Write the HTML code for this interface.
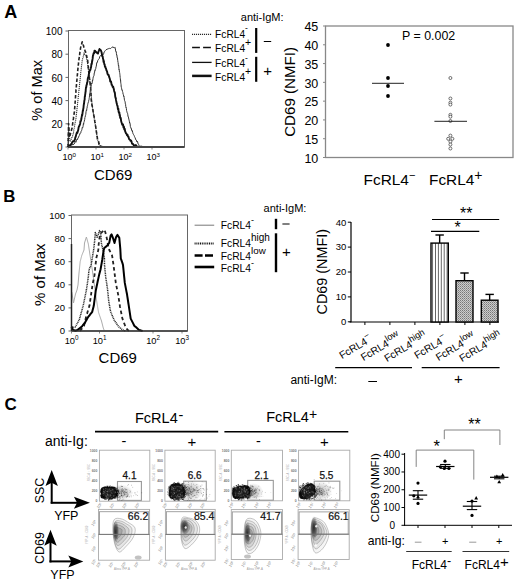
<!DOCTYPE html>
<html><head><meta charset="utf-8"><style>
html,body{margin:0;padding:0;background:#fff;}
body{width:520px;height:588px;overflow:hidden;}
svg{display:block;font-family:"Liberation Sans", sans-serif;}
</style></head><body>
<svg width="520" height="588" viewBox="0 0 520 588">
<rect width="520" height="588" fill="#fff"/>
<defs><filter id="bl" x="-20%" y="-20%" width="140%" height="140%"><feGaussianBlur stdDeviation="0.6"/></filter></defs><text x="4.3" y="18" font-size="18" text-anchor="start" font-weight="bold" fill="#000">A</text><rect x="68.5" y="30.5" width="116.0" height="116.5" fill="none" stroke="#666" stroke-width="1"/><line x1="65.5" y1="31.0" x2="68.5" y2="31.0" stroke="#666" stroke-width="1"/><text x="62.5" y="35.2" font-size="10" text-anchor="end" font-weight="normal" fill="#000">100</text><line x1="65.5" y1="54.2" x2="68.5" y2="54.2" stroke="#666" stroke-width="1"/><text x="62.5" y="58.400000000000006" font-size="10" text-anchor="end" font-weight="normal" fill="#000">80</text><line x1="65.5" y1="77.4" x2="68.5" y2="77.4" stroke="#666" stroke-width="1"/><text x="62.5" y="81.60000000000001" font-size="10" text-anchor="end" font-weight="normal" fill="#000">60</text><line x1="65.5" y1="100.6" x2="68.5" y2="100.6" stroke="#666" stroke-width="1"/><text x="62.5" y="104.8" font-size="10" text-anchor="end" font-weight="normal" fill="#000">40</text><line x1="65.5" y1="123.8" x2="68.5" y2="123.8" stroke="#666" stroke-width="1"/><text x="62.5" y="128.0" font-size="10" text-anchor="end" font-weight="normal" fill="#000">20</text><line x1="65.5" y1="147.0" x2="68.5" y2="147.0" stroke="#666" stroke-width="1"/><text x="62.5" y="151.2" font-size="10" text-anchor="end" font-weight="normal" fill="#000">0</text><text x="41.9" y="90.3" font-size="14.6" text-anchor="middle" font-weight="normal" fill="#000" transform="rotate(-90 41.9 90.3)">% of Max</text><line x1="68" y1="147" x2="68" y2="149.5" stroke="#888" stroke-width="1"/><text x="62.6" y="160" font-size="9" text-anchor="start" fill="#000">10<tspan dy="-3.4" font-size="6.2">0</tspan></text><line x1="96" y1="147" x2="96" y2="149.5" stroke="#888" stroke-width="1"/><text x="90.6" y="160" font-size="9" text-anchor="start" fill="#000">10<tspan dy="-3.4" font-size="6.2">1</tspan></text><line x1="124" y1="147" x2="124" y2="149.5" stroke="#888" stroke-width="1"/><text x="118.6" y="160" font-size="9" text-anchor="start" fill="#000">10<tspan dy="-3.4" font-size="6.2">2</tspan></text><line x1="152" y1="147" x2="152" y2="149.5" stroke="#888" stroke-width="1"/><text x="146.6" y="160" font-size="9" text-anchor="start" fill="#000">10<tspan dy="-3.4" font-size="6.2">3</tspan></text><text x="113.2" y="180" font-size="15" text-anchor="middle" font-weight="normal" fill="#000">CD69</text><polyline points="68.00,147.00 68.03,146.00 68.05,144.56 68.08,144.42 68.11,143.32 68.13,141.71 68.16,140.99 68.18,139.94 68.21,139.18 68.24,138.35 68.26,136.51 68.29,135.43 68.32,135.40 68.34,133.92 68.37,133.31 68.39,131.40 68.42,130.93 68.45,130.27 68.47,128.67 68.50,128.53 68.61,129.48 68.71,129.44 68.82,130.43 68.93,132.05 69.04,133.53 69.14,133.86 69.25,134.66 69.36,135.91 69.46,136.43 69.57,137.67 69.68,138.93 69.79,139.99 69.89,140.68 70.00,141.68 70.43,140.66 70.86,139.95 71.29,138.75 71.71,137.43 72.14,137.41 72.57,136.07 73.00,135.17 73.18,133.62 73.35,133.59 73.53,132.43 73.71,130.55 73.88,129.80 74.06,129.27 74.24,128.25 74.41,127.52 74.59,125.91 74.76,125.40 74.94,124.20 75.12,122.76 75.29,122.11 75.47,121.46 75.65,120.42 75.82,119.01 76.00,118.11 76.11,116.44 76.22,115.69 76.33,115.36 76.44,113.90 76.56,112.61 76.67,112.06 76.78,111.24 76.89,110.21 77.00,108.85 77.11,107.93 77.22,107.01 77.33,106.33 77.44,105.03 77.56,103.87 77.67,102.99 77.78,101.44 77.89,100.45 78.00,100.24 78.10,99.58 78.20,98.11 78.30,96.87 78.40,95.60 78.50,95.00 78.60,94.58 78.70,93.32 78.80,92.05 78.90,91.43 79.00,89.68 79.10,89.02 79.20,88.54 79.30,87.09 79.40,85.95 79.50,84.72 79.60,84.06 79.70,83.55 79.80,81.41 79.90,81.34 80.00,80.38 80.11,79.46 80.22,78.29 80.33,77.37 80.44,76.02 80.56,75.07 80.67,73.91 80.78,72.47 80.89,72.44 81.00,71.08 81.11,69.64 81.22,69.01 81.33,67.98 81.44,66.83 81.56,65.82 81.67,65.05 81.78,64.15 81.89,63.13 82.00,61.95 82.22,60.43 82.44,59.68 82.67,58.61 82.89,58.10 83.11,57.43 83.33,56.36 83.56,55.36 83.78,54.38 84.00,52.71 84.75,54.41 85.50,55.21 85.80,55.50 86.10,56.42 86.40,57.42 86.70,59.31 87.00,59.70 87.14,60.53 87.29,62.15 87.43,62.81 87.57,63.48 87.71,64.59 87.86,66.03 88.00,66.60 88.14,67.73 88.29,69.25 88.43,69.95 88.57,70.79 88.71,71.97 88.86,72.43 89.00,73.86 89.11,74.91 89.23,75.63 89.34,76.53 89.46,78.48 89.57,79.01 89.69,79.65 89.80,81.13 89.91,82.38 90.03,82.42 90.14,83.42 90.26,84.58 90.37,86.26 90.49,86.59 90.60,88.25 90.69,89.21 90.77,90.05 90.86,90.66 90.95,92.57 91.04,93.36 91.12,94.02 91.21,94.67 91.30,96.18 91.39,96.87 91.47,98.09 91.56,98.79 91.65,100.16 91.74,100.47 91.83,101.76 91.91,103.56 92.00,104.45 92.16,104.77 92.31,106.43 92.47,106.77 92.62,108.53 92.78,109.29 92.94,109.90 93.09,110.70 93.25,111.41 93.41,113.45 93.56,113.45 93.72,115.38 93.88,116.55 94.03,117.08 94.19,117.61 94.34,119.44 94.50,120.57 94.66,121.24 94.82,122.01 94.97,122.85 95.13,123.82 95.29,124.65 95.45,126.21 95.61,126.92 95.76,127.63 95.92,128.53 96.08,130.20 96.24,130.76 96.39,132.00 96.55,132.79 96.71,134.45 96.87,135.48 97.03,135.42 97.18,136.64 97.34,137.79 97.50,139.58 97.92,140.34 98.33,140.81 98.75,141.66 99.17,143.21 99.58,144.41 100.00,145.52 101.00,145.48 102.00,146.33 103.00,147.00" fill="none" stroke="#333" stroke-width="1.1" stroke-linejoin="round" stroke-dasharray="1.2,0.8"/><polyline points="68.00,147.00 68.03,146.00 68.05,145.55 68.08,144.54 68.10,142.47 68.13,141.50 68.16,141.40 68.18,140.28 68.21,139.20 68.23,137.77 68.26,137.13 68.29,136.13 68.31,135.10 68.34,133.59 68.37,132.92 68.39,131.87 68.42,131.27 68.44,130.59 68.47,129.54 68.50,128.05 68.52,126.93 68.55,125.72 68.57,124.44 68.60,123.43 68.67,124.96 68.74,125.78 68.81,126.86 68.88,128.47 68.95,129.03 69.02,130.07 69.08,130.68 69.15,131.43 69.22,132.79 69.29,133.56 69.36,135.01 69.43,136.60 69.50,137.21 69.78,135.62 70.06,135.47 70.33,134.36 70.61,133.28 70.89,132.49 71.17,131.32 71.44,130.35 71.72,128.82 72.00,128.58 72.15,127.55 72.29,125.59 72.44,125.30 72.59,124.26 72.74,122.95 72.88,122.04 73.03,120.99 73.18,120.51 73.32,119.00 73.47,118.40 73.62,116.82 73.76,116.46 73.91,115.48 74.06,113.95 74.21,113.08 74.35,112.50 74.50,111.27 74.57,109.98 74.64,108.67 74.71,107.79 74.79,107.24 74.86,105.60 74.93,105.49 75.00,103.72 75.07,103.49 75.14,101.77 75.21,101.55 75.29,100.25 75.36,99.01 75.43,98.02 75.50,97.18 75.57,96.11 75.64,94.77 75.71,93.65 75.79,93.01 75.86,92.52 75.93,91.15 76.00,89.49 76.09,89.38 76.18,88.27 76.27,87.49 76.36,85.63 76.45,85.29 76.55,83.47 76.64,83.18 76.73,81.73 76.82,80.67 76.91,80.45 77.00,78.53 77.09,78.03 77.18,77.42 77.27,75.69 77.36,74.65 77.45,74.46 77.55,72.91 77.64,72.26 77.73,70.44 77.82,69.83 77.91,68.61 78.00,68.21 78.11,66.50 78.22,66.55 78.33,64.43 78.44,64.28 78.56,62.43 78.67,61.71 78.78,61.38 78.89,59.59 79.00,58.62 79.15,58.23 79.29,56.86 79.44,55.45 79.58,55.59 79.73,53.58 79.87,52.44 80.02,51.81 80.16,51.14 80.31,50.29 80.45,48.54 80.60,47.80 80.87,46.35 81.13,45.77 81.40,45.07 81.67,43.95 81.93,43.07 82.20,41.81 82.53,43.06 82.85,44.00 83.17,44.84 83.50,45.67 83.84,47.19 84.18,47.78 84.52,48.52 84.86,49.94 85.20,51.45 85.49,51.55 85.78,53.10 86.06,53.87 86.35,55.02 86.64,55.57 86.92,57.55 87.21,57.71 87.50,59.13 87.60,59.90 87.70,60.42 87.80,62.07 87.90,62.57 88.00,63.47 88.10,64.44 88.20,65.59 88.30,66.52 88.40,68.16 88.50,69.01 88.60,70.58 88.70,71.52 88.80,72.59 88.90,72.68 89.00,73.93 89.11,74.70 89.23,76.11 89.34,77.15 89.46,78.36 89.57,79.25 89.69,79.71 89.80,80.91 89.91,82.03 90.03,82.41 90.14,83.44 90.26,84.89 90.37,85.53 90.49,87.27 90.60,87.69 90.66,88.52 90.71,89.62 90.77,90.68 90.83,91.66 90.89,93.02 90.94,93.96 91.00,94.77 91.06,96.17 91.11,96.65 91.17,98.49 91.23,99.56 91.29,100.27 91.34,100.92 91.40,102.01 91.58,103.10 91.76,103.46 91.95,104.90 92.13,106.03 92.31,106.62 92.49,107.51 92.68,109.36 92.86,109.84 93.04,111.02 93.22,112.51 93.41,113.13 93.59,113.75 93.77,115.58 93.95,115.85 94.14,116.42 94.32,118.22 94.50,118.52 94.65,119.77 94.80,121.41 94.95,122.21 95.10,122.42 95.25,123.94 95.40,124.89 95.55,125.98 95.70,126.65 95.85,128.11 96.00,128.49 96.15,129.74 96.30,130.85 96.45,132.52 96.60,132.49 96.75,134.31 96.90,134.63 97.05,136.09 97.20,136.87 97.35,137.96 97.50,139.30 97.80,139.87 98.10,140.55 98.40,141.55 98.70,142.50 99.00,144.42 99.80,145.00 100.60,146.22 101.40,146.50 102.70,146.75 104.00,147.00" fill="none" stroke="#222" stroke-width="1.6" stroke-linejoin="round" stroke-dasharray="3.5,2"/><polyline points="68.00,147.00 69.00,146.49 70.00,145.45 71.00,145.55 72.00,144.68 73.00,144.64 74.00,144.17 75.00,142.53 75.50,141.49 76.00,142.19 76.50,140.10 77.00,139.11 77.50,139.69 78.00,137.70 78.50,137.49 79.00,135.83 79.50,135.22 80.00,133.30 80.38,133.33 80.75,132.86 81.12,131.23 81.50,130.73 81.88,129.66 82.25,127.50 82.62,127.95 83.00,126.68 83.21,125.11 83.43,123.58 83.64,124.25 83.86,122.47 84.07,121.97 84.29,121.30 84.50,119.98 84.71,119.40 84.93,117.35 85.14,117.17 85.36,115.47 85.57,115.46 85.79,114.35 86.00,111.79 86.21,110.89 86.43,110.06 86.64,110.57 86.86,108.53 87.07,107.92 87.29,106.29 87.50,105.71 87.71,104.49 87.93,103.43 88.14,102.91 88.36,101.93 88.57,101.58 88.79,100.15 89.00,99.66 89.16,98.43 89.32,97.62 89.48,95.90 89.64,93.81 89.80,94.12 89.96,93.25 90.12,92.05 90.28,90.30 90.44,89.51 90.60,87.42 90.87,87.64 91.13,86.10 91.40,84.50 91.67,83.04 91.93,83.60 92.20,82.85 92.47,80.02 92.73,80.42 93.00,78.62 93.25,77.07 93.51,76.33 93.76,76.26 94.01,75.44 94.27,72.76 94.52,72.87 94.77,70.70 95.03,71.02 95.28,69.22 95.53,69.30 95.79,68.47 96.04,66.49 96.29,66.45 96.55,64.05 96.80,62.55 97.30,62.57 97.80,60.40 98.30,59.69 98.80,59.08 99.30,58.45 99.80,56.51 100.60,55.48 101.40,56.34 102.20,54.43 103.00,54.92 103.60,53.89 104.20,51.96 104.80,51.22 105.40,50.44 106.00,49.79 107.15,49.24 108.30,48.72 109.45,48.39 110.60,48.58 111.80,47.36 113.00,46.86 114.10,47.94 115.20,47.48 115.41,48.58 115.62,50.92 115.83,50.99 116.04,52.02 116.25,51.93 116.45,53.72 116.66,55.03 116.87,54.89 117.08,57.07 117.29,58.08 117.50,57.92 117.65,60.07 117.81,60.76 117.96,62.20 118.11,62.56 118.27,64.28 118.42,65.36 118.57,64.94 118.73,66.03 118.88,68.27 119.03,69.86 119.19,69.45 119.34,70.87 119.49,72.16 119.65,72.63 119.80,73.73 119.91,74.63 120.03,75.74 120.14,77.19 120.26,77.60 120.37,78.75 120.49,80.54 120.60,80.05 120.71,82.14 120.83,83.47 120.94,83.62 121.06,84.45 121.17,86.61 121.29,86.48 121.40,87.37 121.69,88.83 121.98,90.32 122.26,90.09 122.55,91.49 122.84,92.48 123.12,94.44 123.41,94.61 123.70,96.41 123.91,96.06 124.11,97.41 124.32,99.06 124.53,100.55 124.73,100.70 124.94,101.27 125.15,102.08 125.35,103.92 125.56,104.26 125.77,106.51 125.97,107.60 126.18,107.31 126.39,108.52 126.59,110.59 126.80,111.28 127.05,112.65 127.31,112.76 127.56,113.36 127.81,114.72 128.07,116.75 128.32,116.74 128.57,117.93 128.83,119.10 129.08,120.14 129.33,121.15 129.59,123.21 129.84,122.71 130.09,123.44 130.35,126.35 130.60,127.26 130.95,128.42 131.31,128.26 131.66,130.24 132.02,131.14 132.37,130.67 132.72,132.67 133.08,133.80 133.43,134.40 133.78,135.05 134.14,135.54 134.49,136.59 134.85,137.31 135.20,137.94 135.77,139.84 136.35,140.10 136.93,142.01 137.50,141.34 138.07,143.92 138.65,144.36 139.23,145.69 139.80,146.49 140.98,146.02 142.15,146.35 143.32,146.68 144.50,147.00" fill="none" stroke="#333" stroke-width="1" stroke-linejoin="round"/><polyline points="68.00,147.00 69.00,146.33 70.00,145.09 71.00,144.13 71.57,143.89 72.14,142.47 72.71,141.39 73.29,141.24 73.86,141.49 74.43,140.35 75.00,139.38 75.33,137.21 75.67,136.93 76.00,135.38 76.33,134.17 76.67,133.04 77.00,132.31 77.33,132.90 77.67,131.70 78.00,130.67 78.31,129.64 78.62,127.29 78.93,126.53 79.24,126.21 79.55,125.42 79.85,124.67 80.16,123.71 80.47,120.95 80.78,121.07 81.09,120.20 81.40,118.81 81.60,116.99 81.80,116.54 82.00,114.60 82.20,115.36 82.40,114.10 82.60,112.30 82.80,110.66 83.00,110.90 83.17,109.08 83.33,108.69 83.50,107.53 83.67,105.71 83.83,104.42 84.00,103.75 84.17,102.30 84.33,100.63 84.50,99.87 84.62,99.96 84.75,97.25 84.88,96.23 85.00,96.48 85.12,94.69 85.25,94.23 85.38,93.06 85.50,91.75 85.62,92.17 85.75,89.38 85.88,88.83 86.00,87.35 86.21,87.29 86.43,85.51 86.64,84.68 86.86,84.54 87.07,82.61 87.29,82.13 87.50,81.89 87.71,79.12 87.93,78.04 88.14,77.40 88.36,77.58 88.57,76.25 88.79,74.42 89.00,73.63 89.27,72.29 89.53,71.91 89.80,69.99 90.07,70.43 90.33,69.87 90.60,69.00 90.87,67.52 91.13,67.01 91.40,63.94 91.58,63.54 91.76,64.03 91.93,62.61 92.11,60.80 92.29,60.98 92.47,59.27 92.64,58.70 92.82,56.55 93.00,55.32 93.30,54.88 93.60,53.20 93.90,52.74 94.20,53.02 94.50,50.63 95.25,50.92 96.00,52.00 97.50,53.27 98.00,53.58 98.50,51.62 99.00,50.42 99.50,48.95 100.00,49.86 100.38,49.68 100.75,50.26 101.12,50.98 101.50,52.02 101.80,53.43 102.10,55.71 102.40,55.71 102.70,56.63 103.00,58.78 103.27,59.22 103.55,61.84 103.82,60.89 104.09,62.76 104.36,64.27 104.64,64.44 104.91,66.68 105.18,66.53 105.45,66.99 105.73,68.33 106.00,68.48 106.50,70.45 107.00,71.20 107.50,73.73 108.00,74.73 108.33,74.97 108.65,74.92 108.97,76.38 109.30,77.33 109.62,78.23 109.95,79.26 110.27,81.64 110.60,81.01 111.12,81.85 111.63,84.81 112.15,85.04 112.67,87.01 113.18,86.75 113.70,88.88 113.91,89.37 114.11,90.69 114.32,91.62 114.53,92.09 114.73,92.24 114.94,93.52 115.15,96.01 115.35,97.09 115.56,98.17 115.77,97.91 115.97,99.64 116.18,100.98 116.39,101.66 116.59,103.07 116.80,103.46 117.06,104.76 117.31,105.85 117.57,105.96 117.82,108.42 118.08,109.51 118.33,108.60 118.59,111.59 118.84,112.59 119.10,112.97 119.36,112.62 119.61,115.52 119.87,114.85 120.12,117.72 120.38,118.08 120.63,117.77 120.89,119.02 121.14,121.08 121.40,121.95 121.82,123.32 122.24,124.70 122.65,124.13 123.07,124.63 123.49,127.64 123.91,126.62 124.33,129.50 124.75,128.81 125.16,131.32 125.58,132.24 126.00,133.43 126.50,133.61 127.00,135.23 127.50,134.64 128.00,136.58 128.50,136.73 129.00,138.86 129.50,139.50 130.00,139.74 130.50,140.76 131.00,140.56 131.50,141.48 132.00,143.61 132.96,144.00 133.92,145.44 134.88,145.50 135.84,145.09 136.80,146.50 137.87,146.67 138.93,146.83 140.00,147.00" fill="none" stroke="#111" stroke-width="1.9" stroke-linejoin="round"/><line x1="68.5" y1="147" x2="184.5" y2="147" stroke="#444" stroke-width="1.8"/><text x="240.8" y="21" font-size="11" text-anchor="start" font-weight="normal" fill="#000">anti-IgM:</text><line x1="192.1" y1="34.4" x2="211.6" y2="34.4" stroke="#111" stroke-width="1.2" stroke-dasharray="1,1"/><text x="215.1" y="38" font-size="10.2" text-anchor="start" fill="#000">FcRL4<tspan dy="-6.8" font-size="8.5">-</tspan></text><line x1="192.1" y1="47.5" x2="211.6" y2="47.5" stroke="#111" stroke-width="1.7" stroke-dasharray="7.8,3.2"/><text x="215.1" y="51.9" font-size="10.2" text-anchor="start" fill="#000">FcRL4<tspan dy="-6" font-size="10.5">+</tspan></text><line x1="192.1" y1="62.4" x2="211.6" y2="62.4" stroke="#111" stroke-width="1.3"/><text x="215.1" y="67.3" font-size="10.2" text-anchor="start" fill="#000">FcRL4<tspan dy="-6.8" font-size="8.5">-</tspan></text><line x1="192.1" y1="75.9" x2="211.6" y2="75.9" stroke="#111" stroke-width="2.5"/><text x="215.1" y="80.8" font-size="10.2" text-anchor="start" fill="#000">FcRL4<tspan dy="-6" font-size="10.5">+</tspan></text><line x1="256.2" y1="28" x2="256.2" y2="52.9" stroke="#000" stroke-width="2.2"/><line x1="256.2" y1="56.8" x2="256.2" y2="81.8" stroke="#000" stroke-width="2.2"/><line x1="263.8" y1="41.5" x2="271.2" y2="41.5" stroke="#000" stroke-width="1"/><text x="267.7" y="75.8" font-size="15" text-anchor="middle" font-weight="normal" fill="#000">+</text><rect x="325.5" y="26" width="187.5" height="131.5" fill="none" stroke="#888" stroke-width="1.3"/><line x1="323" y1="26.0" x2="325.5" y2="26.0" stroke="#888" stroke-width="1"/><text x="318.3" y="31.2" font-size="12.5" text-anchor="end" font-weight="normal" fill="#000">45</text><line x1="323" y1="44.78571428571429" x2="325.5" y2="44.78571428571429" stroke="#888" stroke-width="1"/><text x="318.3" y="49.985714285714295" font-size="12.5" text-anchor="end" font-weight="normal" fill="#000">40</text><line x1="323" y1="63.57142857142857" x2="325.5" y2="63.57142857142857" stroke="#888" stroke-width="1"/><text x="318.3" y="68.77142857142857" font-size="12.5" text-anchor="end" font-weight="normal" fill="#000">35</text><line x1="323" y1="82.35714285714286" x2="325.5" y2="82.35714285714286" stroke="#888" stroke-width="1"/><text x="318.3" y="87.55714285714286" font-size="12.5" text-anchor="end" font-weight="normal" fill="#000">30</text><line x1="323" y1="101.14285714285714" x2="325.5" y2="101.14285714285714" stroke="#888" stroke-width="1"/><text x="318.3" y="106.34285714285714" font-size="12.5" text-anchor="end" font-weight="normal" fill="#000">25</text><line x1="323" y1="119.92857142857143" x2="325.5" y2="119.92857142857143" stroke="#888" stroke-width="1"/><text x="318.3" y="125.12857142857143" font-size="12.5" text-anchor="end" font-weight="normal" fill="#000">20</text><line x1="323" y1="138.71428571428572" x2="325.5" y2="138.71428571428572" stroke="#888" stroke-width="1"/><text x="318.3" y="143.9142857142857" font-size="12.5" text-anchor="end" font-weight="normal" fill="#000">15</text><line x1="323" y1="157.5" x2="325.5" y2="157.5" stroke="#888" stroke-width="1"/><text x="318.3" y="162.7" font-size="12.5" text-anchor="end" font-weight="normal" fill="#000">10</text><text x="295.3" y="91.9" font-size="15.1" text-anchor="middle" font-weight="normal" fill="#000" transform="rotate(-90 295.3 91.9)">CD69 (NMFI)</text><text x="402" y="40.1" font-size="12.4" text-anchor="start" font-weight="normal" fill="#000">P = 0.002</text><circle cx="388" cy="45" r="1.9" fill="#000"/><circle cx="388" cy="78" r="1.9" fill="#000"/><circle cx="388" cy="86" r="1.9" fill="#000"/><circle cx="388" cy="96" r="1.9" fill="#000"/><line x1="372" y1="83.3" x2="404" y2="83.3" stroke="#222" stroke-width="1"/><circle cx="450.4" cy="78" r="1.5" fill="#fff" stroke="#333" stroke-width="0.7"/><circle cx="450.4" cy="98.5" r="1.5" fill="#fff" stroke="#333" stroke-width="0.7"/><circle cx="450.4" cy="102.7" r="1.5" fill="#fff" stroke="#333" stroke-width="0.7"/><circle cx="450.4" cy="104.6" r="1.5" fill="#fff" stroke="#333" stroke-width="0.7"/><circle cx="450.4" cy="114.8" r="1.5" fill="#fff" stroke="#333" stroke-width="0.7"/><circle cx="450.4" cy="116.7" r="1.5" fill="#fff" stroke="#333" stroke-width="0.7"/><circle cx="450.4" cy="121" r="1.5" fill="#fff" stroke="#333" stroke-width="0.7"/><circle cx="450.4" cy="135.6" r="1.5" fill="#fff" stroke="#333" stroke-width="0.7"/><circle cx="448.2" cy="138.8" r="1.5" fill="#fff" stroke="#333" stroke-width="0.7"/><circle cx="452.4" cy="138.8" r="1.5" fill="#fff" stroke="#333" stroke-width="0.7"/><circle cx="450.4" cy="141.7" r="1.5" fill="#fff" stroke="#333" stroke-width="0.7"/><circle cx="450.4" cy="144.6" r="1.5" fill="#fff" stroke="#333" stroke-width="0.7"/><circle cx="450.4" cy="148.5" r="1.5" fill="#fff" stroke="#333" stroke-width="0.7"/><line x1="434.4" y1="121.3" x2="467" y2="121.3" stroke="#222" stroke-width="1"/><text x="363.6" y="184.5" font-size="15.4" text-anchor="start" fill="#000">FcRL4<tspan dy="-5.2" font-size="11">−</tspan></text><text x="429" y="184.5" font-size="15.4" text-anchor="start" fill="#000">FcRL4<tspan dy="-4.1" font-size="14">+</tspan></text><text x="3.3" y="202" font-size="16.8" text-anchor="start" font-weight="bold" fill="#000">B</text><rect x="71.5" y="215" width="116.0" height="116" fill="none" stroke="#666" stroke-width="1"/><line x1="68.5" y1="215.5" x2="71.5" y2="215.5" stroke="#666" stroke-width="1"/><text x="65" y="218.9" font-size="9.5" text-anchor="end" font-weight="normal" fill="#000">100</text><line x1="68.5" y1="238.6" x2="71.5" y2="238.6" stroke="#666" stroke-width="1"/><text x="65" y="242.0" font-size="9.5" text-anchor="end" font-weight="normal" fill="#000">80</text><line x1="68.5" y1="261.7" x2="71.5" y2="261.7" stroke="#666" stroke-width="1"/><text x="65" y="265.09999999999997" font-size="9.5" text-anchor="end" font-weight="normal" fill="#000">60</text><line x1="68.5" y1="284.8" x2="71.5" y2="284.8" stroke="#666" stroke-width="1"/><text x="65" y="288.2" font-size="9.5" text-anchor="end" font-weight="normal" fill="#000">40</text><line x1="68.5" y1="307.9" x2="71.5" y2="307.9" stroke="#666" stroke-width="1"/><text x="65" y="311.29999999999995" font-size="9.5" text-anchor="end" font-weight="normal" fill="#000">20</text><line x1="68.5" y1="331.0" x2="71.5" y2="331.0" stroke="#666" stroke-width="1"/><text x="65" y="334.4" font-size="9.5" text-anchor="end" font-weight="normal" fill="#000">0</text><text x="44.6" y="274.7" font-size="15" text-anchor="middle" font-weight="normal" fill="#000" transform="rotate(-90 44.6 274.7)">% of Max</text><line x1="71.5" y1="331" x2="71.5" y2="333.5" stroke="#888" stroke-width="1"/><text x="64.7" y="343.5" font-size="9.3" text-anchor="start" fill="#000">10<tspan dy="-3.4" font-size="6.3">0</tspan></text><line x1="99.5" y1="331" x2="99.5" y2="333.5" stroke="#888" stroke-width="1"/><text x="92.7" y="343.5" font-size="9.3" text-anchor="start" fill="#000">10<tspan dy="-3.4" font-size="6.3">1</tspan></text><line x1="153" y1="331" x2="153" y2="333.5" stroke="#888" stroke-width="1"/><text x="146.2" y="343.5" font-size="9.3" text-anchor="start" fill="#000">10<tspan dy="-3.4" font-size="6.3">2</tspan></text><line x1="182" y1="331" x2="182" y2="333.5" stroke="#888" stroke-width="1"/><text x="175.2" y="343.5" font-size="9.3" text-anchor="start" fill="#000">10<tspan dy="-3.4" font-size="6.3">3</tspan></text><text x="117.8" y="363" font-size="15" text-anchor="middle" font-weight="normal" fill="#000">CD69</text><polyline points="71.80,292.00 71.95,293.00 72.11,294.00 72.26,295.00 72.42,296.00 72.57,297.00 72.73,298.00 72.88,299.00 73.04,300.00 73.19,301.00 73.35,302.00 73.50,303.00 73.72,302.00 73.94,301.00 74.17,300.00 74.39,299.00 74.61,298.00 74.83,297.00 75.06,296.00 75.28,295.00 75.50,294.00 75.88,293.00 76.25,292.00 76.62,291.00 77.00,290.00 77.20,289.00 77.40,288.00 77.60,287.00 77.80,286.00 78.00,285.00 78.08,284.00 78.17,283.00 78.25,282.00 78.33,281.00 78.42,280.00 78.50,279.00 78.58,278.00 78.67,277.00 78.75,276.00 78.83,275.00 78.92,274.00 79.00,273.00 79.11,271.95 79.22,270.91 79.33,269.86 79.44,268.82 79.55,267.77 79.65,266.73 79.76,265.68 79.87,264.64 79.98,263.59 80.09,262.55 80.20,261.50 80.47,260.48 80.73,259.47 81.00,258.45 81.27,257.43 81.53,256.42 81.80,255.40 82.24,254.32 82.68,253.24 83.12,252.16 83.56,251.08 84.00,250.00 84.07,249.00 84.14,248.00 84.21,247.00 84.29,246.00 84.36,245.00 84.43,244.00 84.50,243.00 84.82,242.00 85.13,241.00 85.45,240.00 85.77,239.00 86.08,238.00 86.40,237.00 86.67,237.97 86.94,238.94 87.21,239.91 87.49,240.89 87.76,241.86 88.03,242.83 88.30,243.80 88.45,244.82 88.61,245.84 88.76,246.85 88.92,247.87 89.07,248.89 89.23,249.91 89.38,250.93 89.54,251.95 89.69,252.96 89.85,253.98 90.00,255.00 90.15,256.00 90.31,257.00 90.46,258.00 90.62,259.00 90.77,260.00 90.92,261.00 91.08,262.00 91.23,263.00 91.38,264.00 91.54,265.00 91.69,266.00 91.85,267.00 92.00,268.00 92.14,269.00 92.29,270.00 92.43,271.00 92.57,272.00 92.71,273.00 92.86,274.00 93.00,275.00 93.14,276.00 93.29,277.00 93.43,278.00 93.57,279.00 93.71,280.00 93.86,281.00 94.00,282.00 94.14,283.00 94.28,284.00 94.42,285.00 94.57,286.00 94.71,287.00 94.85,288.00 94.99,289.00 95.13,290.00 95.28,291.00 95.42,292.00 95.56,293.00 95.70,294.00 95.83,295.07 95.95,296.15 96.08,297.23 96.20,298.30 96.37,299.32 96.54,300.34 96.71,301.36 96.89,302.39 97.06,303.41 97.23,304.43 97.40,305.45 97.57,306.47 97.74,307.49 97.91,308.51 98.09,309.54 98.26,310.56 98.43,311.58 98.60,312.60 98.96,313.65 99.32,314.70 99.69,315.75 100.05,316.80 100.41,317.85 100.78,318.90 101.14,319.95 101.50,321.00 101.76,322.01 102.01,323.03 102.27,324.04 102.53,325.06 102.79,326.07 103.04,327.09 103.30,328.10 103.70,329.07 104.10,330.03 104.50,331.00" fill="none" stroke="#aaa" stroke-width="1" stroke-linejoin="round"/><polyline points="71.80,327.00 73.00,327.60 74.20,327.20 75.40,326.80 75.89,325.91 76.38,325.02 76.86,324.14 77.35,323.25 77.84,322.36 78.33,321.48 78.81,320.59 79.30,319.70 79.58,318.69 79.86,317.69 80.14,316.68 80.41,315.67 80.69,314.66 80.97,313.66 81.25,312.65 81.53,311.64 81.81,310.64 82.09,309.63 82.36,308.62 82.64,307.61 82.92,306.61 83.20,305.60 83.41,304.56 83.63,303.52 83.84,302.48 84.05,301.44 84.27,300.40 84.48,299.36 84.69,298.32 84.91,297.28 85.12,296.24 85.33,295.20 85.55,294.16 85.76,293.12 85.97,292.08 86.19,291.04 86.40,290.00 86.56,288.92 86.72,287.84 86.88,286.76 87.04,285.68 87.20,284.60 87.36,283.51 87.51,282.43 87.67,281.34 87.83,280.26 87.99,279.17 88.14,278.09 88.30,277.00 88.40,276.00 88.50,275.00 88.60,274.00 88.70,273.00 88.80,272.00 88.90,271.00 89.00,270.00 89.44,268.90 89.88,267.80 90.32,266.70 90.76,265.60 91.20,264.50 91.37,263.45 91.55,262.41 91.72,261.36 91.89,260.31 92.07,259.27 92.24,258.22 92.41,257.17 92.59,256.13 92.76,255.08 92.93,254.03 93.11,252.99 93.28,251.94 93.45,250.89 93.63,249.85 93.80,248.80 93.91,247.73 94.02,246.67 94.13,245.60 94.24,244.53 94.36,243.47 94.47,242.40 94.58,241.33 94.69,240.27 94.80,239.20 94.88,238.08 94.97,236.97 95.05,235.85 95.13,234.73 95.22,233.62 95.30,232.50 95.68,233.46 96.06,234.42 96.44,235.38 96.82,236.34 97.20,237.30 97.54,236.34 97.89,235.39 98.23,234.43 98.57,233.47 98.91,232.51 99.26,231.56 99.60,230.60 100.10,231.55 100.60,232.50 100.68,233.55 100.76,234.59 100.85,235.64 100.93,236.68 101.01,237.73 101.09,238.77 101.17,239.82 101.25,240.86 101.34,241.91 101.42,242.95 101.50,244.00 101.79,245.10 102.07,246.20 102.36,247.30 102.64,248.40 102.93,249.50 103.21,250.60 103.50,251.70 103.65,252.83 103.80,253.97 103.95,255.10 104.10,256.23 104.25,257.37 104.40,258.50 104.42,259.58 104.43,260.67 104.45,261.75 104.47,262.83 104.48,263.92 104.50,265.00 104.61,266.08 104.72,267.16 104.83,268.25 104.94,269.33 105.05,270.41 105.15,271.49 105.26,272.57 105.37,273.65 105.48,274.74 105.59,275.82 105.70,276.90 105.85,277.89 106.00,278.88 106.15,279.88 106.30,280.87 106.45,281.86 106.60,282.85 106.75,283.84 106.90,284.83 107.05,285.82 107.20,286.82 107.35,287.81 107.50,288.80 107.61,289.88 107.72,290.96 107.83,292.05 107.94,293.13 108.05,294.21 108.15,295.29 108.26,296.37 108.37,297.45 108.48,298.54 108.59,299.62 108.70,300.70 108.88,301.77 109.06,302.84 109.24,303.91 109.42,304.98 109.60,306.05 109.78,307.12 109.96,308.19 110.14,309.26 110.32,310.33 110.50,311.40 110.89,312.33 111.28,313.27 111.67,314.20 112.06,315.13 112.44,316.07 112.83,317.00 113.22,317.93 113.61,318.87 114.00,319.80 114.60,320.69 115.20,321.57 115.80,322.46 116.40,323.35 117.00,324.24 117.60,325.12 118.20,326.01 118.80,326.90 119.60,327.50 120.40,328.10 121.20,328.70 122.00,329.30 122.80,329.90 123.60,330.50 124.80,330.75 126.00,331.00" fill="none" stroke="#222" stroke-width="1.5" stroke-linejoin="round" stroke-dasharray="1,0.7"/><polyline points="80.00,331.00 80.67,330.17 81.33,329.33 82.00,328.50 82.67,327.67 83.33,326.83 84.00,326.00 84.23,325.00 84.45,324.00 84.68,323.00 84.91,322.00 85.14,321.00 85.36,320.00 85.59,319.00 85.82,318.00 86.05,317.00 86.27,316.00 86.50,315.00 87.10,313.50 87.40,312.51 87.70,311.52 88.00,310.54 88.30,309.55 88.60,308.56 88.90,307.58 89.20,306.59 89.50,305.60 89.65,304.58 89.79,303.55 89.94,302.53 90.08,301.51 90.23,300.48 90.38,299.46 90.52,298.44 90.67,297.42 90.82,296.39 90.96,295.37 91.11,294.35 91.25,293.32 91.40,292.30 91.60,291.15 91.80,290.00 91.94,288.92 92.08,287.84 92.22,286.76 92.36,285.68 92.50,284.60 92.72,283.58 92.94,282.56 93.17,281.53 93.39,280.51 93.61,279.49 93.83,278.47 94.06,277.44 94.28,276.42 94.50,275.40 94.60,274.30 94.70,273.20 94.80,272.10 94.90,271.00 95.00,269.90 95.10,268.80 95.20,267.70 95.32,266.70 95.44,265.70 95.56,264.70 95.68,263.70 95.80,262.70 95.92,261.70 96.04,260.70 96.16,259.70 96.28,258.70 96.40,257.70 96.67,256.60 96.94,255.50 97.21,254.40 97.49,253.30 97.76,252.20 98.03,251.10 98.30,250.00 98.37,249.00 98.43,248.00 98.50,247.00 98.57,246.00 98.63,245.00 98.70,244.00 98.85,242.88 99.00,241.77 99.15,240.65 99.30,239.53 99.45,238.42 99.60,237.30 99.98,236.34 100.36,235.38 100.74,234.42 101.12,233.46 101.50,232.50 102.22,231.78 102.95,231.05 103.68,230.32 104.40,229.60 104.73,230.57 105.07,231.53 105.40,232.50 105.68,233.66 105.96,234.82 106.24,235.98 106.52,237.14 106.80,238.30 107.00,239.35 107.19,240.40 107.38,241.45 107.58,242.50 107.78,243.55 107.97,244.60 108.16,245.65 108.36,246.70 108.56,247.75 108.75,248.80 109.23,249.77 109.71,250.74 110.19,251.71 110.66,252.69 111.14,253.66 111.62,254.63 112.10,255.60 112.26,256.64 112.41,257.69 112.57,258.73 112.72,259.78 112.88,260.82 113.03,261.87 113.19,262.91 113.34,263.96 113.50,265.00 113.63,265.99 113.76,266.99 113.88,267.98 114.01,268.98 114.14,269.97 114.27,270.97 114.39,271.96 114.52,272.96 114.65,273.95 114.78,274.94 114.91,275.94 115.03,276.93 115.16,277.93 115.29,278.92 115.42,279.92 115.54,280.91 115.67,281.91 115.80,282.90 116.00,283.89 116.20,284.88 116.40,285.88 116.60,286.87 116.80,287.86 117.00,288.85 117.20,289.84 117.40,290.83 117.60,291.82 117.80,292.82 118.00,293.81 118.20,294.80 118.35,295.79 118.50,296.78 118.65,297.77 118.80,298.77 118.95,299.76 119.10,300.75 119.25,301.74 119.40,302.73 119.55,303.73 119.70,304.72 119.85,305.71 120.00,306.70 120.20,307.69 120.40,308.68 120.60,309.68 120.80,310.67 121.00,311.66 121.20,312.65 121.40,313.64 121.60,314.63 121.80,315.62 122.00,316.62 122.20,317.61 122.40,318.60 122.76,319.55 123.12,320.50 123.48,321.45 123.84,322.40 124.20,323.35 124.56,324.30 124.92,325.25 125.28,326.20 125.64,327.15 126.00,328.10 126.77,328.90 127.53,329.70 128.30,330.50 130.00,331.00" fill="none" stroke="#222" stroke-width="1.8" stroke-linejoin="round" stroke-dasharray="3.5,2.8"/><polyline points="71.50,326.80 72.00,327.83 72.50,328.87 73.00,329.90 74.20,330.30 75.40,330.70 76.55,330.30 77.70,329.90 78.67,329.12 79.65,328.35 80.62,327.57 81.60,326.80 82.24,326.02 82.88,325.24 83.52,324.46 84.16,323.68 84.80,322.90 85.32,321.98 85.83,321.07 86.35,320.15 86.87,319.23 87.38,318.32 87.90,317.40 88.62,316.48 89.33,315.57 90.05,314.65 90.77,313.73 91.48,312.82 92.20,311.90 92.47,310.85 92.73,309.80 93.00,308.75 93.27,307.70 93.53,306.65 93.80,305.60 93.94,304.56 94.07,303.51 94.21,302.47 94.34,301.43 94.48,300.39 94.61,299.34 94.75,298.30 94.89,297.26 95.02,296.21 95.16,295.17 95.29,294.13 95.43,293.09 95.56,292.04 95.70,291.00 95.92,289.91 96.15,288.82 96.38,287.74 96.60,286.65 96.83,285.56 97.05,284.48 97.28,283.39 97.50,282.30 97.71,281.31 97.93,280.33 98.14,279.34 98.36,278.36 98.57,277.37 98.79,276.39 99.00,275.40 99.27,274.37 99.53,273.33 99.80,272.30 100.07,271.27 100.33,270.23 100.60,269.20 100.78,268.18 100.96,267.16 101.13,266.13 101.31,265.11 101.49,264.09 101.67,263.07 101.84,262.04 102.02,261.02 102.20,260.00 102.35,259.00 102.50,258.00 102.65,257.00 102.80,256.00 102.95,255.00 103.10,254.00 103.25,253.00 103.40,252.00 103.55,251.00 103.70,250.00 104.05,248.95 104.40,247.90 105.20,247.27 106.00,246.63 106.80,246.00 107.60,245.00 108.40,244.00 109.20,243.00 109.41,241.91 109.63,240.83 109.84,239.74 110.06,238.66 110.27,237.57 110.49,236.49 110.70,235.40 111.60,234.40 111.97,235.38 112.35,236.35 112.72,237.33 113.10,238.30 113.45,239.48 113.80,240.65 114.15,241.82 114.50,243.00 114.80,241.86 115.10,240.72 115.40,239.58 115.70,238.44 116.00,237.30 116.70,236.10 117.40,234.90 118.03,235.87 118.67,236.83 119.30,237.80 119.39,238.80 119.48,239.80 119.57,240.80 119.66,241.80 119.75,242.80 119.85,243.80 119.94,244.80 120.03,245.80 120.12,246.80 120.21,247.80 120.30,248.80 120.36,249.88 120.41,250.96 120.47,252.03 120.52,253.11 120.58,254.19 120.63,255.27 120.69,256.34 120.74,257.42 120.80,258.50 121.15,259.45 121.50,260.40 121.85,261.35 122.20,262.30 122.60,263.65 123.00,265.00 123.11,266.05 123.21,267.11 123.32,268.16 123.42,269.21 123.53,270.26 123.64,271.32 123.74,272.37 123.85,273.42 123.95,274.48 124.06,275.53 124.16,276.58 124.27,277.64 124.38,278.69 124.48,279.74 124.59,280.79 124.69,281.85 124.80,282.90 124.99,283.89 125.18,284.88 125.38,285.88 125.57,286.87 125.76,287.86 125.95,288.85 126.14,289.84 126.33,290.83 126.52,291.82 126.72,292.82 126.91,293.81 127.10,294.80 127.25,295.79 127.40,296.78 127.55,297.77 127.70,298.77 127.85,299.76 128.00,300.75 128.15,301.74 128.30,302.73 128.45,303.73 128.60,304.72 128.75,305.71 128.90,306.70 129.05,307.69 129.20,308.68 129.35,309.68 129.50,310.67 129.65,311.66 129.80,312.65 129.95,313.64 130.10,314.63 130.25,315.62 130.40,316.62 130.55,317.61 130.70,318.60 131.21,319.61 131.73,320.63 132.24,321.64 132.76,322.66 133.27,323.67 133.79,324.69 134.30,325.70 135.08,326.40 135.87,327.10 136.65,327.80 137.43,328.50 138.22,329.20 139.00,329.90 140.20,330.27 141.40,330.63 142.60,331.00" fill="none" stroke="#000" stroke-width="2" stroke-linejoin="round"/><line x1="71.5" y1="244" x2="71.5" y2="331" stroke="#222" stroke-width="1.5"/><line x1="71.5" y1="331" x2="187.5" y2="331" stroke="#333" stroke-width="1.5"/><text x="263.6" y="212.3" font-size="11" text-anchor="start" font-weight="normal" fill="#000">anti-IgM:</text><line x1="194.6" y1="225.2" x2="214.2" y2="225.2" stroke="#777" stroke-width="1"/><text x="220.7" y="229.2" font-size="10.3" text-anchor="start" fill="#000">FcRL4<tspan dy="-6" font-size="9">-</tspan></text><line x1="194.6" y1="243.5" x2="214.2" y2="243.5" stroke="#111" stroke-width="2" stroke-dasharray="1,0.8"/><text x="220.7" y="246.5" font-size="10.3" text-anchor="start" fill="#000">FcRL4<tspan dy="-5.8" font-size="10">high</tspan></text><line x1="194.6" y1="255.5" x2="214.2" y2="255.5" stroke="#000" stroke-width="2.4" stroke-dasharray="8,2.4"/><text x="220.7" y="259.7" font-size="10.3" text-anchor="start" fill="#000">FcRL4<tspan dy="-5.7" font-size="9.8">low</tspan></text><line x1="194.6" y1="267" x2="214.2" y2="267" stroke="#000" stroke-width="2.6"/><text x="220.7" y="271.8" font-size="10.3" text-anchor="start" fill="#000">FcRL4<tspan dy="-6" font-size="9">-</tspan></text><line x1="276" y1="218.8" x2="276" y2="229.2" stroke="#000" stroke-width="2.4"/><line x1="276" y1="233.3" x2="276" y2="272.2" stroke="#000" stroke-width="2.4"/><line x1="282.4" y1="224" x2="289.6" y2="224" stroke="#000" stroke-width="1"/><text x="286.5" y="257.1" font-size="15" text-anchor="middle" font-weight="normal" fill="#000">+</text><line x1="351" y1="222" x2="351" y2="322.2" stroke="#000" stroke-width="1.2"/><line x1="349.5" y1="322" x2="499" y2="322" stroke="#000" stroke-width="1.2"/><line x1="347.8" y1="222.20000000000002" x2="351" y2="222.20000000000002" stroke="#000" stroke-width="1"/><text x="346.3" y="225.50000000000003" font-size="9.5" text-anchor="end" font-weight="normal" fill="#000">40</text><line x1="347.8" y1="247.10000000000002" x2="351" y2="247.10000000000002" stroke="#000" stroke-width="1"/><text x="346.3" y="250.40000000000003" font-size="9.5" text-anchor="end" font-weight="normal" fill="#000">30</text><line x1="347.8" y1="272.0" x2="351" y2="272.0" stroke="#000" stroke-width="1"/><text x="346.3" y="275.3" font-size="9.5" text-anchor="end" font-weight="normal" fill="#000">20</text><line x1="347.8" y1="296.90000000000003" x2="351" y2="296.90000000000003" stroke="#000" stroke-width="1"/><text x="346.3" y="300.20000000000005" font-size="9.5" text-anchor="end" font-weight="normal" fill="#000">10</text><line x1="347.8" y1="321.8" x2="351" y2="321.8" stroke="#000" stroke-width="1"/><text x="346.3" y="325.1" font-size="9.5" text-anchor="end" font-weight="normal" fill="#000">0</text><text x="326.6" y="271.7" font-size="14.4" text-anchor="middle" font-weight="normal" fill="#000" transform="rotate(-90 326.6 271.7)">CD69 (NMFI)</text><line x1="364.9" y1="322" x2="364.9" y2="325" stroke="#000" stroke-width="1"/><line x1="389.9" y1="322" x2="389.9" y2="325" stroke="#000" stroke-width="1"/><line x1="414.9" y1="322" x2="414.9" y2="325" stroke="#000" stroke-width="1"/><line x1="439.9" y1="322" x2="439.9" y2="325" stroke="#000" stroke-width="1"/><line x1="464.9" y1="322" x2="464.9" y2="325" stroke="#000" stroke-width="1"/><line x1="489.9" y1="322" x2="489.9" y2="325" stroke="#000" stroke-width="1"/><defs><pattern id="vs" width="2.9" height="4" patternUnits="userSpaceOnUse"><rect width="2.9" height="4" fill="#fff"/><rect x="0" width="0.9" height="4" fill="#555"/></pattern><pattern id="xh" width="2" height="2" patternUnits="userSpaceOnUse"><rect width="2" height="2" fill="#ccc"/><rect width="1" height="1" fill="#777"/><rect x="1" y="1" width="1" height="1" fill="#999"/></pattern></defs><line x1="439.65" y1="243.1" x2="439.65" y2="235" stroke="#000" stroke-width="1.4"/><line x1="435.45" y1="235" x2="443.84999999999997" y2="235" stroke="#000" stroke-width="1.4"/><rect x="431" y="243.1" width="17.30000000000001" height="78.9" fill="url(#vs)" stroke="#000" stroke-width="1.4"/><line x1="464.5" y1="280.7" x2="464.5" y2="273" stroke="#000" stroke-width="1.4"/><line x1="460.3" y1="273" x2="468.7" y2="273" stroke="#000" stroke-width="1.4"/><rect x="456" y="280.7" width="17" height="41.30000000000001" fill="url(#xh)" stroke="#000" stroke-width="1.4"/><line x1="489.65" y1="300.2" x2="489.65" y2="294.4" stroke="#000" stroke-width="1.4"/><line x1="485.45" y1="294.4" x2="493.84999999999997" y2="294.4" stroke="#000" stroke-width="1.4"/><rect x="481.3" y="300.2" width="16.69999999999999" height="21.80000000000001" fill="url(#xh)" stroke="#000" stroke-width="1.4"/><line x1="431" y1="231.4" x2="479.3" y2="231.4" stroke="#000" stroke-width="1.1"/><line x1="432" y1="219.5" x2="499.2" y2="219.5" stroke="#000" stroke-width="1.1"/><text x="457.7" y="232.5" font-size="16" text-anchor="middle" font-weight="normal" fill="#000">*</text><text x="466.2" y="219.4" font-size="16" text-anchor="middle" font-weight="normal" fill="#000">**</text><text x="357.29999999999995" y="350" font-size="10.4" text-anchor="middle" fill="#000" transform="rotate(-31 357.29999999999995 350)">FcRL4<tspan dy="-4.5" font-size="9">−</tspan></text><text x="382.29999999999995" y="350" font-size="10.4" text-anchor="middle" fill="#000" transform="rotate(-31 382.29999999999995 350)">FcRL4<tspan dy="-4.5" font-size="9">low</tspan></text><text x="407.29999999999995" y="350" font-size="10.4" text-anchor="middle" fill="#000" transform="rotate(-31 407.29999999999995 350)">FcRL4<tspan dy="-4.5" font-size="9">high</tspan></text><text x="432.29999999999995" y="350" font-size="10.4" text-anchor="middle" fill="#000" transform="rotate(-31 432.29999999999995 350)">FcRL4<tspan dy="-4.5" font-size="9">−</tspan></text><text x="457.29999999999995" y="350" font-size="10.4" text-anchor="middle" fill="#000" transform="rotate(-31 457.29999999999995 350)">FcRL4<tspan dy="-4.5" font-size="9">low</tspan></text><text x="482.29999999999995" y="350" font-size="10.4" text-anchor="middle" fill="#000" transform="rotate(-31 482.29999999999995 350)">FcRL4<tspan dy="-4.5" font-size="9">high</tspan></text><line x1="335.2" y1="367.6" x2="412" y2="367.6" stroke="#000" stroke-width="1.2"/><line x1="421.7" y1="367.6" x2="499.6" y2="367.6" stroke="#000" stroke-width="1.2"/><text x="290.4" y="383.8" font-size="12" text-anchor="start" font-weight="normal" fill="#000">anti-IgM:</text><line x1="368.3" y1="381.5" x2="377" y2="381.5" stroke="#000" stroke-width="1"/><text x="458.5" y="384.1" font-size="15" text-anchor="middle" font-weight="normal" fill="#000">+</text><text x="4.6" y="409.5" font-size="17" text-anchor="start" font-weight="bold" fill="#000">C</text><text x="45" y="446.3" font-size="14" text-anchor="start" font-weight="normal" fill="#000">anti-Ig:</text><text x="135" y="422.8" font-size="14.5" text-anchor="start" fill="#000">FcRL4<tspan dy="-2.5" dx="0.8" font-size="14.5">-</tspan></text><text x="266.2" y="422" font-size="14.5" text-anchor="start" fill="#000">FcRL4<tspan dy="-3.2" font-size="14">+</tspan></text><line x1="95" y1="431.6" x2="218.2" y2="431.6" stroke="#000" stroke-width="1.6"/><line x1="224.4" y1="431.8" x2="348.3" y2="431.8" stroke="#000" stroke-width="1.6"/><text x="124" y="446" font-size="14.5" text-anchor="middle" font-weight="normal" fill="#000">-</text><text x="258.4" y="446" font-size="14.5" text-anchor="middle" font-weight="normal" fill="#000">-</text><text x="191.8" y="446.6" font-size="15" text-anchor="middle" font-weight="normal" fill="#000">+</text><text x="324.4" y="446.6" font-size="15" text-anchor="middle" font-weight="normal" fill="#000">+</text><text x="97.4" y="452.2" font-size="3.4" text-anchor="end" fill="#777" font-weight="bold">1000</text><text x="97.4" y="462.2" font-size="3.4" text-anchor="end" fill="#777" font-weight="bold">800</text><text x="97.4" y="472.2" font-size="3.4" text-anchor="end" fill="#777" font-weight="bold">600</text><text x="97.4" y="482.2" font-size="3.4" text-anchor="end" fill="#777" font-weight="bold">400</text><text x="97.4" y="492.2" font-size="3.4" text-anchor="end" fill="#777" font-weight="bold">200</text><text x="97.4" y="502.2" font-size="3.4" text-anchor="end" fill="#777" font-weight="bold">0</text><text x="89.9" y="472.7" font-size="2.8" text-anchor="middle" fill="#aaa" transform="rotate(-90 89.9 472.7)">SSC-A :: SSC</text><text x="101.4" y="505.7" font-size="4" text-anchor="end" fill="#777" transform="rotate(-55 100.4 504.2)">10<tspan font-size="2.6" dy="-1.2">0</tspan></text><text x="114.0" y="505.7" font-size="4" text-anchor="end" fill="#777" transform="rotate(-55 113.0 504.2)">10<tspan font-size="2.6" dy="-1.2">1</tspan></text><text x="126.60000000000001" y="505.7" font-size="4" text-anchor="end" fill="#777" transform="rotate(-55 125.60000000000001 504.2)">10<tspan font-size="2.6" dy="-1.2">2</tspan></text><text x="139.2" y="505.7" font-size="4" text-anchor="end" fill="#777" transform="rotate(-55 138.2 504.2)">10<tspan font-size="2.6" dy="-1.2">3</tspan></text><rect x="99.4" y="450.2" width="50.400000000000006" height="51.0" fill="none" stroke="#aaa" stroke-width="0.9"/><rect x="117.5" y="481.5" width="23.900000000000006" height="18.899999999999977" fill="none" stroke="#999" stroke-width="1.1"/><defs><radialGradient id="dg11"><stop offset="0" stop-color="#000" stop-opacity="0.3"/><stop offset="1" stop-color="#000" stop-opacity="0"/></radialGradient></defs><ellipse cx="121.0" cy="492.65" rx="12.0" ry="8.189999999999992" fill="url(#dg11)"/><g><rect x="124.8" y="493.9" width="0.7" height="0.7" fill="#000" opacity="0.47"/><rect x="124.3" y="493.5" width="0.7" height="0.7" fill="#000" opacity="0.36"/><rect x="118.8" y="496.2" width="0.7" height="0.7" fill="#000" opacity="0.37"/><rect x="115.9" y="491.3" width="0.7" height="0.7" fill="#000" opacity="0.26"/><rect x="127.3" y="495.8" width="0.7" height="0.7" fill="#000" opacity="0.39"/><rect x="136.9" y="495.0" width="0.7" height="0.7" fill="#000" opacity="0.49"/><rect x="121.3" y="489.0" width="0.7" height="0.7" fill="#000" opacity="0.21"/><rect x="124.8" y="493.0" width="0.7" height="0.7" fill="#000" opacity="0.17"/><rect x="117.2" y="494.9" width="0.7" height="0.7" fill="#000" opacity="0.16"/><rect x="123.4" y="493.4" width="0.7" height="0.7" fill="#000" opacity="0.44"/><rect x="126.4" y="492.1" width="0.7" height="0.7" fill="#000" opacity="0.32"/><rect x="119.6" y="489.6" width="0.7" height="0.7" fill="#000" opacity="0.25"/><rect x="141.4" y="492.5" width="0.7" height="0.7" fill="#000" opacity="0.44"/><rect x="116.8" y="489.9" width="0.7" height="0.7" fill="#000" opacity="0.23"/><rect x="115.7" y="493.8" width="0.7" height="0.7" fill="#000" opacity="0.42"/><rect x="127.6" y="496.3" width="0.7" height="0.7" fill="#000" opacity="0.29"/><rect x="130.0" y="491.0" width="0.7" height="0.7" fill="#000" opacity="0.15"/><rect x="119.4" y="499.5" width="0.7" height="0.7" fill="#000" opacity="0.31"/><rect x="123.0" y="492.3" width="0.7" height="0.7" fill="#000" opacity="0.18"/><rect x="124.5" y="488.6" width="0.7" height="0.7" fill="#000" opacity="0.24"/><rect x="121.1" y="494.2" width="0.7" height="0.7" fill="#000" opacity="0.49"/><rect x="115.2" y="491.0" width="0.7" height="0.7" fill="#000" opacity="0.24"/><rect x="117.3" y="493.3" width="0.7" height="0.7" fill="#000" opacity="0.43"/><rect x="119.5" y="496.4" width="0.7" height="0.7" fill="#000" opacity="0.31"/><rect x="119.7" y="497.5" width="0.7" height="0.7" fill="#000" opacity="0.20"/><rect x="117.5" y="491.4" width="0.7" height="0.7" fill="#000" opacity="0.30"/><rect x="116.5" y="495.1" width="0.7" height="0.7" fill="#000" opacity="0.49"/><rect x="117.2" y="490.1" width="0.7" height="0.7" fill="#000" opacity="0.46"/><rect x="117.0" y="495.8" width="0.7" height="0.7" fill="#000" opacity="0.45"/><rect x="117.3" y="491.5" width="0.7" height="0.7" fill="#000" opacity="0.50"/><rect x="116.4" y="495.1" width="0.7" height="0.7" fill="#000" opacity="0.42"/><rect x="118.2" y="495.0" width="0.7" height="0.7" fill="#000" opacity="0.18"/><rect x="123.9" y="494.9" width="0.7" height="0.7" fill="#000" opacity="0.24"/><rect x="121.2" y="490.8" width="0.7" height="0.7" fill="#000" opacity="0.31"/><rect x="123.9" y="491.7" width="0.7" height="0.7" fill="#000" opacity="0.35"/><rect x="118.4" y="491.1" width="0.7" height="0.7" fill="#000" opacity="0.20"/><rect x="127.4" y="489.4" width="0.7" height="0.7" fill="#000" opacity="0.24"/><rect x="119.8" y="497.6" width="0.7" height="0.7" fill="#000" opacity="0.48"/><rect x="121.5" y="500.1" width="0.7" height="0.7" fill="#000" opacity="0.46"/><rect x="121.7" y="490.6" width="0.7" height="0.7" fill="#000" opacity="0.19"/><rect x="134.9" y="494.6" width="0.7" height="0.7" fill="#000" opacity="0.23"/><rect x="116.7" y="490.3" width="0.7" height="0.7" fill="#000" opacity="0.44"/><rect x="120.5" y="491.1" width="0.7" height="0.7" fill="#000" opacity="0.21"/><rect x="115.6" y="491.5" width="0.7" height="0.7" fill="#000" opacity="0.23"/><rect x="129.6" y="490.4" width="0.7" height="0.7" fill="#000" opacity="0.37"/><rect x="118.4" y="499.7" width="0.7" height="0.7" fill="#000" opacity="0.22"/><rect x="121.3" y="492.9" width="0.7" height="0.7" fill="#000" opacity="0.31"/><rect x="119.6" y="493.4" width="0.7" height="0.7" fill="#000" opacity="0.28"/><rect x="118.8" y="491.9" width="0.7" height="0.7" fill="#000" opacity="0.28"/><rect x="132.4" y="486.9" width="0.7" height="0.7" fill="#000" opacity="0.38"/><rect x="118.8" y="488.7" width="0.7" height="0.7" fill="#000" opacity="0.20"/><rect x="116.5" y="492.8" width="0.7" height="0.7" fill="#000" opacity="0.47"/><rect x="121.2" y="484.8" width="0.7" height="0.7" fill="#000" opacity="0.16"/><rect x="121.0" y="489.9" width="0.7" height="0.7" fill="#000" opacity="0.41"/><rect x="124.0" y="494.5" width="0.7" height="0.7" fill="#000" opacity="0.41"/><rect x="125.6" y="489.6" width="0.7" height="0.7" fill="#000" opacity="0.40"/><rect x="119.8" y="485.8" width="0.7" height="0.7" fill="#000" opacity="0.27"/><rect x="121.8" y="486.3" width="0.7" height="0.7" fill="#000" opacity="0.45"/><rect x="127.3" y="495.5" width="0.7" height="0.7" fill="#000" opacity="0.45"/><rect x="125.1" y="490.7" width="0.7" height="0.7" fill="#000" opacity="0.28"/><rect x="124.5" y="490.5" width="0.7" height="0.7" fill="#000" opacity="0.18"/><rect x="131.2" y="484.8" width="0.7" height="0.7" fill="#000" opacity="0.46"/><rect x="116.1" y="489.5" width="0.7" height="0.7" fill="#000" opacity="0.41"/><rect x="122.5" y="491.0" width="0.7" height="0.7" fill="#000" opacity="0.44"/><rect x="126.5" y="495.3" width="0.7" height="0.7" fill="#000" opacity="0.16"/><rect x="122.4" y="490.5" width="0.7" height="0.7" fill="#000" opacity="0.23"/><rect x="118.0" y="489.1" width="0.7" height="0.7" fill="#000" opacity="0.37"/><rect x="120.4" y="491.5" width="0.7" height="0.7" fill="#000" opacity="0.15"/><rect x="118.8" y="497.2" width="0.7" height="0.7" fill="#000" opacity="0.22"/><rect x="123.4" y="498.8" width="0.7" height="0.7" fill="#000" opacity="0.38"/><rect x="130.8" y="495.1" width="0.7" height="0.7" fill="#000" opacity="0.26"/><rect x="117.7" y="490.8" width="0.7" height="0.7" fill="#000" opacity="0.30"/><rect x="121.1" y="486.0" width="0.7" height="0.7" fill="#000" opacity="0.46"/><rect x="122.9" y="495.5" width="0.7" height="0.7" fill="#000" opacity="0.26"/><rect x="121.1" y="495.5" width="0.7" height="0.7" fill="#000" opacity="0.44"/><rect x="122.3" y="488.5" width="0.7" height="0.7" fill="#000" opacity="0.48"/><rect x="115.8" y="494.6" width="0.7" height="0.7" fill="#000" opacity="0.31"/><rect x="115.9" y="494.9" width="0.7" height="0.7" fill="#000" opacity="0.29"/><rect x="121.6" y="490.0" width="0.7" height="0.7" fill="#000" opacity="0.26"/><rect x="127.0" y="484.9" width="0.7" height="0.7" fill="#000" opacity="0.31"/><rect x="116.8" y="493.0" width="0.7" height="0.7" fill="#000" opacity="0.46"/><rect x="127.1" y="494.0" width="0.7" height="0.7" fill="#000" opacity="0.35"/><rect x="120.1" y="498.0" width="0.7" height="0.7" fill="#000" opacity="0.16"/><rect x="120.8" y="495.3" width="0.7" height="0.7" fill="#000" opacity="0.16"/><rect x="117.8" y="490.6" width="0.7" height="0.7" fill="#000" opacity="0.20"/><rect x="125.8" y="494.0" width="0.7" height="0.7" fill="#000" opacity="0.31"/><rect x="123.0" y="489.2" width="0.7" height="0.7" fill="#000" opacity="0.43"/><rect x="126.7" y="491.4" width="0.7" height="0.7" fill="#000" opacity="0.22"/><rect x="120.0" y="493.0" width="0.7" height="0.7" fill="#000" opacity="0.15"/><rect x="127.5" y="493.5" width="0.7" height="0.7" fill="#000" opacity="0.21"/><rect x="116.0" y="495.6" width="0.7" height="0.7" fill="#000" opacity="0.39"/><rect x="126.0" y="492.1" width="0.7" height="0.7" fill="#000" opacity="0.41"/><rect x="126.1" y="496.2" width="0.7" height="0.7" fill="#000" opacity="0.47"/><rect x="130.9" y="496.5" width="0.7" height="0.7" fill="#000" opacity="0.40"/><rect x="121.0" y="495.2" width="0.7" height="0.7" fill="#000" opacity="0.37"/><rect x="121.6" y="491.0" width="0.7" height="0.7" fill="#000" opacity="0.35"/><rect x="125.4" y="488.7" width="0.7" height="0.7" fill="#000" opacity="0.48"/><rect x="126.3" y="493.7" width="0.7" height="0.7" fill="#000" opacity="0.22"/><rect x="117.6" y="486.8" width="0.7" height="0.7" fill="#000" opacity="0.37"/><rect x="116.1" y="490.5" width="0.7" height="0.7" fill="#000" opacity="0.46"/><rect x="136.9" y="491.6" width="0.7" height="0.7" fill="#000" opacity="0.34"/><rect x="116.8" y="489.9" width="0.7" height="0.7" fill="#000" opacity="0.47"/><rect x="119.6" y="490.3" width="0.7" height="0.7" fill="#000" opacity="0.18"/><rect x="124.4" y="494.1" width="0.7" height="0.7" fill="#000" opacity="0.42"/><rect x="116.9" y="492.7" width="0.7" height="0.7" fill="#000" opacity="0.43"/><rect x="128.2" y="494.9" width="0.7" height="0.7" fill="#000" opacity="0.21"/><rect x="122.2" y="497.5" width="0.7" height="0.7" fill="#000" opacity="0.20"/><rect x="120.7" y="495.8" width="0.7" height="0.7" fill="#000" opacity="0.40"/><rect x="121.6" y="488.5" width="0.7" height="0.7" fill="#000" opacity="0.48"/><rect x="134.5" y="493.0" width="0.7" height="0.7" fill="#000" opacity="0.18"/><rect x="116.7" y="496.5" width="0.7" height="0.7" fill="#000" opacity="0.25"/><rect x="116.5" y="488.1" width="0.7" height="0.7" fill="#000" opacity="0.33"/><rect x="120.7" y="489.2" width="0.7" height="0.7" fill="#000" opacity="0.26"/><rect x="126.3" y="496.9" width="0.7" height="0.7" fill="#000" opacity="0.47"/><rect x="119.0" y="498.7" width="0.7" height="0.7" fill="#000" opacity="0.49"/><rect x="125.3" y="492.0" width="0.7" height="0.7" fill="#000" opacity="0.22"/><rect x="124.2" y="491.8" width="0.7" height="0.7" fill="#000" opacity="0.36"/><rect x="135.8" y="494.1" width="0.7" height="0.7" fill="#000" opacity="0.33"/><rect x="126.7" y="496.0" width="0.7" height="0.7" fill="#000" opacity="0.35"/><rect x="127.2" y="492.9" width="0.7" height="0.7" fill="#000" opacity="0.17"/><rect x="123.0" y="491.8" width="0.7" height="0.7" fill="#000" opacity="0.48"/><rect x="120.6" y="491.5" width="0.7" height="0.7" fill="#000" opacity="0.32"/><rect x="121.0" y="495.1" width="0.7" height="0.7" fill="#000" opacity="0.44"/><rect x="122.4" y="490.5" width="0.7" height="0.7" fill="#000" opacity="0.26"/><rect x="119.0" y="496.8" width="0.7" height="0.7" fill="#000" opacity="0.47"/><rect x="124.6" y="496.7" width="0.7" height="0.7" fill="#000" opacity="0.16"/><rect x="117.0" y="494.8" width="0.7" height="0.7" fill="#000" opacity="0.39"/><rect x="118.3" y="495.4" width="0.7" height="0.7" fill="#000" opacity="0.37"/><rect x="125.2" y="495.8" width="0.7" height="0.7" fill="#000" opacity="0.19"/><rect x="121.1" y="492.5" width="0.7" height="0.7" fill="#000" opacity="0.22"/><rect x="123.4" y="492.0" width="0.7" height="0.7" fill="#000" opacity="0.28"/><rect x="123.4" y="494.7" width="0.7" height="0.7" fill="#000" opacity="0.21"/><rect x="118.2" y="497.0" width="0.7" height="0.7" fill="#000" opacity="0.37"/><rect x="130.3" y="491.5" width="0.7" height="0.7" fill="#000" opacity="0.36"/><rect x="118.6" y="490.8" width="0.7" height="0.7" fill="#000" opacity="0.41"/><rect x="121.4" y="486.2" width="0.7" height="0.7" fill="#000" opacity="0.26"/><rect x="122.2" y="499.3" width="0.7" height="0.7" fill="#000" opacity="0.23"/><rect x="131.7" y="492.6" width="0.7" height="0.7" fill="#000" opacity="0.20"/><rect x="115.9" y="497.8" width="0.7" height="0.7" fill="#000" opacity="0.24"/><rect x="127.4" y="496.1" width="0.7" height="0.7" fill="#000" opacity="0.30"/><rect x="116.0" y="491.0" width="0.7" height="0.7" fill="#000" opacity="0.29"/><rect x="115.6" y="492.1" width="0.7" height="0.7" fill="#000" opacity="0.22"/><rect x="122.3" y="486.2" width="0.7" height="0.7" fill="#000" opacity="0.49"/><rect x="122.1" y="495.2" width="0.7" height="0.7" fill="#000" opacity="0.42"/><rect x="127.2" y="492.6" width="0.7" height="0.7" fill="#000" opacity="0.22"/><rect x="118.4" y="493.3" width="0.7" height="0.7" fill="#000" opacity="0.16"/><rect x="124.1" y="491.4" width="0.7" height="0.7" fill="#000" opacity="0.35"/><rect x="118.1" y="494.3" width="0.7" height="0.7" fill="#000" opacity="0.22"/><rect x="128.1" y="484.4" width="0.7" height="0.7" fill="#000" opacity="0.47"/><rect x="117.4" y="493.3" width="0.7" height="0.7" fill="#000" opacity="0.48"/><rect x="128.2" y="493.9" width="0.7" height="0.7" fill="#000" opacity="0.26"/><rect x="124.4" y="493.4" width="0.7" height="0.7" fill="#000" opacity="0.30"/><rect x="116.1" y="492.3" width="0.7" height="0.7" fill="#000" opacity="0.40"/><rect x="117.8" y="491.0" width="0.7" height="0.7" fill="#000" opacity="0.31"/><rect x="115.5" y="489.4" width="0.7" height="0.7" fill="#000" opacity="0.22"/><rect x="119.9" y="496.0" width="0.7" height="0.7" fill="#000" opacity="0.16"/><rect x="126.3" y="489.1" width="0.7" height="0.7" fill="#000" opacity="0.40"/><rect x="122.2" y="489.2" width="0.7" height="0.7" fill="#000" opacity="0.29"/><rect x="122.7" y="490.4" width="0.7" height="0.7" fill="#000" opacity="0.49"/><rect x="117.1" y="490.3" width="0.7" height="0.7" fill="#000" opacity="0.47"/><rect x="115.5" y="487.1" width="0.7" height="0.7" fill="#000" opacity="0.44"/><rect x="129.1" y="496.5" width="0.7" height="0.7" fill="#000" opacity="0.46"/><rect x="119.6" y="487.5" width="0.7" height="0.7" fill="#000" opacity="0.42"/><rect x="125.6" y="495.5" width="0.7" height="0.7" fill="#000" opacity="0.17"/><rect x="119.9" y="495.7" width="0.7" height="0.7" fill="#000" opacity="0.15"/><rect x="122.0" y="496.3" width="0.7" height="0.7" fill="#000" opacity="0.37"/><rect x="118.7" y="490.1" width="0.7" height="0.7" fill="#000" opacity="0.38"/><rect x="123.9" y="491.0" width="0.7" height="0.7" fill="#000" opacity="0.29"/><rect x="126.5" y="492.6" width="0.7" height="0.7" fill="#000" opacity="0.40"/><rect x="116.7" y="483.7" width="0.7" height="0.7" fill="#000" opacity="0.16"/><rect x="124.8" y="489.2" width="0.7" height="0.7" fill="#000" opacity="0.24"/><rect x="117.1" y="493.3" width="0.7" height="0.7" fill="#000" opacity="0.22"/><rect x="117.6" y="493.7" width="0.7" height="0.7" fill="#000" opacity="0.24"/><rect x="123.4" y="490.4" width="0.7" height="0.7" fill="#000" opacity="0.33"/><rect x="125.1" y="491.8" width="0.7" height="0.7" fill="#000" opacity="0.50"/><rect x="124.4" y="488.2" width="0.7" height="0.7" fill="#000" opacity="0.18"/><rect x="126.0" y="489.5" width="0.7" height="0.7" fill="#000" opacity="0.17"/><rect x="119.3" y="491.8" width="0.7" height="0.7" fill="#000" opacity="0.32"/><rect x="119.6" y="495.9" width="0.7" height="0.7" fill="#000" opacity="0.36"/><rect x="133.0" y="495.4" width="0.7" height="0.7" fill="#000" opacity="0.30"/><rect x="125.6" y="491.9" width="0.7" height="0.7" fill="#000" opacity="0.28"/><rect x="117.6" y="497.2" width="0.7" height="0.7" fill="#000" opacity="0.35"/><rect x="117.7" y="497.6" width="0.7" height="0.7" fill="#000" opacity="0.25"/><rect x="121.0" y="492.9" width="0.7" height="0.7" fill="#000" opacity="0.16"/><rect x="122.4" y="497.1" width="0.7" height="0.7" fill="#000" opacity="0.29"/><rect x="125.6" y="489.4" width="0.7" height="0.7" fill="#000" opacity="0.17"/><rect x="134.2" y="492.1" width="0.7" height="0.7" fill="#000" opacity="0.18"/><rect x="122.0" y="490.7" width="0.7" height="0.7" fill="#000" opacity="0.32"/><rect x="120.9" y="492.2" width="0.7" height="0.7" fill="#000" opacity="0.33"/><rect x="126.8" y="490.7" width="0.7" height="0.7" fill="#000" opacity="0.31"/><rect x="129.6" y="491.9" width="0.7" height="0.7" fill="#000" opacity="0.36"/><rect x="123.4" y="495.6" width="0.7" height="0.7" fill="#000" opacity="0.31"/><rect x="115.8" y="493.7" width="0.7" height="0.7" fill="#000" opacity="0.33"/><rect x="121.1" y="495.1" width="0.7" height="0.7" fill="#000" opacity="0.38"/><rect x="121.0" y="493.3" width="0.7" height="0.7" fill="#000" opacity="0.35"/><rect x="127.1" y="495.4" width="0.7" height="0.7" fill="#000" opacity="0.34"/><rect x="134.8" y="492.5" width="0.7" height="0.7" fill="#000" opacity="0.41"/><rect x="115.3" y="494.2" width="0.7" height="0.7" fill="#000" opacity="0.46"/><rect x="110.8" y="486.4" width="0.8" height="0.8" fill="#000" opacity="0.48"/><rect x="107.7" y="499.2" width="0.8" height="0.8" fill="#000" opacity="0.58"/><rect x="101.4" y="489.1" width="0.8" height="0.8" fill="#000" opacity="0.68"/><rect x="111.7" y="497.8" width="0.8" height="0.8" fill="#000" opacity="0.79"/><rect x="117.3" y="489.1" width="0.8" height="0.8" fill="#000" opacity="0.32"/><rect x="116.1" y="494.7" width="0.8" height="0.8" fill="#000" opacity="0.51"/><rect x="103.7" y="489.0" width="0.8" height="0.8" fill="#000" opacity="0.57"/><rect x="115.3" y="494.9" width="0.8" height="0.8" fill="#000" opacity="0.64"/><rect x="100.4" y="490.6" width="0.8" height="0.8" fill="#000" opacity="0.49"/><rect x="101.4" y="493.4" width="0.8" height="0.8" fill="#000" opacity="0.47"/><rect x="108.6" y="485.7" width="0.8" height="0.8" fill="#000" opacity="0.34"/><rect x="115.8" y="497.3" width="0.8" height="0.8" fill="#000" opacity="0.61"/><rect x="109.8" y="487.2" width="0.8" height="0.8" fill="#000" opacity="0.51"/><rect x="108.4" y="499.5" width="0.8" height="0.8" fill="#000" opacity="0.48"/><rect x="103.2" y="486.7" width="0.8" height="0.8" fill="#000" opacity="0.46"/><rect x="100.0" y="490.6" width="0.8" height="0.8" fill="#000" opacity="0.76"/><rect x="101.6" y="495.2" width="0.8" height="0.8" fill="#000" opacity="0.35"/><rect x="114.0" y="489.0" width="0.8" height="0.8" fill="#000" opacity="0.34"/><rect x="101.1" y="490.3" width="0.8" height="0.8" fill="#000" opacity="0.64"/><rect x="106.1" y="499.1" width="0.8" height="0.8" fill="#000" opacity="0.34"/><rect x="111.0" y="499.0" width="0.8" height="0.8" fill="#000" opacity="0.34"/><rect x="105.8" y="498.9" width="0.8" height="0.8" fill="#000" opacity="0.65"/><rect x="107.4" y="497.8" width="0.8" height="0.8" fill="#000" opacity="0.48"/><rect x="107.7" y="486.9" width="0.8" height="0.8" fill="#000" opacity="0.36"/><rect x="106.7" y="486.6" width="0.8" height="0.8" fill="#000" opacity="0.76"/><rect x="118.1" y="490.0" width="0.8" height="0.8" fill="#000" opacity="0.52"/><rect x="111.5" y="487.3" width="0.8" height="0.8" fill="#000" opacity="0.46"/><rect x="100.9" y="496.9" width="0.8" height="0.8" fill="#000" opacity="0.75"/><rect x="109.0" y="498.5" width="0.8" height="0.8" fill="#000" opacity="0.48"/><rect x="103.6" y="497.1" width="0.8" height="0.8" fill="#000" opacity="0.49"/><rect x="111.9" y="498.6" width="0.8" height="0.8" fill="#000" opacity="0.70"/><rect x="102.0" y="490.6" width="0.8" height="0.8" fill="#000" opacity="0.68"/><rect x="114.6" y="488.8" width="0.8" height="0.8" fill="#000" opacity="0.31"/><rect x="100.3" y="492.0" width="0.8" height="0.8" fill="#000" opacity="0.58"/><rect x="117.7" y="491.3" width="0.8" height="0.8" fill="#000" opacity="0.70"/><rect x="116.9" y="495.1" width="0.8" height="0.8" fill="#000" opacity="0.69"/><rect x="115.1" y="495.3" width="0.8" height="0.8" fill="#000" opacity="0.67"/><rect x="114.7" y="489.6" width="0.8" height="0.8" fill="#000" opacity="0.62"/><rect x="114.7" y="497.9" width="0.8" height="0.8" fill="#000" opacity="0.62"/><rect x="109.1" y="498.1" width="0.8" height="0.8" fill="#000" opacity="0.68"/><rect x="102.6" y="496.2" width="0.8" height="0.8" fill="#000" opacity="0.78"/><rect x="104.9" y="487.2" width="0.8" height="0.8" fill="#000" opacity="0.57"/><rect x="107.2" y="486.1" width="0.8" height="0.8" fill="#000" opacity="0.76"/><rect x="100.8" y="496.3" width="0.8" height="0.8" fill="#000" opacity="0.63"/><rect x="114.6" y="487.2" width="0.8" height="0.8" fill="#000" opacity="0.72"/><rect x="116.5" y="488.0" width="0.8" height="0.8" fill="#000" opacity="0.62"/><rect x="111.6" y="487.0" width="0.8" height="0.8" fill="#000" opacity="0.51"/><rect x="114.5" y="498.0" width="0.8" height="0.8" fill="#000" opacity="0.80"/><rect x="103.6" y="496.4" width="0.8" height="0.8" fill="#000" opacity="0.40"/><rect x="101.9" y="495.2" width="0.8" height="0.8" fill="#000" opacity="0.78"/><rect x="116.2" y="494.7" width="0.8" height="0.8" fill="#000" opacity="0.36"/><rect x="103.3" y="487.2" width="0.8" height="0.8" fill="#000" opacity="0.39"/><rect x="116.6" y="495.0" width="0.8" height="0.8" fill="#000" opacity="0.59"/><rect x="114.8" y="489.9" width="0.8" height="0.8" fill="#000" opacity="0.35"/><rect x="111.9" y="497.7" width="0.8" height="0.8" fill="#000" opacity="0.42"/><rect x="107.1" y="486.4" width="0.8" height="0.8" fill="#000" opacity="0.41"/><rect x="112.0" y="497.8" width="0.8" height="0.8" fill="#000" opacity="0.39"/><rect x="109.3" y="487.0" width="0.8" height="0.8" fill="#000" opacity="0.57"/><rect x="112.4" y="487.1" width="0.8" height="0.8" fill="#000" opacity="0.43"/><rect x="116.4" y="488.0" width="0.8" height="0.8" fill="#000" opacity="0.47"/><rect x="101.3" y="493.2" width="0.8" height="0.8" fill="#000" opacity="0.32"/><rect x="117.9" y="490.4" width="0.8" height="0.8" fill="#000" opacity="0.49"/><rect x="100.5" y="491.6" width="0.8" height="0.8" fill="#000" opacity="0.44"/><rect x="117.9" y="492.3" width="0.8" height="0.8" fill="#000" opacity="0.42"/><rect x="117.3" y="493.1" width="0.8" height="0.8" fill="#000" opacity="0.49"/><rect x="111.6" y="486.3" width="0.8" height="0.8" fill="#000" opacity="0.60"/><rect x="113.0" y="497.1" width="0.8" height="0.8" fill="#000" opacity="0.46"/><rect x="108.3" y="499.6" width="0.8" height="0.8" fill="#000" opacity="0.56"/><rect x="102.3" y="487.1" width="0.8" height="0.8" fill="#000" opacity="0.43"/><rect x="101.7" y="491.5" width="0.8" height="0.8" fill="#000" opacity="0.69"/><rect x="118.4" y="492.7" width="0.8" height="0.8" fill="#000" opacity="0.72"/><rect x="112.0" y="488.0" width="0.8" height="0.8" fill="#000" opacity="0.43"/><rect x="107.4" y="487.6" width="0.8" height="0.8" fill="#000" opacity="0.54"/><rect x="100.6" y="489.0" width="0.8" height="0.8" fill="#000" opacity="0.45"/><rect x="110.9" y="486.9" width="0.8" height="0.8" fill="#000" opacity="0.76"/><rect x="116.9" y="496.4" width="0.8" height="0.8" fill="#000" opacity="0.40"/><rect x="100.6" y="491.0" width="0.8" height="0.8" fill="#000" opacity="0.38"/><rect x="112.8" y="487.7" width="0.8" height="0.8" fill="#000" opacity="0.46"/><rect x="115.9" y="495.3" width="0.8" height="0.8" fill="#000" opacity="0.53"/><rect x="107.2" y="487.0" width="0.8" height="0.8" fill="#000" opacity="0.64"/><rect x="115.3" y="496.3" width="0.8" height="0.8" fill="#000" opacity="0.53"/><rect x="118.3" y="491.2" width="0.8" height="0.8" fill="#000" opacity="0.63"/><rect x="117.0" y="493.1" width="0.8" height="0.8" fill="#000" opacity="0.66"/><rect x="109.6" y="498.9" width="0.8" height="0.8" fill="#000" opacity="0.53"/><rect x="119.0" y="493.1" width="0.8" height="0.8" fill="#000" opacity="0.70"/><rect x="111.3" y="498.8" width="0.8" height="0.8" fill="#000" opacity="0.45"/><rect x="102.8" y="497.0" width="0.8" height="0.8" fill="#000" opacity="0.45"/><rect x="104.6" y="497.7" width="0.8" height="0.8" fill="#000" opacity="0.63"/><rect x="108.6" y="498.1" width="0.8" height="0.8" fill="#000" opacity="0.67"/><rect x="104.1" y="499.0" width="0.8" height="0.8" fill="#000" opacity="0.58"/><rect x="107.6" y="487.0" width="0.8" height="0.8" fill="#000" opacity="0.71"/><rect x="115.0" y="495.6" width="0.8" height="0.8" fill="#000" opacity="0.35"/><rect x="104.9" y="486.7" width="0.8" height="0.8" fill="#000" opacity="0.39"/><rect x="101.1" y="496.6" width="0.8" height="0.8" fill="#000" opacity="0.60"/><rect x="115.3" y="495.6" width="0.8" height="0.8" fill="#000" opacity="0.38"/><rect x="114.7" y="496.8" width="0.8" height="0.8" fill="#000" opacity="0.34"/><rect x="116.2" y="489.8" width="0.8" height="0.8" fill="#000" opacity="0.56"/><rect x="103.3" y="487.2" width="0.8" height="0.8" fill="#000" opacity="0.71"/><rect x="102.9" y="496.4" width="0.8" height="0.8" fill="#000" opacity="0.51"/><rect x="117.0" y="493.2" width="0.8" height="0.8" fill="#000" opacity="0.65"/><rect x="118.3" y="491.9" width="0.8" height="0.8" fill="#000" opacity="0.63"/><rect x="103.5" y="489.5" width="0.8" height="0.8" fill="#000" opacity="0.47"/><rect x="104.0" y="498.1" width="0.8" height="0.8" fill="#000" opacity="0.35"/><rect x="102.8" y="496.9" width="0.8" height="0.8" fill="#000" opacity="0.69"/><rect x="112.9" y="486.9" width="0.8" height="0.8" fill="#000" opacity="0.38"/><rect x="109.9" y="485.6" width="0.8" height="0.8" fill="#000" opacity="0.57"/><rect x="103.8" y="497.6" width="0.8" height="0.8" fill="#000" opacity="0.37"/><rect x="106.6" y="485.6" width="0.8" height="0.8" fill="#000" opacity="0.56"/><rect x="106.8" y="485.9" width="0.8" height="0.8" fill="#000" opacity="0.40"/><rect x="117.3" y="490.5" width="0.8" height="0.8" fill="#000" opacity="0.40"/><rect x="115.6" y="495.4" width="0.8" height="0.8" fill="#000" opacity="0.59"/><rect x="106.3" y="487.2" width="0.8" height="0.8" fill="#000" opacity="0.76"/><rect x="103.5" y="497.3" width="0.8" height="0.8" fill="#000" opacity="0.36"/><rect x="116.1" y="491.8" width="0.8" height="0.8" fill="#000" opacity="0.75"/><rect x="100.5" y="491.0" width="0.8" height="0.8" fill="#000" opacity="0.58"/><rect x="108.0" y="499.7" width="0.8" height="0.8" fill="#000" opacity="0.80"/><rect x="112.5" y="486.8" width="0.8" height="0.8" fill="#000" opacity="0.36"/><rect x="112.4" y="487.6" width="0.8" height="0.8" fill="#000" opacity="0.75"/><rect x="109.4" y="499.0" width="0.8" height="0.8" fill="#000" opacity="0.72"/><rect x="112.3" y="498.4" width="0.8" height="0.8" fill="#000" opacity="0.34"/><rect x="116.2" y="493.7" width="0.8" height="0.8" fill="#000" opacity="0.79"/><rect x="117.3" y="490.2" width="0.8" height="0.8" fill="#000" opacity="0.45"/><rect x="104.5" y="486.8" width="0.8" height="0.8" fill="#000" opacity="0.49"/><rect x="100.9" y="488.9" width="0.8" height="0.8" fill="#000" opacity="0.31"/><rect x="111.5" y="498.4" width="0.8" height="0.8" fill="#000" opacity="0.37"/><rect x="102.3" y="496.8" width="0.8" height="0.8" fill="#000" opacity="0.39"/><rect x="101.2" y="492.0" width="0.8" height="0.8" fill="#000" opacity="0.58"/><rect x="104.5" y="498.3" width="0.8" height="0.8" fill="#000" opacity="0.32"/><rect x="105.4" y="488.0" width="0.8" height="0.8" fill="#000" opacity="0.78"/><rect x="102.1" y="489.1" width="0.8" height="0.8" fill="#000" opacity="0.51"/><rect x="102.4" y="488.0" width="0.8" height="0.8" fill="#000" opacity="0.68"/><rect x="109.0" y="486.5" width="0.8" height="0.8" fill="#000" opacity="0.80"/><rect x="114.0" y="486.7" width="0.8" height="0.8" fill="#000" opacity="0.50"/><rect x="100.9" y="495.2" width="0.8" height="0.8" fill="#000" opacity="0.75"/><rect x="100.4" y="491.6" width="0.8" height="0.8" fill="#000" opacity="0.52"/><rect x="115.4" y="489.4" width="0.8" height="0.8" fill="#000" opacity="0.33"/><rect x="107.4" y="485.7" width="0.8" height="0.8" fill="#000" opacity="0.67"/><rect x="101.3" y="488.8" width="0.8" height="0.8" fill="#000" opacity="0.45"/><rect x="103.0" y="489.8" width="0.8" height="0.8" fill="#000" opacity="0.36"/><rect x="100.9" y="494.7" width="0.8" height="0.8" fill="#000" opacity="0.50"/><rect x="117.6" y="494.8" width="0.8" height="0.8" fill="#000" opacity="0.56"/><rect x="109.4" y="498.3" width="0.8" height="0.8" fill="#000" opacity="0.50"/><rect x="109.5" y="497.8" width="0.8" height="0.8" fill="#000" opacity="0.76"/><rect x="117.7" y="491.3" width="0.8" height="0.8" fill="#000" opacity="0.73"/><rect x="100.5" y="495.9" width="0.8" height="0.8" fill="#000" opacity="0.41"/><rect x="108.7" y="486.4" width="0.8" height="0.8" fill="#000" opacity="0.75"/><rect x="116.6" y="496.6" width="0.8" height="0.8" fill="#000" opacity="0.36"/><rect x="116.6" y="492.7" width="0.8" height="0.8" fill="#000" opacity="0.45"/><rect x="105.7" y="497.2" width="0.8" height="0.8" fill="#000" opacity="0.75"/><rect x="112.2" y="487.2" width="0.8" height="0.8" fill="#000" opacity="0.48"/><rect x="102.9" y="490.1" width="0.8" height="0.8" fill="#000" opacity="0.32"/><rect x="115.2" y="489.3" width="0.8" height="0.8" fill="#000" opacity="0.55"/><rect x="118.1" y="489.7" width="0.8" height="0.8" fill="#000" opacity="0.54"/><rect x="111.0" y="498.1" width="0.8" height="0.8" fill="#000" opacity="0.76"/><rect x="114.9" y="489.4" width="0.8" height="0.8" fill="#000" opacity="0.72"/><rect x="103.8" y="497.5" width="0.8" height="0.8" fill="#000" opacity="0.39"/><rect x="116.3" y="487.6" width="0.8" height="0.8" fill="#000" opacity="0.40"/><rect x="103.8" y="488.6" width="0.8" height="0.8" fill="#000" opacity="0.74"/><rect x="115.8" y="494.3" width="0.8" height="0.8" fill="#000" opacity="0.66"/><rect x="105.1" y="499.2" width="0.8" height="0.8" fill="#000" opacity="0.73"/><rect x="107.2" y="487.5" width="0.8" height="0.8" fill="#000" opacity="0.65"/><rect x="116.6" y="490.4" width="0.8" height="0.8" fill="#000" opacity="0.34"/><rect x="110.2" y="498.3" width="0.8" height="0.8" fill="#000" opacity="0.66"/><rect x="111.4" y="497.7" width="0.8" height="0.8" fill="#000" opacity="0.42"/><rect x="104.1" y="486.8" width="0.8" height="0.8" fill="#000" opacity="0.49"/><rect x="103.8" y="486.7" width="0.8" height="0.8" fill="#000" opacity="0.59"/><rect x="109.9" y="498.3" width="0.8" height="0.8" fill="#000" opacity="0.76"/><rect x="105.0" y="487.8" width="0.8" height="0.8" fill="#000" opacity="0.62"/><rect x="117.4" y="496.5" width="0.8" height="0.8" fill="#000" opacity="0.52"/><rect x="100.4" y="491.6" width="0.8" height="0.8" fill="#000" opacity="0.32"/><rect x="102.6" y="489.3" width="0.8" height="0.8" fill="#000" opacity="0.43"/><rect x="111.3" y="487.8" width="0.8" height="0.8" fill="#000" opacity="0.44"/><rect x="109.2" y="487.1" width="0.8" height="0.8" fill="#000" opacity="0.44"/><rect x="101.8" y="491.0" width="0.8" height="0.8" fill="#000" opacity="0.75"/><rect x="115.9" y="492.3" width="0.8" height="0.8" fill="#000" opacity="0.53"/><rect x="108.9" y="486.8" width="0.8" height="0.8" fill="#000" opacity="0.76"/><rect x="101.4" y="492.7" width="0.8" height="0.8" fill="#000" opacity="0.58"/><rect x="104.0" y="488.1" width="0.8" height="0.8" fill="#000" opacity="0.63"/><rect x="110.7" y="486.6" width="0.8" height="0.8" fill="#000" opacity="0.55"/><rect x="114.0" y="487.2" width="0.8" height="0.8" fill="#000" opacity="0.56"/><rect x="116.0" y="491.0" width="0.8" height="0.8" fill="#000" opacity="0.69"/><rect x="113.4" y="498.2" width="0.8" height="0.8" fill="#000" opacity="0.42"/><rect x="100.2" y="495.1" width="0.8" height="0.8" fill="#000" opacity="0.69"/><rect x="110.9" y="487.3" width="0.8" height="0.8" fill="#000" opacity="0.54"/><rect x="110.5" y="498.9" width="0.8" height="0.8" fill="#000" opacity="0.55"/><rect x="117.5" y="494.1" width="0.8" height="0.8" fill="#000" opacity="0.66"/><rect x="100.2" y="489.6" width="0.8" height="0.8" fill="#000" opacity="0.39"/><rect x="112.9" y="496.7" width="0.8" height="0.8" fill="#000" opacity="0.55"/><rect x="101.3" y="495.0" width="0.8" height="0.8" fill="#000" opacity="0.43"/><rect x="111.0" y="487.7" width="0.8" height="0.8" fill="#000" opacity="0.75"/><rect x="101.1" y="490.0" width="0.8" height="0.8" fill="#000" opacity="0.70"/><rect x="109.5" y="497.9" width="0.8" height="0.8" fill="#000" opacity="0.46"/><rect x="116.5" y="494.1" width="0.8" height="0.8" fill="#000" opacity="0.61"/><rect x="101.3" y="491.8" width="0.8" height="0.8" fill="#000" opacity="0.59"/><rect x="117.0" y="496.3" width="0.8" height="0.8" fill="#000" opacity="0.39"/><rect x="108.7" y="498.0" width="0.8" height="0.8" fill="#000" opacity="0.65"/><rect x="113.5" y="486.7" width="0.8" height="0.8" fill="#000" opacity="0.33"/><rect x="102.1" y="495.8" width="0.8" height="0.8" fill="#000" opacity="0.41"/><rect x="115.8" y="491.7" width="0.8" height="0.8" fill="#000" opacity="0.54"/><rect x="109.6" y="485.4" width="0.8" height="0.8" fill="#000" opacity="0.37"/><rect x="100.0" y="494.5" width="0.8" height="0.8" fill="#000" opacity="0.32"/><rect x="109.5" y="499.7" width="0.8" height="0.8" fill="#000" opacity="0.37"/><rect x="102.8" y="496.2" width="0.8" height="0.8" fill="#000" opacity="0.51"/><rect x="115.1" y="495.0" width="0.8" height="0.8" fill="#000" opacity="0.80"/><rect x="109.7" y="486.0" width="0.8" height="0.8" fill="#000" opacity="0.41"/><rect x="108.7" y="498.9" width="0.8" height="0.8" fill="#000" opacity="0.42"/><rect x="103.7" y="497.0" width="0.8" height="0.8" fill="#000" opacity="0.79"/><rect x="103.5" y="489.4" width="0.8" height="0.8" fill="#000" opacity="0.50"/><rect x="104.7" y="488.5" width="0.8" height="0.8" fill="#000" opacity="0.47"/><rect x="105.6" y="486.1" width="0.8" height="0.8" fill="#000" opacity="0.60"/><rect x="115.2" y="488.7" width="0.8" height="0.8" fill="#000" opacity="0.50"/><rect x="113.4" y="487.8" width="0.8" height="0.8" fill="#000" opacity="0.69"/><rect x="110.6" y="498.3" width="0.8" height="0.8" fill="#000" opacity="0.39"/><rect x="101.8" y="491.0" width="0.8" height="0.8" fill="#000" opacity="0.40"/><rect x="110.8" y="498.6" width="0.8" height="0.8" fill="#000" opacity="0.45"/><rect x="104.7" y="486.3" width="0.8" height="0.8" fill="#000" opacity="0.40"/><rect x="103.6" y="496.1" width="0.8" height="0.8" fill="#000" opacity="0.65"/><rect x="103.8" y="496.9" width="0.8" height="0.8" fill="#000" opacity="0.31"/><rect x="112.1" y="497.7" width="0.8" height="0.8" fill="#000" opacity="0.50"/><rect x="117.1" y="489.6" width="0.8" height="0.8" fill="#000" opacity="0.43"/><rect x="104.2" y="496.7" width="0.8" height="0.8" fill="#000" opacity="0.77"/><rect x="102.9" y="497.9" width="0.8" height="0.8" fill="#000" opacity="0.66"/><rect x="114.7" y="489.9" width="0.8" height="0.8" fill="#000" opacity="0.46"/><rect x="103.6" y="496.1" width="0.8" height="0.8" fill="#000" opacity="0.74"/><rect x="104.6" y="498.7" width="0.8" height="0.8" fill="#000" opacity="0.56"/><rect x="116.6" y="494.6" width="0.8" height="0.8" fill="#000" opacity="0.42"/><rect x="116.0" y="494.0" width="0.8" height="0.8" fill="#000" opacity="0.60"/><rect x="116.6" y="493.8" width="0.8" height="0.8" fill="#000" opacity="0.51"/><rect x="101.9" y="491.2" width="0.8" height="0.8" fill="#000" opacity="0.65"/><rect x="108.3" y="499.3" width="0.8" height="0.8" fill="#000" opacity="0.63"/><rect x="113.4" y="497.0" width="0.8" height="0.8" fill="#000" opacity="0.44"/><rect x="107.0" y="486.9" width="0.8" height="0.8" fill="#000" opacity="0.49"/><rect x="114.0" y="488.5" width="0.8" height="0.8" fill="#000" opacity="0.45"/><rect x="104.6" y="497.2" width="0.8" height="0.8" fill="#000" opacity="0.32"/><rect x="117.7" y="493.6" width="0.8" height="0.8" fill="#000" opacity="0.58"/><rect x="112.5" y="485.9" width="0.8" height="0.8" fill="#000" opacity="0.45"/><rect x="104.2" y="486.4" width="0.8" height="0.8" fill="#000" opacity="0.41"/><rect x="105.5" y="486.6" width="0.8" height="0.8" fill="#000" opacity="0.78"/><rect x="114.1" y="488.6" width="0.8" height="0.8" fill="#000" opacity="0.62"/><rect x="115.9" y="495.8" width="0.8" height="0.8" fill="#000" opacity="0.50"/><rect x="116.5" y="494.8" width="0.8" height="0.8" fill="#000" opacity="0.46"/><rect x="101.1" y="492.8" width="0.8" height="0.8" fill="#000" opacity="0.38"/></g><path d="M101.5,487.8 C102.7,486.7 105.8,486.9 108.0,486.8 C110.2,486.7 113.5,486.5 115.0,487.3 C116.5,488.1 116.8,489.8 117.0,491.5 C117.2,493.2 117.3,496.3 116.0,497.5 C114.7,498.7 111.4,498.4 109.0,498.5 C106.6,498.6 102.9,499.1 101.5,498.3 C100.1,497.5 100.8,495.2 100.8,493.5 C100.8,491.8 100.3,488.9 101.5,487.8 Z" fill="#000" fill-opacity="0.9" filter="url(#bl)"/><g><rect x="107.6" y="492.4" width="0.9" height="0.9" fill="#fff" opacity="0.09"/><rect x="111.0" y="490.2" width="0.9" height="0.9" fill="#fff" opacity="0.07"/><rect x="106.9" y="491.9" width="0.9" height="0.9" fill="#fff" opacity="0.09"/><rect x="110.0" y="494.5" width="0.9" height="0.9" fill="#fff" opacity="0.19"/><rect x="111.5" y="488.2" width="0.9" height="0.9" fill="#fff" opacity="0.15"/><rect x="107.1" y="488.6" width="0.9" height="0.9" fill="#fff" opacity="0.15"/><rect x="103.1" y="492.6" width="0.9" height="0.9" fill="#fff" opacity="0.20"/><rect x="108.5" y="491.0" width="0.9" height="0.9" fill="#fff" opacity="0.11"/><rect x="102.7" y="491.2" width="0.9" height="0.9" fill="#fff" opacity="0.27"/><rect x="109.8" y="490.4" width="0.9" height="0.9" fill="#fff" opacity="0.22"/><rect x="104.8" y="492.4" width="0.9" height="0.9" fill="#fff" opacity="0.20"/><rect x="114.8" y="491.4" width="0.9" height="0.9" fill="#fff" opacity="0.19"/><rect x="114.6" y="495.2" width="0.9" height="0.9" fill="#fff" opacity="0.21"/><rect x="110.5" y="491.8" width="0.9" height="0.9" fill="#fff" opacity="0.15"/><rect x="106.0" y="495.7" width="0.9" height="0.9" fill="#fff" opacity="0.27"/><rect x="107.4" y="496.5" width="0.9" height="0.9" fill="#fff" opacity="0.06"/><rect x="104.2" y="492.7" width="0.9" height="0.9" fill="#fff" opacity="0.13"/><rect x="107.1" y="497.1" width="0.9" height="0.9" fill="#fff" opacity="0.09"/><rect x="104.9" y="490.1" width="0.9" height="0.9" fill="#fff" opacity="0.22"/><rect x="105.5" y="488.0" width="0.9" height="0.9" fill="#fff" opacity="0.19"/><rect x="107.5" y="490.2" width="0.9" height="0.9" fill="#fff" opacity="0.17"/><rect x="110.8" y="493.1" width="0.9" height="0.9" fill="#fff" opacity="0.21"/><rect x="109.7" y="495.7" width="0.9" height="0.9" fill="#fff" opacity="0.29"/><rect x="106.7" y="491.2" width="0.9" height="0.9" fill="#fff" opacity="0.27"/><rect x="106.5" y="494.7" width="0.9" height="0.9" fill="#fff" opacity="0.22"/><rect x="111.3" y="497.0" width="0.9" height="0.9" fill="#fff" opacity="0.26"/><rect x="104.5" y="493.8" width="0.9" height="0.9" fill="#fff" opacity="0.17"/><rect x="109.7" y="491.4" width="0.9" height="0.9" fill="#fff" opacity="0.12"/><rect x="112.1" y="493.0" width="0.9" height="0.9" fill="#fff" opacity="0.11"/><rect x="105.7" y="491.0" width="0.9" height="0.9" fill="#fff" opacity="0.09"/><rect x="109.1" y="489.1" width="0.9" height="0.9" fill="#fff" opacity="0.07"/><rect x="103.3" y="488.9" width="0.9" height="0.9" fill="#fff" opacity="0.23"/><rect x="103.9" y="492.2" width="0.9" height="0.9" fill="#fff" opacity="0.24"/><rect x="108.6" y="489.5" width="0.9" height="0.9" fill="#fff" opacity="0.27"/><rect x="113.7" y="488.5" width="0.9" height="0.9" fill="#fff" opacity="0.11"/><rect x="109.0" y="495.4" width="0.9" height="0.9" fill="#fff" opacity="0.15"/><rect x="111.7" y="490.3" width="0.9" height="0.9" fill="#fff" opacity="0.23"/><rect x="106.7" y="491.1" width="0.9" height="0.9" fill="#fff" opacity="0.24"/><rect x="113.3" y="495.7" width="0.9" height="0.9" fill="#fff" opacity="0.19"/><rect x="107.9" y="494.6" width="0.9" height="0.9" fill="#fff" opacity="0.21"/><rect x="113.2" y="495.5" width="0.9" height="0.9" fill="#fff" opacity="0.08"/><rect x="107.3" y="494.2" width="0.9" height="0.9" fill="#fff" opacity="0.11"/><rect x="104.8" y="488.1" width="0.9" height="0.9" fill="#fff" opacity="0.20"/><rect x="114.6" y="497.1" width="0.9" height="0.9" fill="#fff" opacity="0.08"/><rect x="111.3" y="491.9" width="0.9" height="0.9" fill="#fff" opacity="0.21"/><rect x="107.6" y="496.7" width="0.9" height="0.9" fill="#fff" opacity="0.30"/><rect x="103.1" y="494.6" width="0.9" height="0.9" fill="#fff" opacity="0.08"/><rect x="103.0" y="490.6" width="0.9" height="0.9" fill="#fff" opacity="0.23"/><rect x="115.3" y="489.1" width="0.9" height="0.9" fill="#fff" opacity="0.13"/><rect x="102.8" y="493.0" width="0.9" height="0.9" fill="#fff" opacity="0.17"/><rect x="107.3" y="490.9" width="0.9" height="0.9" fill="#fff" opacity="0.25"/><rect x="113.3" y="490.6" width="0.9" height="0.9" fill="#fff" opacity="0.15"/><rect x="110.4" y="495.1" width="0.9" height="0.9" fill="#fff" opacity="0.30"/><rect x="107.5" y="494.5" width="0.9" height="0.9" fill="#fff" opacity="0.19"/><rect x="112.8" y="489.3" width="0.9" height="0.9" fill="#fff" opacity="0.09"/><rect x="103.8" y="496.7" width="0.9" height="0.9" fill="#fff" opacity="0.11"/><rect x="108.7" y="489.1" width="0.9" height="0.9" fill="#fff" opacity="0.13"/><rect x="102.7" y="493.3" width="0.9" height="0.9" fill="#fff" opacity="0.09"/><rect x="110.5" y="490.5" width="0.9" height="0.9" fill="#fff" opacity="0.11"/><rect x="108.7" y="491.4" width="0.9" height="0.9" fill="#fff" opacity="0.11"/><rect x="103.1" y="488.6" width="0.9" height="0.9" fill="#fff" opacity="0.27"/><rect x="106.4" y="488.7" width="0.9" height="0.9" fill="#fff" opacity="0.10"/><rect x="108.7" y="497.3" width="0.9" height="0.9" fill="#fff" opacity="0.10"/><rect x="113.7" y="492.5" width="0.9" height="0.9" fill="#fff" opacity="0.15"/><rect x="112.9" y="491.7" width="0.9" height="0.9" fill="#fff" opacity="0.06"/><rect x="109.6" y="494.1" width="0.9" height="0.9" fill="#fff" opacity="0.21"/><rect x="106.0" y="496.8" width="0.9" height="0.9" fill="#fff" opacity="0.27"/><rect x="115.3" y="492.1" width="0.9" height="0.9" fill="#fff" opacity="0.26"/><rect x="111.8" y="489.6" width="0.9" height="0.9" fill="#fff" opacity="0.06"/><rect x="104.6" y="489.1" width="0.9" height="0.9" fill="#fff" opacity="0.07"/><rect x="107.1" y="495.0" width="0.9" height="0.9" fill="#fff" opacity="0.13"/><rect x="109.1" y="488.1" width="0.9" height="0.9" fill="#fff" opacity="0.10"/><rect x="114.9" y="488.1" width="0.9" height="0.9" fill="#fff" opacity="0.18"/><rect x="112.9" y="495.4" width="0.9" height="0.9" fill="#fff" opacity="0.23"/><rect x="107.6" y="495.5" width="0.9" height="0.9" fill="#fff" opacity="0.26"/><rect x="112.4" y="497.2" width="0.9" height="0.9" fill="#fff" opacity="0.08"/><rect x="114.7" y="491.7" width="0.9" height="0.9" fill="#fff" opacity="0.23"/><rect x="105.7" y="496.5" width="0.9" height="0.9" fill="#fff" opacity="0.06"/><rect x="109.9" y="490.1" width="0.9" height="0.9" fill="#fff" opacity="0.15"/><rect x="107.2" y="494.1" width="0.9" height="0.9" fill="#fff" opacity="0.25"/><rect x="107.1" y="493.9" width="0.9" height="0.9" fill="#fff" opacity="0.14"/><rect x="106.0" y="496.4" width="0.9" height="0.9" fill="#fff" opacity="0.13"/><rect x="103.6" y="491.1" width="0.9" height="0.9" fill="#fff" opacity="0.24"/><rect x="105.2" y="494.9" width="0.9" height="0.9" fill="#fff" opacity="0.19"/><rect x="111.2" y="489.6" width="0.9" height="0.9" fill="#fff" opacity="0.08"/><rect x="104.3" y="491.2" width="0.9" height="0.9" fill="#fff" opacity="0.16"/><rect x="102.5" y="492.7" width="0.9" height="0.9" fill="#fff" opacity="0.15"/><rect x="106.6" y="493.0" width="0.9" height="0.9" fill="#fff" opacity="0.29"/><rect x="105.1" y="496.2" width="0.9" height="0.9" fill="#fff" opacity="0.13"/><rect x="112.2" y="489.0" width="0.9" height="0.9" fill="#fff" opacity="0.30"/></g><text x="129.5" y="479.2" font-size="10" text-anchor="middle" font-weight="normal" fill="#111" stroke="#111" stroke-width="0.25">4.1</text><text x="162.9" y="452.2" font-size="3.4" text-anchor="end" fill="#777" font-weight="bold">1000</text><text x="162.9" y="462.2" font-size="3.4" text-anchor="end" fill="#777" font-weight="bold">800</text><text x="162.9" y="472.2" font-size="3.4" text-anchor="end" fill="#777" font-weight="bold">600</text><text x="162.9" y="482.2" font-size="3.4" text-anchor="end" fill="#777" font-weight="bold">400</text><text x="162.9" y="492.2" font-size="3.4" text-anchor="end" fill="#777" font-weight="bold">200</text><text x="162.9" y="502.2" font-size="3.4" text-anchor="end" fill="#777" font-weight="bold">0</text><text x="155.4" y="472.7" font-size="2.8" text-anchor="middle" fill="#aaa" transform="rotate(-90 155.4 472.7)">SSC-A :: SSC</text><text x="166.9" y="505.7" font-size="4" text-anchor="end" fill="#777" transform="rotate(-55 165.9 504.2)">10<tspan font-size="2.6" dy="-1.2">0</tspan></text><text x="179.5" y="505.7" font-size="4" text-anchor="end" fill="#777" transform="rotate(-55 178.5 504.2)">10<tspan font-size="2.6" dy="-1.2">1</tspan></text><text x="192.1" y="505.7" font-size="4" text-anchor="end" fill="#777" transform="rotate(-55 191.1 504.2)">10<tspan font-size="2.6" dy="-1.2">2</tspan></text><text x="204.7" y="505.7" font-size="4" text-anchor="end" fill="#777" transform="rotate(-55 203.7 504.2)">10<tspan font-size="2.6" dy="-1.2">3</tspan></text><rect x="164.9" y="450.2" width="50.29999999999998" height="51.0" fill="none" stroke="#aaa" stroke-width="0.9"/><rect x="183.7" y="481.2" width="22.600000000000023" height="19.19999999999999" fill="none" stroke="#999" stroke-width="1.1"/><defs><radialGradient id="dg12"><stop offset="0" stop-color="#000" stop-opacity="0.3"/><stop offset="1" stop-color="#000" stop-opacity="0"/></radialGradient></defs><ellipse cx="189.8" cy="491.05" rx="13.799999999999999" ry="10.570000000000014" fill="url(#dg12)"/><g><rect x="196.9" y="492.0" width="0.7" height="0.7" fill="#000" opacity="0.38"/><rect x="183.9" y="491.5" width="0.7" height="0.7" fill="#000" opacity="0.28"/><rect x="185.6" y="498.5" width="0.7" height="0.7" fill="#000" opacity="0.39"/><rect x="192.9" y="487.9" width="0.7" height="0.7" fill="#000" opacity="0.38"/><rect x="189.3" y="494.6" width="0.7" height="0.7" fill="#000" opacity="0.21"/><rect x="185.8" y="490.2" width="0.7" height="0.7" fill="#000" opacity="0.44"/><rect x="196.1" y="493.9" width="0.7" height="0.7" fill="#000" opacity="0.27"/><rect x="198.2" y="495.6" width="0.7" height="0.7" fill="#000" opacity="0.16"/><rect x="202.8" y="494.5" width="0.7" height="0.7" fill="#000" opacity="0.33"/><rect x="206.8" y="497.7" width="0.7" height="0.7" fill="#000" opacity="0.48"/><rect x="190.7" y="493.9" width="0.7" height="0.7" fill="#000" opacity="0.20"/><rect x="188.1" y="496.4" width="0.7" height="0.7" fill="#000" opacity="0.21"/><rect x="184.0" y="489.8" width="0.7" height="0.7" fill="#000" opacity="0.21"/><rect x="186.9" y="487.2" width="0.7" height="0.7" fill="#000" opacity="0.30"/><rect x="192.0" y="488.4" width="0.7" height="0.7" fill="#000" opacity="0.28"/><rect x="198.2" y="492.3" width="0.7" height="0.7" fill="#000" opacity="0.49"/><rect x="197.0" y="490.1" width="0.7" height="0.7" fill="#000" opacity="0.27"/><rect x="192.6" y="495.9" width="0.7" height="0.7" fill="#000" opacity="0.39"/><rect x="188.3" y="493.0" width="0.7" height="0.7" fill="#000" opacity="0.28"/><rect x="200.5" y="490.5" width="0.7" height="0.7" fill="#000" opacity="0.33"/><rect x="200.6" y="492.4" width="0.7" height="0.7" fill="#000" opacity="0.30"/><rect x="189.8" y="490.7" width="0.7" height="0.7" fill="#000" opacity="0.30"/><rect x="195.6" y="495.7" width="0.7" height="0.7" fill="#000" opacity="0.19"/><rect x="188.7" y="490.2" width="0.7" height="0.7" fill="#000" opacity="0.39"/><rect x="190.5" y="491.8" width="0.7" height="0.7" fill="#000" opacity="0.27"/><rect x="185.0" y="490.0" width="0.7" height="0.7" fill="#000" opacity="0.31"/><rect x="185.0" y="494.3" width="0.7" height="0.7" fill="#000" opacity="0.32"/><rect x="193.6" y="489.8" width="0.7" height="0.7" fill="#000" opacity="0.48"/><rect x="193.8" y="499.2" width="0.7" height="0.7" fill="#000" opacity="0.28"/><rect x="188.9" y="497.5" width="0.7" height="0.7" fill="#000" opacity="0.47"/><rect x="190.6" y="491.2" width="0.7" height="0.7" fill="#000" opacity="0.42"/><rect x="186.9" y="493.6" width="0.7" height="0.7" fill="#000" opacity="0.15"/><rect x="195.9" y="492.5" width="0.7" height="0.7" fill="#000" opacity="0.49"/><rect x="194.4" y="491.0" width="0.7" height="0.7" fill="#000" opacity="0.16"/><rect x="190.4" y="497.6" width="0.7" height="0.7" fill="#000" opacity="0.44"/><rect x="187.4" y="488.7" width="0.7" height="0.7" fill="#000" opacity="0.33"/><rect x="196.3" y="491.9" width="0.7" height="0.7" fill="#000" opacity="0.24"/><rect x="202.2" y="488.2" width="0.7" height="0.7" fill="#000" opacity="0.21"/><rect x="188.0" y="499.2" width="0.7" height="0.7" fill="#000" opacity="0.25"/><rect x="193.8" y="489.3" width="0.7" height="0.7" fill="#000" opacity="0.39"/><rect x="184.9" y="488.3" width="0.7" height="0.7" fill="#000" opacity="0.25"/><rect x="183.5" y="497.3" width="0.7" height="0.7" fill="#000" opacity="0.39"/><rect x="196.5" y="497.4" width="0.7" height="0.7" fill="#000" opacity="0.30"/><rect x="183.6" y="495.5" width="0.7" height="0.7" fill="#000" opacity="0.49"/><rect x="195.5" y="488.9" width="0.7" height="0.7" fill="#000" opacity="0.47"/><rect x="198.8" y="489.4" width="0.7" height="0.7" fill="#000" opacity="0.30"/><rect x="200.5" y="486.3" width="0.7" height="0.7" fill="#000" opacity="0.43"/><rect x="190.8" y="489.2" width="0.7" height="0.7" fill="#000" opacity="0.28"/><rect x="184.1" y="485.7" width="0.7" height="0.7" fill="#000" opacity="0.16"/><rect x="188.1" y="482.3" width="0.7" height="0.7" fill="#000" opacity="0.43"/><rect x="199.9" y="485.6" width="0.7" height="0.7" fill="#000" opacity="0.34"/><rect x="185.3" y="487.1" width="0.7" height="0.7" fill="#000" opacity="0.18"/><rect x="188.0" y="493.9" width="0.7" height="0.7" fill="#000" opacity="0.48"/><rect x="187.5" y="486.2" width="0.7" height="0.7" fill="#000" opacity="0.37"/><rect x="191.4" y="494.7" width="0.7" height="0.7" fill="#000" opacity="0.40"/><rect x="188.7" y="493.0" width="0.7" height="0.7" fill="#000" opacity="0.29"/><rect x="189.5" y="496.7" width="0.7" height="0.7" fill="#000" opacity="0.20"/><rect x="190.0" y="493.0" width="0.7" height="0.7" fill="#000" opacity="0.39"/><rect x="183.9" y="485.0" width="0.7" height="0.7" fill="#000" opacity="0.48"/><rect x="184.6" y="491.8" width="0.7" height="0.7" fill="#000" opacity="0.32"/><rect x="188.7" y="492.0" width="0.7" height="0.7" fill="#000" opacity="0.38"/><rect x="186.8" y="493.6" width="0.7" height="0.7" fill="#000" opacity="0.26"/><rect x="184.1" y="490.9" width="0.7" height="0.7" fill="#000" opacity="0.28"/><rect x="184.2" y="493.8" width="0.7" height="0.7" fill="#000" opacity="0.30"/><rect x="187.0" y="500.2" width="0.7" height="0.7" fill="#000" opacity="0.33"/><rect x="184.8" y="488.7" width="0.7" height="0.7" fill="#000" opacity="0.31"/><rect x="197.5" y="486.1" width="0.7" height="0.7" fill="#000" opacity="0.24"/><rect x="201.3" y="493.1" width="0.7" height="0.7" fill="#000" opacity="0.44"/><rect x="184.7" y="496.2" width="0.7" height="0.7" fill="#000" opacity="0.42"/><rect x="194.4" y="494.8" width="0.7" height="0.7" fill="#000" opacity="0.38"/><rect x="195.0" y="490.1" width="0.7" height="0.7" fill="#000" opacity="0.39"/><rect x="192.2" y="496.5" width="0.7" height="0.7" fill="#000" opacity="0.26"/><rect x="192.1" y="491.1" width="0.7" height="0.7" fill="#000" opacity="0.26"/><rect x="187.5" y="493.3" width="0.7" height="0.7" fill="#000" opacity="0.34"/><rect x="183.0" y="492.3" width="0.7" height="0.7" fill="#000" opacity="0.43"/><rect x="190.8" y="488.7" width="0.7" height="0.7" fill="#000" opacity="0.46"/><rect x="189.7" y="488.9" width="0.7" height="0.7" fill="#000" opacity="0.19"/><rect x="194.7" y="484.9" width="0.7" height="0.7" fill="#000" opacity="0.36"/><rect x="185.1" y="486.9" width="0.7" height="0.7" fill="#000" opacity="0.37"/><rect x="183.8" y="495.3" width="0.7" height="0.7" fill="#000" opacity="0.28"/><rect x="190.3" y="493.8" width="0.7" height="0.7" fill="#000" opacity="0.43"/><rect x="186.1" y="493.5" width="0.7" height="0.7" fill="#000" opacity="0.24"/><rect x="194.5" y="490.1" width="0.7" height="0.7" fill="#000" opacity="0.17"/><rect x="193.0" y="483.8" width="0.7" height="0.7" fill="#000" opacity="0.44"/><rect x="192.9" y="496.3" width="0.7" height="0.7" fill="#000" opacity="0.26"/><rect x="195.5" y="497.4" width="0.7" height="0.7" fill="#000" opacity="0.44"/><rect x="187.8" y="499.3" width="0.7" height="0.7" fill="#000" opacity="0.16"/><rect x="183.6" y="491.7" width="0.7" height="0.7" fill="#000" opacity="0.21"/><rect x="190.9" y="496.7" width="0.7" height="0.7" fill="#000" opacity="0.25"/><rect x="185.3" y="493.5" width="0.7" height="0.7" fill="#000" opacity="0.26"/><rect x="191.5" y="486.7" width="0.7" height="0.7" fill="#000" opacity="0.19"/><rect x="187.7" y="486.3" width="0.7" height="0.7" fill="#000" opacity="0.31"/><rect x="196.7" y="490.0" width="0.7" height="0.7" fill="#000" opacity="0.43"/><rect x="196.6" y="490.9" width="0.7" height="0.7" fill="#000" opacity="0.31"/><rect x="189.3" y="488.0" width="0.7" height="0.7" fill="#000" opacity="0.30"/><rect x="198.1" y="490.4" width="0.7" height="0.7" fill="#000" opacity="0.25"/><rect x="192.9" y="488.9" width="0.7" height="0.7" fill="#000" opacity="0.45"/><rect x="191.8" y="481.4" width="0.7" height="0.7" fill="#000" opacity="0.39"/><rect x="191.8" y="492.9" width="0.7" height="0.7" fill="#000" opacity="0.36"/><rect x="183.4" y="483.1" width="0.7" height="0.7" fill="#000" opacity="0.20"/><rect x="187.2" y="491.8" width="0.7" height="0.7" fill="#000" opacity="0.18"/><rect x="184.2" y="491.2" width="0.7" height="0.7" fill="#000" opacity="0.24"/><rect x="194.1" y="495.2" width="0.7" height="0.7" fill="#000" opacity="0.37"/><rect x="206.8" y="488.8" width="0.7" height="0.7" fill="#000" opacity="0.41"/><rect x="185.2" y="490.7" width="0.7" height="0.7" fill="#000" opacity="0.23"/><rect x="192.8" y="488.9" width="0.7" height="0.7" fill="#000" opacity="0.22"/><rect x="183.4" y="486.7" width="0.7" height="0.7" fill="#000" opacity="0.34"/><rect x="185.9" y="493.9" width="0.7" height="0.7" fill="#000" opacity="0.18"/><rect x="201.6" y="484.7" width="0.7" height="0.7" fill="#000" opacity="0.50"/><rect x="185.1" y="481.4" width="0.7" height="0.7" fill="#000" opacity="0.28"/><rect x="189.5" y="500.0" width="0.7" height="0.7" fill="#000" opacity="0.36"/><rect x="183.7" y="490.5" width="0.7" height="0.7" fill="#000" opacity="0.23"/><rect x="198.5" y="491.8" width="0.7" height="0.7" fill="#000" opacity="0.44"/><rect x="183.4" y="487.3" width="0.7" height="0.7" fill="#000" opacity="0.28"/><rect x="201.8" y="481.5" width="0.7" height="0.7" fill="#000" opacity="0.32"/><rect x="187.6" y="496.5" width="0.7" height="0.7" fill="#000" opacity="0.34"/><rect x="187.5" y="493.3" width="0.7" height="0.7" fill="#000" opacity="0.28"/><rect x="186.8" y="489.6" width="0.7" height="0.7" fill="#000" opacity="0.34"/><rect x="198.2" y="489.0" width="0.7" height="0.7" fill="#000" opacity="0.24"/><rect x="186.9" y="492.0" width="0.7" height="0.7" fill="#000" opacity="0.41"/><rect x="187.0" y="489.2" width="0.7" height="0.7" fill="#000" opacity="0.34"/><rect x="193.4" y="488.0" width="0.7" height="0.7" fill="#000" opacity="0.28"/><rect x="186.3" y="494.7" width="0.7" height="0.7" fill="#000" opacity="0.50"/><rect x="188.5" y="495.3" width="0.7" height="0.7" fill="#000" opacity="0.31"/><rect x="187.5" y="494.8" width="0.7" height="0.7" fill="#000" opacity="0.22"/><rect x="187.0" y="494.6" width="0.7" height="0.7" fill="#000" opacity="0.27"/><rect x="190.5" y="489.7" width="0.7" height="0.7" fill="#000" opacity="0.27"/><rect x="188.3" y="487.6" width="0.7" height="0.7" fill="#000" opacity="0.33"/><rect x="185.3" y="489.8" width="0.7" height="0.7" fill="#000" opacity="0.39"/><rect x="188.9" y="492.9" width="0.7" height="0.7" fill="#000" opacity="0.43"/><rect x="197.3" y="490.6" width="0.7" height="0.7" fill="#000" opacity="0.21"/><rect x="190.2" y="492.3" width="0.7" height="0.7" fill="#000" opacity="0.44"/><rect x="183.7" y="493.8" width="0.7" height="0.7" fill="#000" opacity="0.37"/><rect x="191.3" y="486.8" width="0.7" height="0.7" fill="#000" opacity="0.32"/><rect x="193.3" y="489.9" width="0.7" height="0.7" fill="#000" opacity="0.48"/><rect x="191.4" y="494.0" width="0.7" height="0.7" fill="#000" opacity="0.28"/><rect x="186.5" y="484.3" width="0.7" height="0.7" fill="#000" opacity="0.23"/><rect x="198.3" y="490.0" width="0.7" height="0.7" fill="#000" opacity="0.33"/><rect x="189.9" y="486.2" width="0.7" height="0.7" fill="#000" opacity="0.40"/><rect x="188.0" y="493.9" width="0.7" height="0.7" fill="#000" opacity="0.16"/><rect x="196.1" y="486.4" width="0.7" height="0.7" fill="#000" opacity="0.29"/><rect x="203.3" y="489.2" width="0.7" height="0.7" fill="#000" opacity="0.20"/><rect x="188.2" y="487.3" width="0.7" height="0.7" fill="#000" opacity="0.26"/><rect x="183.6" y="495.3" width="0.7" height="0.7" fill="#000" opacity="0.17"/><rect x="187.5" y="491.7" width="0.7" height="0.7" fill="#000" opacity="0.26"/><rect x="185.7" y="492.8" width="0.7" height="0.7" fill="#000" opacity="0.44"/><rect x="191.1" y="494.4" width="0.7" height="0.7" fill="#000" opacity="0.36"/><rect x="187.9" y="490.1" width="0.7" height="0.7" fill="#000" opacity="0.23"/><rect x="196.5" y="484.0" width="0.7" height="0.7" fill="#000" opacity="0.48"/><rect x="192.0" y="490.3" width="0.7" height="0.7" fill="#000" opacity="0.22"/><rect x="196.8" y="487.3" width="0.7" height="0.7" fill="#000" opacity="0.34"/><rect x="184.9" y="487.9" width="0.7" height="0.7" fill="#000" opacity="0.34"/><rect x="186.8" y="489.9" width="0.7" height="0.7" fill="#000" opacity="0.37"/><rect x="190.2" y="498.3" width="0.7" height="0.7" fill="#000" opacity="0.44"/><rect x="189.3" y="487.6" width="0.7" height="0.7" fill="#000" opacity="0.16"/><rect x="192.1" y="491.2" width="0.7" height="0.7" fill="#000" opacity="0.29"/><rect x="202.1" y="495.4" width="0.7" height="0.7" fill="#000" opacity="0.33"/><rect x="200.1" y="488.0" width="0.7" height="0.7" fill="#000" opacity="0.46"/><rect x="194.4" y="489.5" width="0.7" height="0.7" fill="#000" opacity="0.45"/><rect x="197.4" y="497.5" width="0.7" height="0.7" fill="#000" opacity="0.16"/><rect x="186.4" y="486.2" width="0.7" height="0.7" fill="#000" opacity="0.37"/><rect x="189.8" y="490.9" width="0.7" height="0.7" fill="#000" opacity="0.29"/><rect x="187.9" y="484.5" width="0.7" height="0.7" fill="#000" opacity="0.33"/><rect x="185.4" y="484.9" width="0.7" height="0.7" fill="#000" opacity="0.45"/><rect x="188.4" y="487.9" width="0.7" height="0.7" fill="#000" opacity="0.25"/><rect x="187.3" y="492.1" width="0.7" height="0.7" fill="#000" opacity="0.16"/><rect x="188.2" y="490.7" width="0.7" height="0.7" fill="#000" opacity="0.36"/><rect x="199.6" y="499.1" width="0.7" height="0.7" fill="#000" opacity="0.34"/><rect x="191.0" y="498.0" width="0.7" height="0.7" fill="#000" opacity="0.45"/><rect x="189.8" y="490.6" width="0.7" height="0.7" fill="#000" opacity="0.29"/><rect x="187.2" y="488.2" width="0.7" height="0.7" fill="#000" opacity="0.35"/><rect x="187.8" y="484.4" width="0.7" height="0.7" fill="#000" opacity="0.44"/><rect x="183.0" y="487.6" width="0.7" height="0.7" fill="#000" opacity="0.41"/><rect x="188.3" y="492.1" width="0.7" height="0.7" fill="#000" opacity="0.16"/><rect x="189.5" y="488.3" width="0.7" height="0.7" fill="#000" opacity="0.18"/><rect x="192.9" y="491.3" width="0.7" height="0.7" fill="#000" opacity="0.26"/><rect x="193.9" y="489.0" width="0.7" height="0.7" fill="#000" opacity="0.34"/><rect x="203.8" y="490.3" width="0.7" height="0.7" fill="#000" opacity="0.25"/><rect x="188.8" y="488.4" width="0.7" height="0.7" fill="#000" opacity="0.48"/><rect x="190.9" y="492.3" width="0.7" height="0.7" fill="#000" opacity="0.48"/><rect x="190.9" y="485.5" width="0.7" height="0.7" fill="#000" opacity="0.22"/><rect x="200.6" y="498.3" width="0.7" height="0.7" fill="#000" opacity="0.17"/><rect x="187.6" y="495.0" width="0.7" height="0.7" fill="#000" opacity="0.44"/><rect x="197.8" y="477.6" width="0.7" height="0.7" fill="#000" opacity="0.42"/><rect x="202.5" y="494.6" width="0.7" height="0.7" fill="#000" opacity="0.26"/><rect x="206.0" y="494.4" width="0.7" height="0.7" fill="#000" opacity="0.46"/><rect x="188.9" y="487.0" width="0.7" height="0.7" fill="#000" opacity="0.22"/><rect x="183.7" y="492.6" width="0.7" height="0.7" fill="#000" opacity="0.18"/><rect x="203.3" y="492.2" width="0.7" height="0.7" fill="#000" opacity="0.48"/><rect x="197.3" y="490.5" width="0.7" height="0.7" fill="#000" opacity="0.31"/><rect x="185.5" y="484.6" width="0.7" height="0.7" fill="#000" opacity="0.49"/><rect x="191.2" y="485.9" width="0.7" height="0.7" fill="#000" opacity="0.36"/><rect x="188.3" y="495.1" width="0.7" height="0.7" fill="#000" opacity="0.31"/><rect x="186.6" y="493.3" width="0.7" height="0.7" fill="#000" opacity="0.29"/><rect x="189.0" y="496.2" width="0.7" height="0.7" fill="#000" opacity="0.26"/><rect x="197.5" y="490.6" width="0.7" height="0.7" fill="#000" opacity="0.33"/><rect x="191.8" y="492.7" width="0.7" height="0.7" fill="#000" opacity="0.22"/><rect x="203.7" y="488.9" width="0.7" height="0.7" fill="#000" opacity="0.38"/><rect x="186.1" y="489.2" width="0.7" height="0.7" fill="#000" opacity="0.34"/><rect x="187.2" y="494.2" width="0.7" height="0.7" fill="#000" opacity="0.36"/><rect x="186.4" y="493.7" width="0.7" height="0.7" fill="#000" opacity="0.41"/><rect x="203.1" y="491.9" width="0.7" height="0.7" fill="#000" opacity="0.21"/><rect x="202.2" y="496.2" width="0.7" height="0.7" fill="#000" opacity="0.36"/><rect x="187.3" y="486.1" width="0.7" height="0.7" fill="#000" opacity="0.20"/><rect x="194.1" y="490.4" width="0.7" height="0.7" fill="#000" opacity="0.47"/><rect x="187.7" y="493.7" width="0.7" height="0.7" fill="#000" opacity="0.34"/><rect x="183.3" y="499.3" width="0.7" height="0.7" fill="#000" opacity="0.24"/><rect x="188.0" y="492.2" width="0.7" height="0.7" fill="#000" opacity="0.25"/><rect x="201.7" y="488.3" width="0.7" height="0.7" fill="#000" opacity="0.38"/><rect x="185.5" y="491.6" width="0.7" height="0.7" fill="#000" opacity="0.44"/><rect x="187.5" y="493.0" width="0.7" height="0.7" fill="#000" opacity="0.30"/><rect x="187.0" y="489.0" width="0.7" height="0.7" fill="#000" opacity="0.17"/><rect x="184.0" y="490.8" width="0.7" height="0.7" fill="#000" opacity="0.41"/><rect x="188.1" y="493.8" width="0.7" height="0.7" fill="#000" opacity="0.22"/><rect x="203.1" y="494.6" width="0.7" height="0.7" fill="#000" opacity="0.44"/><rect x="187.0" y="490.7" width="0.7" height="0.7" fill="#000" opacity="0.21"/><rect x="187.8" y="498.1" width="0.7" height="0.7" fill="#000" opacity="0.47"/><rect x="191.5" y="491.6" width="0.7" height="0.7" fill="#000" opacity="0.49"/><rect x="185.3" y="492.4" width="0.7" height="0.7" fill="#000" opacity="0.24"/><rect x="188.8" y="489.0" width="0.7" height="0.7" fill="#000" opacity="0.40"/><rect x="193.3" y="495.2" width="0.7" height="0.7" fill="#000" opacity="0.21"/><rect x="196.1" y="487.2" width="0.7" height="0.7" fill="#000" opacity="0.46"/><rect x="208.6" y="495.8" width="0.7" height="0.7" fill="#000" opacity="0.29"/><rect x="203.2" y="488.2" width="0.7" height="0.7" fill="#000" opacity="0.50"/><rect x="189.0" y="493.1" width="0.7" height="0.7" fill="#000" opacity="0.39"/><rect x="188.6" y="488.9" width="0.7" height="0.7" fill="#000" opacity="0.42"/><rect x="183.9" y="491.1" width="0.7" height="0.7" fill="#000" opacity="0.18"/><rect x="189.9" y="491.2" width="0.7" height="0.7" fill="#000" opacity="0.48"/><rect x="191.2" y="483.6" width="0.7" height="0.7" fill="#000" opacity="0.47"/><rect x="194.6" y="495.0" width="0.7" height="0.7" fill="#000" opacity="0.38"/><rect x="184.5" y="489.3" width="0.7" height="0.7" fill="#000" opacity="0.46"/><rect x="188.8" y="494.8" width="0.7" height="0.7" fill="#000" opacity="0.39"/><rect x="183.6" y="483.3" width="0.7" height="0.7" fill="#000" opacity="0.26"/><rect x="187.6" y="497.4" width="0.7" height="0.7" fill="#000" opacity="0.17"/><rect x="188.9" y="488.5" width="0.7" height="0.7" fill="#000" opacity="0.29"/><rect x="188.8" y="497.1" width="0.7" height="0.7" fill="#000" opacity="0.21"/><rect x="185.3" y="492.2" width="0.7" height="0.7" fill="#000" opacity="0.20"/><rect x="203.6" y="482.3" width="0.7" height="0.7" fill="#000" opacity="0.15"/><rect x="191.7" y="492.0" width="0.7" height="0.7" fill="#000" opacity="0.26"/><rect x="185.5" y="492.7" width="0.7" height="0.7" fill="#000" opacity="0.30"/><rect x="183.3" y="492.5" width="0.7" height="0.7" fill="#000" opacity="0.20"/><rect x="196.7" y="488.2" width="0.7" height="0.7" fill="#000" opacity="0.49"/><rect x="189.1" y="484.8" width="0.7" height="0.7" fill="#000" opacity="0.23"/><rect x="204.4" y="498.6" width="0.7" height="0.7" fill="#000" opacity="0.39"/><rect x="183.9" y="488.8" width="0.7" height="0.7" fill="#000" opacity="0.43"/><rect x="187.0" y="490.7" width="0.7" height="0.7" fill="#000" opacity="0.22"/><rect x="196.1" y="489.9" width="0.7" height="0.7" fill="#000" opacity="0.18"/><rect x="197.0" y="494.4" width="0.7" height="0.7" fill="#000" opacity="0.27"/><rect x="188.2" y="491.4" width="0.7" height="0.7" fill="#000" opacity="0.21"/><rect x="193.1" y="491.1" width="0.7" height="0.7" fill="#000" opacity="0.22"/><rect x="189.1" y="494.7" width="0.7" height="0.7" fill="#000" opacity="0.19"/><rect x="193.1" y="492.8" width="0.7" height="0.7" fill="#000" opacity="0.17"/><rect x="184.6" y="484.0" width="0.7" height="0.7" fill="#000" opacity="0.40"/><rect x="188.5" y="490.3" width="0.7" height="0.7" fill="#000" opacity="0.30"/><rect x="186.2" y="491.9" width="0.7" height="0.7" fill="#000" opacity="0.45"/><rect x="209.5" y="494.1" width="0.7" height="0.7" fill="#000" opacity="0.39"/><rect x="186.4" y="490.9" width="0.7" height="0.7" fill="#000" opacity="0.46"/><rect x="199.2" y="489.4" width="0.7" height="0.7" fill="#000" opacity="0.35"/><rect x="189.6" y="487.2" width="0.7" height="0.7" fill="#000" opacity="0.45"/><rect x="169.5" y="487.2" width="0.8" height="0.8" fill="#000" opacity="0.50"/><rect x="171.0" y="485.1" width="0.8" height="0.8" fill="#000" opacity="0.77"/><rect x="178.1" y="483.7" width="0.8" height="0.8" fill="#000" opacity="0.66"/><rect x="177.9" y="498.9" width="0.8" height="0.8" fill="#000" opacity="0.56"/><rect x="176.0" y="484.5" width="0.8" height="0.8" fill="#000" opacity="0.37"/><rect x="180.6" y="498.6" width="0.8" height="0.8" fill="#000" opacity="0.39"/><rect x="168.0" y="487.7" width="0.8" height="0.8" fill="#000" opacity="0.51"/><rect x="178.4" y="499.2" width="0.8" height="0.8" fill="#000" opacity="0.51"/><rect x="170.2" y="493.7" width="0.8" height="0.8" fill="#000" opacity="0.64"/><rect x="171.4" y="498.8" width="0.8" height="0.8" fill="#000" opacity="0.55"/><rect x="173.0" y="482.7" width="0.8" height="0.8" fill="#000" opacity="0.79"/><rect x="186.7" y="492.3" width="0.8" height="0.8" fill="#000" opacity="0.35"/><rect x="185.8" y="488.3" width="0.8" height="0.8" fill="#000" opacity="0.43"/><rect x="175.1" y="483.1" width="0.8" height="0.8" fill="#000" opacity="0.53"/><rect x="171.2" y="485.5" width="0.8" height="0.8" fill="#000" opacity="0.63"/><rect x="174.7" y="485.0" width="0.8" height="0.8" fill="#000" opacity="0.62"/><rect x="174.3" y="482.4" width="0.8" height="0.8" fill="#000" opacity="0.57"/><rect x="170.0" y="489.3" width="0.8" height="0.8" fill="#000" opacity="0.40"/><rect x="182.5" y="487.0" width="0.8" height="0.8" fill="#000" opacity="0.75"/><rect x="182.7" y="496.4" width="0.8" height="0.8" fill="#000" opacity="0.61"/><rect x="185.1" y="492.5" width="0.8" height="0.8" fill="#000" opacity="0.70"/><rect x="171.5" y="495.7" width="0.8" height="0.8" fill="#000" opacity="0.33"/><rect x="183.8" y="488.9" width="0.8" height="0.8" fill="#000" opacity="0.63"/><rect x="172.0" y="485.5" width="0.8" height="0.8" fill="#000" opacity="0.58"/><rect x="174.1" y="484.6" width="0.8" height="0.8" fill="#000" opacity="0.42"/><rect x="183.6" y="487.8" width="0.8" height="0.8" fill="#000" opacity="0.54"/><rect x="168.1" y="493.5" width="0.8" height="0.8" fill="#000" opacity="0.73"/><rect x="177.8" y="482.8" width="0.8" height="0.8" fill="#000" opacity="0.57"/><rect x="184.2" y="495.5" width="0.8" height="0.8" fill="#000" opacity="0.52"/><rect x="177.3" y="483.5" width="0.8" height="0.8" fill="#000" opacity="0.36"/><rect x="170.0" y="497.0" width="0.8" height="0.8" fill="#000" opacity="0.55"/><rect x="173.6" y="485.3" width="0.8" height="0.8" fill="#000" opacity="0.41"/><rect x="176.2" y="498.9" width="0.8" height="0.8" fill="#000" opacity="0.36"/><rect x="184.4" y="488.6" width="0.8" height="0.8" fill="#000" opacity="0.30"/><rect x="177.5" y="499.0" width="0.8" height="0.8" fill="#000" opacity="0.61"/><rect x="179.8" y="484.9" width="0.8" height="0.8" fill="#000" opacity="0.79"/><rect x="182.2" y="484.8" width="0.8" height="0.8" fill="#000" opacity="0.62"/><rect x="174.5" y="497.5" width="0.8" height="0.8" fill="#000" opacity="0.31"/><rect x="186.4" y="488.9" width="0.8" height="0.8" fill="#000" opacity="0.52"/><rect x="170.3" y="486.4" width="0.8" height="0.8" fill="#000" opacity="0.64"/><rect x="184.5" y="496.1" width="0.8" height="0.8" fill="#000" opacity="0.39"/><rect x="169.6" y="486.6" width="0.8" height="0.8" fill="#000" opacity="0.72"/><rect x="171.5" y="486.5" width="0.8" height="0.8" fill="#000" opacity="0.71"/><rect x="171.0" y="496.8" width="0.8" height="0.8" fill="#000" opacity="0.70"/><rect x="184.1" y="490.1" width="0.8" height="0.8" fill="#000" opacity="0.53"/><rect x="173.3" y="499.3" width="0.8" height="0.8" fill="#000" opacity="0.50"/><rect x="184.9" y="486.3" width="0.8" height="0.8" fill="#000" opacity="0.51"/><rect x="177.7" y="482.6" width="0.8" height="0.8" fill="#000" opacity="0.36"/><rect x="174.9" y="497.6" width="0.8" height="0.8" fill="#000" opacity="0.72"/><rect x="170.9" y="495.5" width="0.8" height="0.8" fill="#000" opacity="0.66"/><rect x="184.2" y="490.5" width="0.8" height="0.8" fill="#000" opacity="0.65"/><rect x="178.3" y="499.8" width="0.8" height="0.8" fill="#000" opacity="0.67"/><rect x="178.0" y="482.9" width="0.8" height="0.8" fill="#000" opacity="0.36"/><rect x="181.3" y="485.6" width="0.8" height="0.8" fill="#000" opacity="0.59"/><rect x="184.4" y="489.2" width="0.8" height="0.8" fill="#000" opacity="0.54"/><rect x="173.0" y="483.6" width="0.8" height="0.8" fill="#000" opacity="0.46"/><rect x="168.6" y="495.6" width="0.8" height="0.8" fill="#000" opacity="0.66"/><rect x="181.1" y="498.6" width="0.8" height="0.8" fill="#000" opacity="0.73"/><rect x="169.2" y="485.6" width="0.8" height="0.8" fill="#000" opacity="0.43"/><rect x="174.6" y="499.8" width="0.8" height="0.8" fill="#000" opacity="0.43"/><rect x="182.1" y="496.0" width="0.8" height="0.8" fill="#000" opacity="0.74"/><rect x="180.3" y="484.8" width="0.8" height="0.8" fill="#000" opacity="0.67"/><rect x="179.9" y="498.9" width="0.8" height="0.8" fill="#000" opacity="0.31"/><rect x="168.8" y="487.0" width="0.8" height="0.8" fill="#000" opacity="0.55"/><rect x="172.0" y="486.2" width="0.8" height="0.8" fill="#000" opacity="0.53"/><rect x="178.7" y="483.7" width="0.8" height="0.8" fill="#000" opacity="0.67"/><rect x="169.4" y="485.9" width="0.8" height="0.8" fill="#000" opacity="0.67"/><rect x="173.8" y="499.4" width="0.8" height="0.8" fill="#000" opacity="0.71"/><rect x="168.8" y="494.8" width="0.8" height="0.8" fill="#000" opacity="0.51"/><rect x="170.0" y="487.6" width="0.8" height="0.8" fill="#000" opacity="0.53"/><rect x="173.5" y="499.6" width="0.8" height="0.8" fill="#000" opacity="0.61"/><rect x="170.6" y="485.8" width="0.8" height="0.8" fill="#000" opacity="0.53"/><rect x="181.1" y="498.5" width="0.8" height="0.8" fill="#000" opacity="0.52"/><rect x="172.3" y="497.7" width="0.8" height="0.8" fill="#000" opacity="0.37"/><rect x="171.5" y="484.0" width="0.8" height="0.8" fill="#000" opacity="0.48"/><rect x="182.2" y="499.0" width="0.8" height="0.8" fill="#000" opacity="0.61"/><rect x="174.0" y="497.1" width="0.8" height="0.8" fill="#000" opacity="0.59"/><rect x="178.9" y="500.0" width="0.8" height="0.8" fill="#000" opacity="0.66"/><rect x="175.6" y="498.6" width="0.8" height="0.8" fill="#000" opacity="0.34"/><rect x="178.4" y="499.0" width="0.8" height="0.8" fill="#000" opacity="0.74"/><rect x="168.1" y="495.2" width="0.8" height="0.8" fill="#000" opacity="0.43"/><rect x="184.6" y="496.5" width="0.8" height="0.8" fill="#000" opacity="0.49"/><rect x="175.4" y="498.7" width="0.8" height="0.8" fill="#000" opacity="0.61"/><rect x="178.3" y="497.7" width="0.8" height="0.8" fill="#000" opacity="0.60"/><rect x="172.3" y="484.3" width="0.8" height="0.8" fill="#000" opacity="0.38"/><rect x="182.2" y="485.1" width="0.8" height="0.8" fill="#000" opacity="0.57"/><rect x="182.4" y="486.5" width="0.8" height="0.8" fill="#000" opacity="0.55"/><rect x="169.2" y="494.9" width="0.8" height="0.8" fill="#000" opacity="0.41"/><rect x="177.4" y="498.1" width="0.8" height="0.8" fill="#000" opacity="0.58"/><rect x="174.0" y="499.8" width="0.8" height="0.8" fill="#000" opacity="0.74"/><rect x="175.8" y="483.5" width="0.8" height="0.8" fill="#000" opacity="0.71"/><rect x="168.7" y="487.1" width="0.8" height="0.8" fill="#000" opacity="0.78"/><rect x="183.7" y="497.1" width="0.8" height="0.8" fill="#000" opacity="0.75"/><rect x="170.5" y="495.2" width="0.8" height="0.8" fill="#000" opacity="0.32"/><rect x="182.9" y="486.8" width="0.8" height="0.8" fill="#000" opacity="0.30"/><rect x="184.2" y="495.3" width="0.8" height="0.8" fill="#000" opacity="0.64"/><rect x="184.4" y="486.3" width="0.8" height="0.8" fill="#000" opacity="0.35"/><rect x="185.7" y="487.2" width="0.8" height="0.8" fill="#000" opacity="0.70"/><rect x="184.7" y="485.8" width="0.8" height="0.8" fill="#000" opacity="0.64"/><rect x="177.7" y="484.6" width="0.8" height="0.8" fill="#000" opacity="0.79"/><rect x="185.2" y="491.3" width="0.8" height="0.8" fill="#000" opacity="0.58"/><rect x="169.1" y="490.6" width="0.8" height="0.8" fill="#000" opacity="0.55"/><rect x="173.4" y="498.8" width="0.8" height="0.8" fill="#000" opacity="0.32"/><rect x="172.0" y="498.0" width="0.8" height="0.8" fill="#000" opacity="0.53"/><rect x="185.2" y="492.0" width="0.8" height="0.8" fill="#000" opacity="0.76"/><rect x="168.0" y="489.8" width="0.8" height="0.8" fill="#000" opacity="0.49"/><rect x="185.4" y="490.1" width="0.8" height="0.8" fill="#000" opacity="0.71"/><rect x="170.4" y="484.7" width="0.8" height="0.8" fill="#000" opacity="0.50"/><rect x="186.0" y="487.0" width="0.8" height="0.8" fill="#000" opacity="0.75"/><rect x="183.7" y="486.9" width="0.8" height="0.8" fill="#000" opacity="0.47"/><rect x="184.4" y="485.5" width="0.8" height="0.8" fill="#000" opacity="0.60"/><rect x="170.6" y="488.7" width="0.8" height="0.8" fill="#000" opacity="0.58"/><rect x="184.9" y="493.9" width="0.8" height="0.8" fill="#000" opacity="0.41"/><rect x="171.3" y="486.7" width="0.8" height="0.8" fill="#000" opacity="0.46"/><rect x="178.1" y="482.9" width="0.8" height="0.8" fill="#000" opacity="0.37"/><rect x="183.8" y="490.4" width="0.8" height="0.8" fill="#000" opacity="0.51"/><rect x="175.0" y="483.1" width="0.8" height="0.8" fill="#000" opacity="0.63"/><rect x="182.8" y="487.2" width="0.8" height="0.8" fill="#000" opacity="0.55"/><rect x="176.9" y="499.3" width="0.8" height="0.8" fill="#000" opacity="0.53"/><rect x="170.6" y="484.6" width="0.8" height="0.8" fill="#000" opacity="0.55"/><rect x="169.4" y="494.8" width="0.8" height="0.8" fill="#000" opacity="0.38"/><rect x="183.9" y="487.1" width="0.8" height="0.8" fill="#000" opacity="0.55"/><rect x="182.1" y="483.5" width="0.8" height="0.8" fill="#000" opacity="0.80"/><rect x="174.8" y="483.3" width="0.8" height="0.8" fill="#000" opacity="0.51"/><rect x="178.5" y="482.9" width="0.8" height="0.8" fill="#000" opacity="0.31"/><rect x="168.8" y="487.8" width="0.8" height="0.8" fill="#000" opacity="0.48"/><rect x="181.4" y="483.5" width="0.8" height="0.8" fill="#000" opacity="0.74"/><rect x="174.7" y="499.2" width="0.8" height="0.8" fill="#000" opacity="0.58"/><rect x="172.8" y="497.2" width="0.8" height="0.8" fill="#000" opacity="0.34"/><rect x="181.0" y="484.8" width="0.8" height="0.8" fill="#000" opacity="0.47"/><rect x="176.8" y="499.1" width="0.8" height="0.8" fill="#000" opacity="0.55"/><rect x="181.7" y="486.1" width="0.8" height="0.8" fill="#000" opacity="0.47"/><rect x="181.8" y="483.5" width="0.8" height="0.8" fill="#000" opacity="0.33"/><rect x="167.6" y="494.2" width="0.8" height="0.8" fill="#000" opacity="0.79"/><rect x="173.2" y="498.9" width="0.8" height="0.8" fill="#000" opacity="0.47"/><rect x="185.9" y="494.7" width="0.8" height="0.8" fill="#000" opacity="0.36"/><rect x="185.2" y="490.7" width="0.8" height="0.8" fill="#000" opacity="0.73"/><rect x="167.4" y="492.4" width="0.8" height="0.8" fill="#000" opacity="0.67"/><rect x="180.2" y="496.8" width="0.8" height="0.8" fill="#000" opacity="0.39"/><rect x="171.4" y="486.9" width="0.8" height="0.8" fill="#000" opacity="0.34"/><rect x="171.9" y="495.5" width="0.8" height="0.8" fill="#000" opacity="0.45"/><rect x="171.9" y="485.9" width="0.8" height="0.8" fill="#000" opacity="0.70"/><rect x="176.5" y="498.6" width="0.8" height="0.8" fill="#000" opacity="0.50"/><rect x="181.1" y="485.7" width="0.8" height="0.8" fill="#000" opacity="0.71"/><rect x="185.2" y="496.3" width="0.8" height="0.8" fill="#000" opacity="0.58"/><rect x="177.0" y="483.1" width="0.8" height="0.8" fill="#000" opacity="0.64"/><rect x="174.2" y="484.7" width="0.8" height="0.8" fill="#000" opacity="0.40"/><rect x="183.3" y="487.2" width="0.8" height="0.8" fill="#000" opacity="0.42"/><rect x="185.6" y="493.8" width="0.8" height="0.8" fill="#000" opacity="0.69"/><rect x="186.3" y="493.1" width="0.8" height="0.8" fill="#000" opacity="0.36"/><rect x="168.6" y="491.3" width="0.8" height="0.8" fill="#000" opacity="0.43"/><rect x="173.3" y="498.1" width="0.8" height="0.8" fill="#000" opacity="0.69"/><rect x="176.8" y="498.2" width="0.8" height="0.8" fill="#000" opacity="0.79"/><rect x="176.3" y="497.7" width="0.8" height="0.8" fill="#000" opacity="0.77"/><rect x="183.7" y="487.9" width="0.8" height="0.8" fill="#000" opacity="0.56"/><rect x="182.5" y="485.8" width="0.8" height="0.8" fill="#000" opacity="0.47"/><rect x="184.2" y="491.2" width="0.8" height="0.8" fill="#000" opacity="0.60"/><rect x="167.4" y="491.2" width="0.8" height="0.8" fill="#000" opacity="0.52"/><rect x="175.9" y="498.6" width="0.8" height="0.8" fill="#000" opacity="0.37"/><rect x="168.1" y="492.1" width="0.8" height="0.8" fill="#000" opacity="0.39"/><rect x="168.4" y="486.3" width="0.8" height="0.8" fill="#000" opacity="0.65"/><rect x="173.3" y="498.7" width="0.8" height="0.8" fill="#000" opacity="0.35"/><rect x="184.3" y="496.7" width="0.8" height="0.8" fill="#000" opacity="0.65"/><rect x="170.9" y="485.3" width="0.8" height="0.8" fill="#000" opacity="0.48"/><rect x="181.4" y="484.2" width="0.8" height="0.8" fill="#000" opacity="0.71"/><rect x="176.2" y="483.7" width="0.8" height="0.8" fill="#000" opacity="0.71"/><rect x="171.9" y="497.8" width="0.8" height="0.8" fill="#000" opacity="0.72"/><rect x="185.4" y="488.6" width="0.8" height="0.8" fill="#000" opacity="0.40"/><rect x="182.0" y="498.6" width="0.8" height="0.8" fill="#000" opacity="0.45"/><rect x="182.3" y="497.5" width="0.8" height="0.8" fill="#000" opacity="0.51"/><rect x="176.5" y="484.1" width="0.8" height="0.8" fill="#000" opacity="0.56"/><rect x="184.1" y="489.2" width="0.8" height="0.8" fill="#000" opacity="0.49"/><rect x="171.3" y="495.3" width="0.8" height="0.8" fill="#000" opacity="0.37"/><rect x="173.6" y="498.5" width="0.8" height="0.8" fill="#000" opacity="0.37"/><rect x="171.7" y="485.4" width="0.8" height="0.8" fill="#000" opacity="0.45"/><rect x="182.4" y="484.1" width="0.8" height="0.8" fill="#000" opacity="0.52"/><rect x="176.5" y="499.0" width="0.8" height="0.8" fill="#000" opacity="0.62"/><rect x="177.6" y="482.7" width="0.8" height="0.8" fill="#000" opacity="0.30"/><rect x="182.4" y="499.0" width="0.8" height="0.8" fill="#000" opacity="0.57"/><rect x="169.9" y="490.5" width="0.8" height="0.8" fill="#000" opacity="0.69"/><rect x="180.6" y="484.5" width="0.8" height="0.8" fill="#000" opacity="0.44"/><rect x="184.0" y="494.3" width="0.8" height="0.8" fill="#000" opacity="0.56"/><rect x="170.6" y="493.2" width="0.8" height="0.8" fill="#000" opacity="0.35"/><rect x="177.8" y="499.9" width="0.8" height="0.8" fill="#000" opacity="0.78"/><rect x="182.4" y="485.0" width="0.8" height="0.8" fill="#000" opacity="0.48"/><rect x="184.3" y="485.7" width="0.8" height="0.8" fill="#000" opacity="0.62"/><rect x="174.0" y="482.2" width="0.8" height="0.8" fill="#000" opacity="0.56"/><rect x="176.7" y="499.7" width="0.8" height="0.8" fill="#000" opacity="0.77"/><rect x="178.2" y="498.5" width="0.8" height="0.8" fill="#000" opacity="0.68"/><rect x="179.2" y="484.8" width="0.8" height="0.8" fill="#000" opacity="0.70"/><rect x="177.3" y="497.8" width="0.8" height="0.8" fill="#000" opacity="0.32"/><rect x="169.0" y="492.9" width="0.8" height="0.8" fill="#000" opacity="0.39"/><rect x="175.3" y="484.3" width="0.8" height="0.8" fill="#000" opacity="0.76"/><rect x="184.9" y="491.0" width="0.8" height="0.8" fill="#000" opacity="0.31"/><rect x="184.7" y="494.5" width="0.8" height="0.8" fill="#000" opacity="0.48"/><rect x="178.5" y="483.5" width="0.8" height="0.8" fill="#000" opacity="0.43"/><rect x="182.3" y="499.0" width="0.8" height="0.8" fill="#000" opacity="0.68"/><rect x="173.8" y="484.6" width="0.8" height="0.8" fill="#000" opacity="0.52"/><rect x="177.3" y="482.7" width="0.8" height="0.8" fill="#000" opacity="0.44"/><rect x="171.5" y="498.2" width="0.8" height="0.8" fill="#000" opacity="0.33"/><rect x="171.5" y="484.2" width="0.8" height="0.8" fill="#000" opacity="0.56"/><rect x="167.8" y="488.0" width="0.8" height="0.8" fill="#000" opacity="0.46"/><rect x="177.1" y="482.5" width="0.8" height="0.8" fill="#000" opacity="0.67"/><rect x="185.2" y="494.5" width="0.8" height="0.8" fill="#000" opacity="0.49"/><rect x="183.7" y="497.7" width="0.8" height="0.8" fill="#000" opacity="0.43"/><rect x="169.4" y="492.6" width="0.8" height="0.8" fill="#000" opacity="0.36"/><rect x="174.8" y="499.0" width="0.8" height="0.8" fill="#000" opacity="0.62"/><rect x="176.9" y="484.2" width="0.8" height="0.8" fill="#000" opacity="0.44"/><rect x="181.1" y="484.1" width="0.8" height="0.8" fill="#000" opacity="0.67"/><rect x="169.1" y="492.9" width="0.8" height="0.8" fill="#000" opacity="0.32"/><rect x="182.3" y="483.4" width="0.8" height="0.8" fill="#000" opacity="0.66"/><rect x="178.9" y="499.2" width="0.8" height="0.8" fill="#000" opacity="0.64"/><rect x="175.4" y="498.5" width="0.8" height="0.8" fill="#000" opacity="0.74"/><rect x="176.3" y="499.3" width="0.8" height="0.8" fill="#000" opacity="0.32"/><rect x="183.9" y="492.0" width="0.8" height="0.8" fill="#000" opacity="0.45"/><rect x="184.8" y="487.5" width="0.8" height="0.8" fill="#000" opacity="0.54"/><rect x="182.2" y="497.5" width="0.8" height="0.8" fill="#000" opacity="0.36"/><rect x="184.2" y="494.1" width="0.8" height="0.8" fill="#000" opacity="0.43"/><rect x="178.7" y="483.1" width="0.8" height="0.8" fill="#000" opacity="0.62"/><rect x="175.6" y="498.5" width="0.8" height="0.8" fill="#000" opacity="0.36"/><rect x="174.7" y="500.2" width="0.8" height="0.8" fill="#000" opacity="0.63"/><rect x="172.4" y="498.2" width="0.8" height="0.8" fill="#000" opacity="0.76"/><rect x="180.2" y="483.6" width="0.8" height="0.8" fill="#000" opacity="0.38"/><rect x="183.7" y="493.2" width="0.8" height="0.8" fill="#000" opacity="0.71"/><rect x="178.8" y="482.7" width="0.8" height="0.8" fill="#000" opacity="0.66"/><rect x="182.5" y="497.3" width="0.8" height="0.8" fill="#000" opacity="0.30"/><rect x="185.6" y="492.7" width="0.8" height="0.8" fill="#000" opacity="0.30"/><rect x="170.2" y="494.9" width="0.8" height="0.8" fill="#000" opacity="0.73"/><rect x="172.6" y="496.7" width="0.8" height="0.8" fill="#000" opacity="0.64"/><rect x="182.6" y="498.8" width="0.8" height="0.8" fill="#000" opacity="0.76"/><rect x="185.8" y="490.6" width="0.8" height="0.8" fill="#000" opacity="0.39"/><rect x="179.8" y="499.2" width="0.8" height="0.8" fill="#000" opacity="0.52"/><rect x="174.9" y="484.3" width="0.8" height="0.8" fill="#000" opacity="0.58"/><rect x="181.7" y="485.3" width="0.8" height="0.8" fill="#000" opacity="0.72"/><rect x="182.5" y="497.7" width="0.8" height="0.8" fill="#000" opacity="0.32"/><rect x="177.3" y="497.7" width="0.8" height="0.8" fill="#000" opacity="0.40"/><rect x="167.8" y="489.4" width="0.8" height="0.8" fill="#000" opacity="0.71"/><rect x="183.5" y="487.4" width="0.8" height="0.8" fill="#000" opacity="0.77"/><rect x="169.0" y="494.8" width="0.8" height="0.8" fill="#000" opacity="0.66"/><rect x="175.9" y="498.2" width="0.8" height="0.8" fill="#000" opacity="0.52"/><rect x="172.0" y="498.3" width="0.8" height="0.8" fill="#000" opacity="0.73"/><rect x="173.3" y="485.5" width="0.8" height="0.8" fill="#000" opacity="0.70"/><rect x="178.1" y="481.7" width="0.8" height="0.8" fill="#000" opacity="0.39"/><rect x="184.4" y="487.9" width="0.8" height="0.8" fill="#000" opacity="0.58"/><rect x="179.2" y="497.9" width="0.8" height="0.8" fill="#000" opacity="0.51"/><rect x="170.0" y="488.3" width="0.8" height="0.8" fill="#000" opacity="0.58"/><rect x="170.3" y="494.2" width="0.8" height="0.8" fill="#000" opacity="0.62"/><rect x="174.1" y="497.0" width="0.8" height="0.8" fill="#000" opacity="0.42"/><rect x="169.3" y="495.0" width="0.8" height="0.8" fill="#000" opacity="0.33"/><rect x="182.4" y="486.8" width="0.8" height="0.8" fill="#000" opacity="0.77"/></g><path d="M171.5,484.5 C173.0,483.4 176.1,483.2 178.0,483.5 C179.9,483.8 181.8,484.9 183.0,486.5 C184.2,488.1 185.0,491.1 185.0,493.0 C185.0,494.9 184.5,497.1 183.0,498.0 C181.5,498.9 178.2,498.6 176.0,498.6 C173.8,498.6 171.2,499.4 170.0,498.0 C168.8,496.6 168.8,492.2 169.0,490.0 C169.2,487.8 170.0,485.6 171.5,484.5 Z" fill="#000" fill-opacity="0.9" filter="url(#bl)"/><g><rect x="171.0" y="488.7" width="0.9" height="0.9" fill="#fff" opacity="0.13"/><rect x="179.2" y="486.1" width="0.9" height="0.9" fill="#fff" opacity="0.10"/><rect x="181.1" y="496.1" width="0.9" height="0.9" fill="#fff" opacity="0.06"/><rect x="171.9" y="489.1" width="0.9" height="0.9" fill="#fff" opacity="0.14"/><rect x="179.3" y="496.4" width="0.9" height="0.9" fill="#fff" opacity="0.21"/><rect x="174.9" y="487.7" width="0.9" height="0.9" fill="#fff" opacity="0.07"/><rect x="171.5" y="495.4" width="0.9" height="0.9" fill="#fff" opacity="0.27"/><rect x="175.3" y="487.7" width="0.9" height="0.9" fill="#fff" opacity="0.27"/><rect x="173.5" y="489.9" width="0.9" height="0.9" fill="#fff" opacity="0.27"/><rect x="170.9" y="489.3" width="0.9" height="0.9" fill="#fff" opacity="0.10"/><rect x="176.3" y="496.3" width="0.9" height="0.9" fill="#fff" opacity="0.29"/><rect x="180.2" y="495.2" width="0.9" height="0.9" fill="#fff" opacity="0.14"/><rect x="180.1" y="493.8" width="0.9" height="0.9" fill="#fff" opacity="0.28"/><rect x="175.3" y="495.3" width="0.9" height="0.9" fill="#fff" opacity="0.10"/><rect x="178.1" y="496.5" width="0.9" height="0.9" fill="#fff" opacity="0.24"/><rect x="180.3" y="487.2" width="0.9" height="0.9" fill="#fff" opacity="0.14"/><rect x="177.8" y="494.7" width="0.9" height="0.9" fill="#fff" opacity="0.11"/><rect x="177.5" y="494.0" width="0.9" height="0.9" fill="#fff" opacity="0.22"/><rect x="173.9" y="486.2" width="0.9" height="0.9" fill="#fff" opacity="0.14"/><rect x="173.1" y="491.8" width="0.9" height="0.9" fill="#fff" opacity="0.18"/><rect x="171.2" y="496.3" width="0.9" height="0.9" fill="#fff" opacity="0.28"/><rect x="173.1" y="488.3" width="0.9" height="0.9" fill="#fff" opacity="0.29"/><rect x="171.0" y="486.9" width="0.9" height="0.9" fill="#fff" opacity="0.14"/><rect x="181.4" y="485.7" width="0.9" height="0.9" fill="#fff" opacity="0.18"/><rect x="180.3" y="492.6" width="0.9" height="0.9" fill="#fff" opacity="0.16"/><rect x="178.9" y="493.6" width="0.9" height="0.9" fill="#fff" opacity="0.17"/><rect x="174.0" y="492.6" width="0.9" height="0.9" fill="#fff" opacity="0.25"/><rect x="171.8" y="492.8" width="0.9" height="0.9" fill="#fff" opacity="0.15"/><rect x="172.7" y="489.0" width="0.9" height="0.9" fill="#fff" opacity="0.07"/><rect x="181.1" y="491.8" width="0.9" height="0.9" fill="#fff" opacity="0.16"/><rect x="181.7" y="495.0" width="0.9" height="0.9" fill="#fff" opacity="0.15"/><rect x="171.0" y="492.1" width="0.9" height="0.9" fill="#fff" opacity="0.11"/><rect x="178.4" y="486.2" width="0.9" height="0.9" fill="#fff" opacity="0.25"/><rect x="181.5" y="487.2" width="0.9" height="0.9" fill="#fff" opacity="0.25"/><rect x="171.8" y="486.7" width="0.9" height="0.9" fill="#fff" opacity="0.19"/><rect x="173.7" y="489.8" width="0.9" height="0.9" fill="#fff" opacity="0.14"/><rect x="180.3" y="494.4" width="0.9" height="0.9" fill="#fff" opacity="0.27"/><rect x="173.7" y="488.2" width="0.9" height="0.9" fill="#fff" opacity="0.26"/><rect x="175.7" y="486.4" width="0.9" height="0.9" fill="#fff" opacity="0.18"/><rect x="173.7" y="492.7" width="0.9" height="0.9" fill="#fff" opacity="0.15"/><rect x="172.7" y="494.1" width="0.9" height="0.9" fill="#fff" opacity="0.27"/><rect x="172.6" y="487.6" width="0.9" height="0.9" fill="#fff" opacity="0.17"/><rect x="172.7" y="496.6" width="0.9" height="0.9" fill="#fff" opacity="0.16"/><rect x="171.5" y="487.4" width="0.9" height="0.9" fill="#fff" opacity="0.10"/><rect x="173.8" y="492.4" width="0.9" height="0.9" fill="#fff" opacity="0.27"/><rect x="175.7" y="491.7" width="0.9" height="0.9" fill="#fff" opacity="0.29"/><rect x="176.9" y="489.6" width="0.9" height="0.9" fill="#fff" opacity="0.27"/><rect x="179.3" y="490.0" width="0.9" height="0.9" fill="#fff" opacity="0.25"/><rect x="173.8" y="486.2" width="0.9" height="0.9" fill="#fff" opacity="0.11"/><rect x="174.9" y="495.3" width="0.9" height="0.9" fill="#fff" opacity="0.11"/><rect x="171.5" y="486.3" width="0.9" height="0.9" fill="#fff" opacity="0.25"/><rect x="177.0" y="496.5" width="0.9" height="0.9" fill="#fff" opacity="0.13"/><rect x="172.4" y="487.2" width="0.9" height="0.9" fill="#fff" opacity="0.24"/><rect x="177.0" y="495.2" width="0.9" height="0.9" fill="#fff" opacity="0.29"/><rect x="176.8" y="486.1" width="0.9" height="0.9" fill="#fff" opacity="0.26"/><rect x="181.9" y="491.9" width="0.9" height="0.9" fill="#fff" opacity="0.18"/><rect x="180.6" y="489.3" width="0.9" height="0.9" fill="#fff" opacity="0.06"/><rect x="182.8" y="490.7" width="0.9" height="0.9" fill="#fff" opacity="0.13"/><rect x="181.9" y="496.0" width="0.9" height="0.9" fill="#fff" opacity="0.16"/><rect x="180.1" y="497.1" width="0.9" height="0.9" fill="#fff" opacity="0.18"/><rect x="177.1" y="496.4" width="0.9" height="0.9" fill="#fff" opacity="0.08"/><rect x="179.6" y="487.5" width="0.9" height="0.9" fill="#fff" opacity="0.13"/><rect x="180.6" y="485.9" width="0.9" height="0.9" fill="#fff" opacity="0.28"/><rect x="179.8" y="496.2" width="0.9" height="0.9" fill="#fff" opacity="0.26"/><rect x="178.2" y="489.9" width="0.9" height="0.9" fill="#fff" opacity="0.07"/><rect x="182.3" y="494.4" width="0.9" height="0.9" fill="#fff" opacity="0.13"/><rect x="174.3" y="496.7" width="0.9" height="0.9" fill="#fff" opacity="0.13"/><rect x="172.8" y="487.8" width="0.9" height="0.9" fill="#fff" opacity="0.23"/><rect x="181.0" y="488.2" width="0.9" height="0.9" fill="#fff" opacity="0.22"/><rect x="178.3" y="493.1" width="0.9" height="0.9" fill="#fff" opacity="0.09"/><rect x="180.6" y="486.3" width="0.9" height="0.9" fill="#fff" opacity="0.08"/><rect x="178.3" y="495.9" width="0.9" height="0.9" fill="#fff" opacity="0.22"/><rect x="181.5" y="495.3" width="0.9" height="0.9" fill="#fff" opacity="0.22"/><rect x="182.4" y="496.7" width="0.9" height="0.9" fill="#fff" opacity="0.26"/><rect x="172.5" y="488.5" width="0.9" height="0.9" fill="#fff" opacity="0.16"/><rect x="177.6" y="490.6" width="0.9" height="0.9" fill="#fff" opacity="0.27"/><rect x="178.8" y="496.2" width="0.9" height="0.9" fill="#fff" opacity="0.30"/><rect x="171.2" y="488.5" width="0.9" height="0.9" fill="#fff" opacity="0.30"/><rect x="171.9" y="489.6" width="0.9" height="0.9" fill="#fff" opacity="0.09"/><rect x="179.1" y="490.5" width="0.9" height="0.9" fill="#fff" opacity="0.27"/><rect x="183.0" y="495.7" width="0.9" height="0.9" fill="#fff" opacity="0.13"/><rect x="178.8" y="497.0" width="0.9" height="0.9" fill="#fff" opacity="0.16"/><rect x="176.2" y="497.0" width="0.9" height="0.9" fill="#fff" opacity="0.19"/><rect x="170.7" y="491.8" width="0.9" height="0.9" fill="#fff" opacity="0.08"/><rect x="171.1" y="495.6" width="0.9" height="0.9" fill="#fff" opacity="0.24"/><rect x="175.7" y="496.3" width="0.9" height="0.9" fill="#fff" opacity="0.10"/><rect x="171.2" y="485.7" width="0.9" height="0.9" fill="#fff" opacity="0.17"/><rect x="173.9" y="493.0" width="0.9" height="0.9" fill="#fff" opacity="0.29"/><rect x="176.7" y="495.1" width="0.9" height="0.9" fill="#fff" opacity="0.08"/><rect x="179.8" y="487.5" width="0.9" height="0.9" fill="#fff" opacity="0.26"/></g><text x="194.6" y="479.2" font-size="10" text-anchor="middle" font-weight="normal" fill="#111" stroke="#111" stroke-width="0.25">6.6</text><text x="229.3" y="452.2" font-size="3.4" text-anchor="end" fill="#777" font-weight="bold">1000</text><text x="229.3" y="462.12" font-size="3.4" text-anchor="end" fill="#777" font-weight="bold">800</text><text x="229.3" y="472.04" font-size="3.4" text-anchor="end" fill="#777" font-weight="bold">600</text><text x="229.3" y="481.96" font-size="3.4" text-anchor="end" fill="#777" font-weight="bold">400</text><text x="229.3" y="491.88" font-size="3.4" text-anchor="end" fill="#777" font-weight="bold">200</text><text x="229.3" y="501.8" font-size="3.4" text-anchor="end" fill="#777" font-weight="bold">0</text><text x="221.8" y="472.5" font-size="2.8" text-anchor="middle" fill="#aaa" transform="rotate(-90 221.8 472.5)">SSC-A :: SSC</text><text x="233.3" y="505.3" font-size="4" text-anchor="end" fill="#777" transform="rotate(-55 232.3 503.8)">10<tspan font-size="2.6" dy="-1.2">0</tspan></text><text x="245.9" y="505.3" font-size="4" text-anchor="end" fill="#777" transform="rotate(-55 244.9 503.8)">10<tspan font-size="2.6" dy="-1.2">1</tspan></text><text x="258.5" y="505.3" font-size="4" text-anchor="end" fill="#777" transform="rotate(-55 257.5 503.8)">10<tspan font-size="2.6" dy="-1.2">2</tspan></text><text x="271.1" y="505.3" font-size="4" text-anchor="end" fill="#777" transform="rotate(-55 270.1 503.8)">10<tspan font-size="2.6" dy="-1.2">3</tspan></text><rect x="231.3" y="450.2" width="51.19999999999999" height="50.60000000000002" fill="none" stroke="#aaa" stroke-width="0.9"/><rect x="247.7" y="480.4" width="25.600000000000023" height="19.80000000000001" fill="none" stroke="#999" stroke-width="1.1"/><defs><radialGradient id="dg13"><stop offset="0" stop-color="#000" stop-opacity="0.3"/><stop offset="1" stop-color="#000" stop-opacity="0"/></radialGradient></defs><ellipse cx="253.2" cy="491.9" rx="10.2" ry="8.960000000000008" fill="url(#dg13)"/><g><rect x="248.6" y="497.2" width="0.7" height="0.7" fill="#000" opacity="0.39"/><rect x="250.4" y="490.1" width="0.7" height="0.7" fill="#000" opacity="0.23"/><rect x="250.8" y="493.9" width="0.7" height="0.7" fill="#000" opacity="0.41"/><rect x="253.4" y="495.1" width="0.7" height="0.7" fill="#000" opacity="0.22"/><rect x="249.9" y="495.5" width="0.7" height="0.7" fill="#000" opacity="0.44"/><rect x="248.8" y="491.5" width="0.7" height="0.7" fill="#000" opacity="0.25"/><rect x="255.8" y="497.6" width="0.7" height="0.7" fill="#000" opacity="0.43"/><rect x="252.1" y="485.7" width="0.7" height="0.7" fill="#000" opacity="0.41"/><rect x="258.8" y="489.9" width="0.7" height="0.7" fill="#000" opacity="0.24"/><rect x="252.3" y="488.6" width="0.7" height="0.7" fill="#000" opacity="0.41"/><rect x="254.2" y="490.4" width="0.7" height="0.7" fill="#000" opacity="0.28"/><rect x="253.0" y="493.2" width="0.7" height="0.7" fill="#000" opacity="0.19"/><rect x="252.9" y="486.2" width="0.7" height="0.7" fill="#000" opacity="0.49"/><rect x="251.0" y="487.7" width="0.7" height="0.7" fill="#000" opacity="0.41"/><rect x="254.4" y="495.9" width="0.7" height="0.7" fill="#000" opacity="0.31"/><rect x="249.9" y="494.0" width="0.7" height="0.7" fill="#000" opacity="0.33"/><rect x="248.1" y="495.8" width="0.7" height="0.7" fill="#000" opacity="0.36"/><rect x="250.7" y="493.0" width="0.7" height="0.7" fill="#000" opacity="0.32"/><rect x="248.4" y="494.5" width="0.7" height="0.7" fill="#000" opacity="0.22"/><rect x="249.7" y="492.9" width="0.7" height="0.7" fill="#000" opacity="0.38"/><rect x="254.1" y="490.9" width="0.7" height="0.7" fill="#000" opacity="0.40"/><rect x="249.7" y="491.5" width="0.7" height="0.7" fill="#000" opacity="0.20"/><rect x="252.2" y="485.6" width="0.7" height="0.7" fill="#000" opacity="0.37"/><rect x="251.6" y="495.0" width="0.7" height="0.7" fill="#000" opacity="0.45"/><rect x="256.7" y="487.7" width="0.7" height="0.7" fill="#000" opacity="0.22"/><rect x="251.8" y="489.2" width="0.7" height="0.7" fill="#000" opacity="0.40"/><rect x="259.1" y="499.0" width="0.7" height="0.7" fill="#000" opacity="0.36"/><rect x="248.8" y="489.5" width="0.7" height="0.7" fill="#000" opacity="0.37"/><rect x="255.5" y="489.6" width="0.7" height="0.7" fill="#000" opacity="0.28"/><rect x="248.8" y="488.7" width="0.7" height="0.7" fill="#000" opacity="0.25"/><rect x="253.0" y="496.5" width="0.7" height="0.7" fill="#000" opacity="0.19"/><rect x="248.4" y="493.2" width="0.7" height="0.7" fill="#000" opacity="0.38"/><rect x="255.5" y="490.4" width="0.7" height="0.7" fill="#000" opacity="0.16"/><rect x="253.4" y="493.1" width="0.7" height="0.7" fill="#000" opacity="0.18"/><rect x="270.5" y="492.1" width="0.7" height="0.7" fill="#000" opacity="0.19"/><rect x="249.6" y="494.5" width="0.7" height="0.7" fill="#000" opacity="0.36"/><rect x="254.4" y="493.8" width="0.7" height="0.7" fill="#000" opacity="0.28"/><rect x="248.3" y="491.6" width="0.7" height="0.7" fill="#000" opacity="0.27"/><rect x="264.9" y="492.1" width="0.7" height="0.7" fill="#000" opacity="0.33"/><rect x="257.4" y="492.7" width="0.7" height="0.7" fill="#000" opacity="0.25"/><rect x="255.4" y="492.7" width="0.7" height="0.7" fill="#000" opacity="0.47"/><rect x="248.4" y="489.2" width="0.7" height="0.7" fill="#000" opacity="0.39"/><rect x="250.9" y="489.7" width="0.7" height="0.7" fill="#000" opacity="0.36"/><rect x="250.9" y="494.0" width="0.7" height="0.7" fill="#000" opacity="0.25"/><rect x="249.7" y="495.0" width="0.7" height="0.7" fill="#000" opacity="0.16"/><rect x="250.2" y="492.8" width="0.7" height="0.7" fill="#000" opacity="0.42"/><rect x="248.5" y="491.7" width="0.7" height="0.7" fill="#000" opacity="0.42"/><rect x="250.7" y="495.7" width="0.7" height="0.7" fill="#000" opacity="0.34"/><rect x="250.6" y="494.4" width="0.7" height="0.7" fill="#000" opacity="0.30"/><rect x="256.3" y="497.2" width="0.7" height="0.7" fill="#000" opacity="0.19"/><rect x="250.0" y="489.7" width="0.7" height="0.7" fill="#000" opacity="0.26"/><rect x="249.3" y="492.5" width="0.7" height="0.7" fill="#000" opacity="0.19"/><rect x="252.4" y="494.8" width="0.7" height="0.7" fill="#000" opacity="0.46"/><rect x="249.9" y="491.8" width="0.7" height="0.7" fill="#000" opacity="0.34"/><rect x="255.9" y="496.5" width="0.7" height="0.7" fill="#000" opacity="0.26"/><rect x="254.3" y="489.1" width="0.7" height="0.7" fill="#000" opacity="0.19"/><rect x="252.8" y="492.0" width="0.7" height="0.7" fill="#000" opacity="0.45"/><rect x="252.3" y="495.1" width="0.7" height="0.7" fill="#000" opacity="0.28"/><rect x="254.5" y="497.1" width="0.7" height="0.7" fill="#000" opacity="0.22"/><rect x="249.9" y="486.8" width="0.7" height="0.7" fill="#000" opacity="0.48"/><rect x="262.3" y="490.9" width="0.7" height="0.7" fill="#000" opacity="0.30"/><rect x="256.0" y="489.7" width="0.7" height="0.7" fill="#000" opacity="0.44"/><rect x="250.5" y="490.9" width="0.7" height="0.7" fill="#000" opacity="0.20"/><rect x="259.4" y="490.5" width="0.7" height="0.7" fill="#000" opacity="0.34"/><rect x="248.8" y="493.3" width="0.7" height="0.7" fill="#000" opacity="0.17"/><rect x="258.1" y="493.0" width="0.7" height="0.7" fill="#000" opacity="0.19"/><rect x="250.7" y="485.0" width="0.7" height="0.7" fill="#000" opacity="0.50"/><rect x="250.4" y="488.5" width="0.7" height="0.7" fill="#000" opacity="0.37"/><rect x="253.1" y="487.1" width="0.7" height="0.7" fill="#000" opacity="0.25"/><rect x="248.2" y="490.2" width="0.7" height="0.7" fill="#000" opacity="0.26"/><rect x="255.2" y="491.8" width="0.7" height="0.7" fill="#000" opacity="0.24"/><rect x="249.5" y="488.1" width="0.7" height="0.7" fill="#000" opacity="0.15"/><rect x="252.9" y="492.4" width="0.7" height="0.7" fill="#000" opacity="0.27"/><rect x="252.5" y="490.9" width="0.7" height="0.7" fill="#000" opacity="0.45"/><rect x="252.0" y="489.0" width="0.7" height="0.7" fill="#000" opacity="0.50"/><rect x="248.5" y="487.9" width="0.7" height="0.7" fill="#000" opacity="0.24"/><rect x="261.4" y="493.7" width="0.7" height="0.7" fill="#000" opacity="0.34"/><rect x="250.1" y="495.1" width="0.7" height="0.7" fill="#000" opacity="0.32"/><rect x="251.0" y="496.2" width="0.7" height="0.7" fill="#000" opacity="0.16"/><rect x="249.7" y="489.9" width="0.7" height="0.7" fill="#000" opacity="0.19"/><rect x="252.7" y="490.3" width="0.7" height="0.7" fill="#000" opacity="0.46"/><rect x="255.8" y="492.0" width="0.7" height="0.7" fill="#000" opacity="0.44"/><rect x="250.4" y="497.6" width="0.7" height="0.7" fill="#000" opacity="0.38"/><rect x="262.6" y="495.8" width="0.7" height="0.7" fill="#000" opacity="0.16"/><rect x="250.3" y="490.4" width="0.7" height="0.7" fill="#000" opacity="0.44"/><rect x="249.2" y="492.9" width="0.7" height="0.7" fill="#000" opacity="0.33"/><rect x="252.4" y="490.7" width="0.7" height="0.7" fill="#000" opacity="0.32"/><rect x="251.7" y="490.2" width="0.7" height="0.7" fill="#000" opacity="0.34"/><rect x="255.0" y="492.1" width="0.7" height="0.7" fill="#000" opacity="0.42"/><rect x="250.4" y="494.0" width="0.7" height="0.7" fill="#000" opacity="0.17"/><rect x="250.1" y="488.4" width="0.7" height="0.7" fill="#000" opacity="0.47"/><rect x="248.2" y="490.3" width="0.7" height="0.7" fill="#000" opacity="0.47"/><rect x="258.7" y="489.2" width="0.7" height="0.7" fill="#000" opacity="0.44"/><rect x="252.3" y="486.8" width="0.7" height="0.7" fill="#000" opacity="0.38"/><rect x="252.2" y="490.4" width="0.7" height="0.7" fill="#000" opacity="0.20"/><rect x="249.3" y="487.2" width="0.7" height="0.7" fill="#000" opacity="0.17"/><rect x="253.5" y="488.1" width="0.7" height="0.7" fill="#000" opacity="0.33"/><rect x="250.0" y="484.8" width="0.7" height="0.7" fill="#000" opacity="0.28"/><rect x="251.0" y="488.1" width="0.7" height="0.7" fill="#000" opacity="0.35"/><rect x="260.8" y="496.1" width="0.7" height="0.7" fill="#000" opacity="0.31"/><rect x="253.6" y="491.0" width="0.7" height="0.7" fill="#000" opacity="0.39"/><rect x="256.3" y="489.1" width="0.7" height="0.7" fill="#000" opacity="0.28"/><rect x="254.4" y="493.8" width="0.7" height="0.7" fill="#000" opacity="0.30"/><rect x="252.4" y="486.2" width="0.7" height="0.7" fill="#000" opacity="0.50"/><rect x="254.2" y="493.1" width="0.7" height="0.7" fill="#000" opacity="0.35"/><rect x="248.0" y="490.5" width="0.7" height="0.7" fill="#000" opacity="0.23"/><rect x="251.5" y="494.4" width="0.7" height="0.7" fill="#000" opacity="0.25"/><rect x="252.3" y="491.4" width="0.7" height="0.7" fill="#000" opacity="0.48"/><rect x="249.2" y="494.2" width="0.7" height="0.7" fill="#000" opacity="0.49"/><rect x="250.7" y="492.8" width="0.7" height="0.7" fill="#000" opacity="0.20"/><rect x="253.8" y="493.3" width="0.7" height="0.7" fill="#000" opacity="0.22"/><rect x="248.6" y="492.4" width="0.7" height="0.7" fill="#000" opacity="0.39"/><rect x="252.4" y="492.7" width="0.7" height="0.7" fill="#000" opacity="0.35"/><rect x="255.0" y="488.4" width="0.7" height="0.7" fill="#000" opacity="0.40"/><rect x="251.5" y="485.9" width="0.7" height="0.7" fill="#000" opacity="0.45"/><rect x="249.2" y="492.9" width="0.7" height="0.7" fill="#000" opacity="0.37"/><rect x="255.7" y="491.4" width="0.7" height="0.7" fill="#000" opacity="0.42"/><rect x="252.6" y="496.8" width="0.7" height="0.7" fill="#000" opacity="0.30"/><rect x="252.2" y="493.1" width="0.7" height="0.7" fill="#000" opacity="0.25"/><rect x="255.2" y="489.8" width="0.7" height="0.7" fill="#000" opacity="0.47"/><rect x="249.9" y="497.4" width="0.7" height="0.7" fill="#000" opacity="0.18"/><rect x="250.2" y="490.2" width="0.7" height="0.7" fill="#000" opacity="0.45"/><rect x="252.8" y="491.3" width="0.7" height="0.7" fill="#000" opacity="0.43"/><rect x="249.0" y="494.9" width="0.7" height="0.7" fill="#000" opacity="0.19"/><rect x="250.8" y="492.5" width="0.7" height="0.7" fill="#000" opacity="0.40"/><rect x="253.9" y="490.2" width="0.7" height="0.7" fill="#000" opacity="0.40"/><rect x="248.6" y="495.0" width="0.7" height="0.7" fill="#000" opacity="0.28"/><rect x="261.4" y="492.0" width="0.7" height="0.7" fill="#000" opacity="0.18"/><rect x="257.2" y="495.6" width="0.7" height="0.7" fill="#000" opacity="0.44"/><rect x="254.3" y="493.1" width="0.7" height="0.7" fill="#000" opacity="0.20"/><rect x="255.8" y="491.9" width="0.7" height="0.7" fill="#000" opacity="0.24"/><rect x="256.1" y="498.1" width="0.7" height="0.7" fill="#000" opacity="0.16"/><rect x="254.9" y="496.4" width="0.7" height="0.7" fill="#000" opacity="0.41"/><rect x="256.2" y="495.5" width="0.7" height="0.7" fill="#000" opacity="0.35"/><rect x="258.5" y="485.8" width="0.7" height="0.7" fill="#000" opacity="0.43"/><rect x="256.9" y="488.4" width="0.7" height="0.7" fill="#000" opacity="0.32"/><rect x="259.2" y="489.8" width="0.7" height="0.7" fill="#000" opacity="0.37"/><rect x="248.9" y="492.4" width="0.7" height="0.7" fill="#000" opacity="0.43"/><rect x="251.6" y="495.0" width="0.7" height="0.7" fill="#000" opacity="0.25"/><rect x="254.1" y="490.7" width="0.7" height="0.7" fill="#000" opacity="0.44"/><rect x="254.8" y="489.4" width="0.7" height="0.7" fill="#000" opacity="0.42"/><rect x="255.4" y="493.5" width="0.7" height="0.7" fill="#000" opacity="0.41"/><rect x="249.8" y="486.2" width="0.7" height="0.7" fill="#000" opacity="0.46"/><rect x="255.6" y="490.3" width="0.7" height="0.7" fill="#000" opacity="0.22"/><rect x="248.4" y="495.7" width="0.7" height="0.7" fill="#000" opacity="0.32"/><rect x="249.5" y="491.3" width="0.7" height="0.7" fill="#000" opacity="0.27"/><rect x="248.4" y="488.0" width="0.7" height="0.7" fill="#000" opacity="0.45"/><rect x="253.9" y="497.0" width="0.7" height="0.7" fill="#000" opacity="0.30"/><rect x="250.0" y="491.4" width="0.7" height="0.7" fill="#000" opacity="0.29"/><rect x="251.4" y="486.5" width="0.7" height="0.7" fill="#000" opacity="0.35"/><rect x="249.6" y="492.4" width="0.7" height="0.7" fill="#000" opacity="0.39"/><rect x="257.7" y="493.8" width="0.7" height="0.7" fill="#000" opacity="0.36"/><rect x="258.7" y="496.0" width="0.7" height="0.7" fill="#000" opacity="0.20"/><rect x="250.6" y="491.5" width="0.7" height="0.7" fill="#000" opacity="0.49"/><rect x="254.0" y="489.9" width="0.7" height="0.7" fill="#000" opacity="0.48"/><rect x="255.6" y="491.6" width="0.7" height="0.7" fill="#000" opacity="0.17"/><rect x="250.7" y="487.1" width="0.7" height="0.7" fill="#000" opacity="0.23"/><rect x="253.0" y="494.3" width="0.7" height="0.7" fill="#000" opacity="0.48"/><rect x="252.9" y="489.0" width="0.7" height="0.7" fill="#000" opacity="0.16"/><rect x="245.1" y="486.7" width="0.8" height="0.8" fill="#000" opacity="0.67"/><rect x="247.3" y="497.9" width="0.8" height="0.8" fill="#000" opacity="0.66"/><rect x="250.6" y="492.6" width="0.8" height="0.8" fill="#000" opacity="0.45"/><rect x="237.5" y="484.5" width="0.8" height="0.8" fill="#000" opacity="0.63"/><rect x="241.2" y="498.5" width="0.8" height="0.8" fill="#000" opacity="0.36"/><rect x="239.7" y="486.4" width="0.8" height="0.8" fill="#000" opacity="0.56"/><rect x="245.2" y="498.1" width="0.8" height="0.8" fill="#000" opacity="0.33"/><rect x="250.7" y="493.1" width="0.8" height="0.8" fill="#000" opacity="0.66"/><rect x="248.7" y="487.3" width="0.8" height="0.8" fill="#000" opacity="0.80"/><rect x="247.2" y="497.4" width="0.8" height="0.8" fill="#000" opacity="0.62"/><rect x="244.8" y="497.1" width="0.8" height="0.8" fill="#000" opacity="0.42"/><rect x="238.8" y="485.2" width="0.8" height="0.8" fill="#000" opacity="0.34"/><rect x="239.5" y="485.3" width="0.8" height="0.8" fill="#000" opacity="0.38"/><rect x="235.0" y="487.8" width="0.8" height="0.8" fill="#000" opacity="0.45"/><rect x="248.3" y="496.0" width="0.8" height="0.8" fill="#000" opacity="0.42"/><rect x="236.2" y="485.3" width="0.8" height="0.8" fill="#000" opacity="0.43"/><rect x="239.4" y="485.4" width="0.8" height="0.8" fill="#000" opacity="0.41"/><rect x="239.6" y="498.6" width="0.8" height="0.8" fill="#000" opacity="0.70"/><rect x="235.1" y="488.7" width="0.8" height="0.8" fill="#000" opacity="0.69"/><rect x="233.3" y="488.8" width="0.8" height="0.8" fill="#000" opacity="0.42"/><rect x="231.9" y="494.5" width="0.8" height="0.8" fill="#000" opacity="0.44"/><rect x="248.0" y="497.8" width="0.8" height="0.8" fill="#000" opacity="0.52"/><rect x="250.8" y="495.2" width="0.8" height="0.8" fill="#000" opacity="0.35"/><rect x="234.7" y="497.2" width="0.8" height="0.8" fill="#000" opacity="0.63"/><rect x="247.7" y="488.4" width="0.8" height="0.8" fill="#000" opacity="0.58"/><rect x="247.8" y="487.3" width="0.8" height="0.8" fill="#000" opacity="0.66"/><rect x="249.6" y="490.3" width="0.8" height="0.8" fill="#000" opacity="0.67"/><rect x="235.2" y="498.3" width="0.8" height="0.8" fill="#000" opacity="0.68"/><rect x="247.8" y="485.9" width="0.8" height="0.8" fill="#000" opacity="0.60"/><rect x="248.8" y="490.1" width="0.8" height="0.8" fill="#000" opacity="0.59"/><rect x="249.7" y="495.0" width="0.8" height="0.8" fill="#000" opacity="0.64"/><rect x="238.9" y="499.2" width="0.8" height="0.8" fill="#000" opacity="0.51"/><rect x="243.8" y="497.5" width="0.8" height="0.8" fill="#000" opacity="0.59"/><rect x="235.4" y="495.6" width="0.8" height="0.8" fill="#000" opacity="0.45"/><rect x="250.2" y="490.8" width="0.8" height="0.8" fill="#000" opacity="0.64"/><rect x="234.2" y="494.4" width="0.8" height="0.8" fill="#000" opacity="0.61"/><rect x="243.1" y="497.5" width="0.8" height="0.8" fill="#000" opacity="0.61"/><rect x="237.7" y="487.0" width="0.8" height="0.8" fill="#000" opacity="0.77"/><rect x="249.2" y="492.7" width="0.8" height="0.8" fill="#000" opacity="0.46"/><rect x="244.1" y="484.9" width="0.8" height="0.8" fill="#000" opacity="0.67"/><rect x="248.4" y="497.8" width="0.8" height="0.8" fill="#000" opacity="0.33"/><rect x="246.9" y="498.0" width="0.8" height="0.8" fill="#000" opacity="0.68"/><rect x="237.2" y="486.5" width="0.8" height="0.8" fill="#000" opacity="0.73"/><rect x="232.9" y="491.3" width="0.8" height="0.8" fill="#000" opacity="0.35"/><rect x="248.9" y="491.5" width="0.8" height="0.8" fill="#000" opacity="0.41"/><rect x="234.5" y="498.0" width="0.8" height="0.8" fill="#000" opacity="0.72"/><rect x="246.5" y="486.0" width="0.8" height="0.8" fill="#000" opacity="0.31"/><rect x="240.5" y="486.0" width="0.8" height="0.8" fill="#000" opacity="0.77"/><rect x="248.8" y="490.9" width="0.8" height="0.8" fill="#000" opacity="0.67"/><rect x="241.6" y="497.6" width="0.8" height="0.8" fill="#000" opacity="0.74"/><rect x="233.1" y="494.1" width="0.8" height="0.8" fill="#000" opacity="0.58"/><rect x="249.4" y="494.5" width="0.8" height="0.8" fill="#000" opacity="0.62"/><rect x="246.4" y="487.6" width="0.8" height="0.8" fill="#000" opacity="0.75"/><rect x="247.7" y="495.6" width="0.8" height="0.8" fill="#000" opacity="0.47"/><rect x="245.0" y="496.9" width="0.8" height="0.8" fill="#000" opacity="0.63"/><rect x="234.6" y="495.4" width="0.8" height="0.8" fill="#000" opacity="0.56"/><rect x="248.2" y="496.9" width="0.8" height="0.8" fill="#000" opacity="0.78"/><rect x="232.3" y="493.2" width="0.8" height="0.8" fill="#000" opacity="0.50"/><rect x="235.1" y="496.7" width="0.8" height="0.8" fill="#000" opacity="0.39"/><rect x="238.3" y="498.8" width="0.8" height="0.8" fill="#000" opacity="0.54"/><rect x="248.5" y="494.3" width="0.8" height="0.8" fill="#000" opacity="0.72"/><rect x="234.8" y="497.9" width="0.8" height="0.8" fill="#000" opacity="0.61"/><rect x="235.0" y="487.4" width="0.8" height="0.8" fill="#000" opacity="0.59"/><rect x="233.1" y="495.3" width="0.8" height="0.8" fill="#000" opacity="0.77"/><rect x="247.6" y="495.6" width="0.8" height="0.8" fill="#000" opacity="0.75"/><rect x="250.5" y="488.6" width="0.8" height="0.8" fill="#000" opacity="0.73"/><rect x="249.2" y="496.3" width="0.8" height="0.8" fill="#000" opacity="0.36"/><rect x="246.3" y="486.6" width="0.8" height="0.8" fill="#000" opacity="0.54"/><rect x="233.0" y="491.2" width="0.8" height="0.8" fill="#000" opacity="0.58"/><rect x="247.1" y="486.9" width="0.8" height="0.8" fill="#000" opacity="0.52"/><rect x="235.7" y="496.3" width="0.8" height="0.8" fill="#000" opacity="0.44"/><rect x="246.9" y="485.2" width="0.8" height="0.8" fill="#000" opacity="0.49"/><rect x="239.1" y="498.0" width="0.8" height="0.8" fill="#000" opacity="0.73"/><rect x="240.5" y="497.8" width="0.8" height="0.8" fill="#000" opacity="0.46"/><rect x="248.0" y="494.9" width="0.8" height="0.8" fill="#000" opacity="0.42"/><rect x="234.9" y="485.5" width="0.8" height="0.8" fill="#000" opacity="0.43"/><rect x="238.6" y="498.6" width="0.8" height="0.8" fill="#000" opacity="0.31"/><rect x="249.2" y="495.6" width="0.8" height="0.8" fill="#000" opacity="0.53"/><rect x="235.8" y="497.1" width="0.8" height="0.8" fill="#000" opacity="0.31"/><rect x="240.6" y="497.8" width="0.8" height="0.8" fill="#000" opacity="0.42"/><rect x="250.6" y="495.1" width="0.8" height="0.8" fill="#000" opacity="0.31"/><rect x="234.2" y="494.9" width="0.8" height="0.8" fill="#000" opacity="0.40"/><rect x="241.8" y="484.0" width="0.8" height="0.8" fill="#000" opacity="0.78"/><rect x="236.5" y="497.9" width="0.8" height="0.8" fill="#000" opacity="0.52"/><rect x="249.1" y="495.0" width="0.8" height="0.8" fill="#000" opacity="0.61"/><rect x="232.9" y="496.3" width="0.8" height="0.8" fill="#000" opacity="0.52"/><rect x="238.2" y="499.3" width="0.8" height="0.8" fill="#000" opacity="0.59"/><rect x="240.8" y="499.7" width="0.8" height="0.8" fill="#000" opacity="0.54"/><rect x="233.8" y="487.9" width="0.8" height="0.8" fill="#000" opacity="0.73"/><rect x="240.1" y="485.4" width="0.8" height="0.8" fill="#000" opacity="0.48"/><rect x="242.6" y="484.4" width="0.8" height="0.8" fill="#000" opacity="0.60"/><rect x="247.7" y="487.0" width="0.8" height="0.8" fill="#000" opacity="0.51"/><rect x="237.7" y="497.5" width="0.8" height="0.8" fill="#000" opacity="0.38"/><rect x="249.5" y="488.7" width="0.8" height="0.8" fill="#000" opacity="0.34"/><rect x="243.5" y="498.2" width="0.8" height="0.8" fill="#000" opacity="0.70"/><rect x="247.5" y="486.1" width="0.8" height="0.8" fill="#000" opacity="0.45"/><rect x="233.7" y="496.5" width="0.8" height="0.8" fill="#000" opacity="0.33"/><rect x="231.9" y="492.7" width="0.8" height="0.8" fill="#000" opacity="0.75"/><rect x="251.0" y="490.1" width="0.8" height="0.8" fill="#000" opacity="0.47"/><rect x="248.6" y="486.3" width="0.8" height="0.8" fill="#000" opacity="0.34"/><rect x="232.7" y="495.0" width="0.8" height="0.8" fill="#000" opacity="0.45"/><rect x="241.8" y="499.3" width="0.8" height="0.8" fill="#000" opacity="0.40"/><rect x="234.0" y="490.1" width="0.8" height="0.8" fill="#000" opacity="0.53"/><rect x="248.5" y="490.7" width="0.8" height="0.8" fill="#000" opacity="0.35"/><rect x="249.9" y="487.4" width="0.8" height="0.8" fill="#000" opacity="0.55"/><rect x="238.8" y="497.9" width="0.8" height="0.8" fill="#000" opacity="0.67"/><rect x="233.2" y="488.7" width="0.8" height="0.8" fill="#000" opacity="0.65"/><rect x="248.4" y="495.7" width="0.8" height="0.8" fill="#000" opacity="0.74"/><rect x="249.0" y="488.4" width="0.8" height="0.8" fill="#000" opacity="0.69"/><rect x="248.2" y="487.4" width="0.8" height="0.8" fill="#000" opacity="0.37"/><rect x="249.0" y="496.3" width="0.8" height="0.8" fill="#000" opacity="0.47"/><rect x="233.6" y="491.0" width="0.8" height="0.8" fill="#000" opacity="0.77"/><rect x="239.5" y="498.9" width="0.8" height="0.8" fill="#000" opacity="0.61"/><rect x="236.0" y="496.6" width="0.8" height="0.8" fill="#000" opacity="0.58"/><rect x="237.5" y="496.9" width="0.8" height="0.8" fill="#000" opacity="0.39"/><rect x="251.5" y="493.8" width="0.8" height="0.8" fill="#000" opacity="0.40"/><rect x="249.6" y="488.5" width="0.8" height="0.8" fill="#000" opacity="0.78"/><rect x="232.9" y="493.1" width="0.8" height="0.8" fill="#000" opacity="0.34"/><rect x="233.9" y="486.9" width="0.8" height="0.8" fill="#000" opacity="0.64"/><rect x="247.8" y="488.8" width="0.8" height="0.8" fill="#000" opacity="0.62"/><rect x="238.0" y="484.4" width="0.8" height="0.8" fill="#000" opacity="0.43"/><rect x="248.1" y="489.6" width="0.8" height="0.8" fill="#000" opacity="0.59"/><rect x="236.7" y="497.9" width="0.8" height="0.8" fill="#000" opacity="0.39"/><rect x="234.6" y="496.1" width="0.8" height="0.8" fill="#000" opacity="0.53"/><rect x="234.3" y="495.3" width="0.8" height="0.8" fill="#000" opacity="0.38"/><rect x="245.8" y="487.2" width="0.8" height="0.8" fill="#000" opacity="0.62"/><rect x="246.4" y="496.9" width="0.8" height="0.8" fill="#000" opacity="0.80"/><rect x="237.0" y="496.7" width="0.8" height="0.8" fill="#000" opacity="0.58"/><rect x="233.2" y="488.4" width="0.8" height="0.8" fill="#000" opacity="0.77"/><rect x="232.4" y="491.4" width="0.8" height="0.8" fill="#000" opacity="0.40"/><rect x="232.3" y="488.3" width="0.8" height="0.8" fill="#000" opacity="0.55"/><rect x="234.6" y="495.8" width="0.8" height="0.8" fill="#000" opacity="0.72"/><rect x="250.7" y="491.5" width="0.8" height="0.8" fill="#000" opacity="0.66"/><rect x="237.5" y="497.1" width="0.8" height="0.8" fill="#000" opacity="0.33"/><rect x="233.2" y="486.7" width="0.8" height="0.8" fill="#000" opacity="0.65"/><rect x="236.2" y="485.1" width="0.8" height="0.8" fill="#000" opacity="0.51"/><rect x="233.5" y="494.5" width="0.8" height="0.8" fill="#000" opacity="0.72"/><rect x="237.7" y="485.6" width="0.8" height="0.8" fill="#000" opacity="0.69"/><rect x="247.7" y="489.0" width="0.8" height="0.8" fill="#000" opacity="0.41"/><rect x="241.6" y="498.5" width="0.8" height="0.8" fill="#000" opacity="0.63"/><rect x="238.4" y="498.8" width="0.8" height="0.8" fill="#000" opacity="0.33"/><rect x="232.8" y="495.6" width="0.8" height="0.8" fill="#000" opacity="0.73"/><rect x="236.1" y="485.8" width="0.8" height="0.8" fill="#000" opacity="0.53"/><rect x="237.9" y="497.2" width="0.8" height="0.8" fill="#000" opacity="0.74"/><rect x="242.7" y="484.9" width="0.8" height="0.8" fill="#000" opacity="0.68"/><rect x="237.9" y="497.3" width="0.8" height="0.8" fill="#000" opacity="0.57"/><rect x="247.4" y="487.3" width="0.8" height="0.8" fill="#000" opacity="0.49"/><rect x="238.2" y="484.5" width="0.8" height="0.8" fill="#000" opacity="0.58"/><rect x="232.3" y="487.6" width="0.8" height="0.8" fill="#000" opacity="0.76"/><rect x="251.7" y="494.1" width="0.8" height="0.8" fill="#000" opacity="0.35"/><rect x="232.3" y="489.8" width="0.8" height="0.8" fill="#000" opacity="0.79"/><rect x="241.9" y="497.4" width="0.8" height="0.8" fill="#000" opacity="0.78"/><rect x="232.3" y="493.7" width="0.8" height="0.8" fill="#000" opacity="0.51"/><rect x="239.9" y="497.3" width="0.8" height="0.8" fill="#000" opacity="0.58"/><rect x="243.1" y="498.5" width="0.8" height="0.8" fill="#000" opacity="0.80"/><rect x="249.7" y="491.3" width="0.8" height="0.8" fill="#000" opacity="0.47"/><rect x="248.1" y="496.8" width="0.8" height="0.8" fill="#000" opacity="0.39"/><rect x="248.7" y="497.4" width="0.8" height="0.8" fill="#000" opacity="0.58"/><rect x="247.5" y="488.1" width="0.8" height="0.8" fill="#000" opacity="0.39"/><rect x="232.3" y="488.5" width="0.8" height="0.8" fill="#000" opacity="0.39"/><rect x="232.5" y="491.9" width="0.8" height="0.8" fill="#000" opacity="0.52"/><rect x="247.2" y="495.5" width="0.8" height="0.8" fill="#000" opacity="0.33"/><rect x="245.4" y="486.6" width="0.8" height="0.8" fill="#000" opacity="0.64"/><rect x="249.1" y="497.0" width="0.8" height="0.8" fill="#000" opacity="0.31"/><rect x="244.4" y="485.5" width="0.8" height="0.8" fill="#000" opacity="0.75"/><rect x="247.0" y="488.4" width="0.8" height="0.8" fill="#000" opacity="0.33"/><rect x="241.2" y="497.5" width="0.8" height="0.8" fill="#000" opacity="0.73"/><rect x="247.3" y="497.5" width="0.8" height="0.8" fill="#000" opacity="0.77"/><rect x="237.9" y="484.3" width="0.8" height="0.8" fill="#000" opacity="0.62"/><rect x="232.8" y="497.0" width="0.8" height="0.8" fill="#000" opacity="0.41"/><rect x="232.7" y="489.7" width="0.8" height="0.8" fill="#000" opacity="0.57"/><rect x="237.9" y="499.4" width="0.8" height="0.8" fill="#000" opacity="0.80"/><rect x="238.2" y="485.5" width="0.8" height="0.8" fill="#000" opacity="0.78"/><rect x="248.4" y="490.1" width="0.8" height="0.8" fill="#000" opacity="0.74"/><rect x="247.3" y="495.5" width="0.8" height="0.8" fill="#000" opacity="0.43"/><rect x="234.8" y="496.7" width="0.8" height="0.8" fill="#000" opacity="0.78"/><rect x="247.0" y="497.6" width="0.8" height="0.8" fill="#000" opacity="0.55"/><rect x="248.9" y="497.6" width="0.8" height="0.8" fill="#000" opacity="0.76"/><rect x="235.1" y="498.2" width="0.8" height="0.8" fill="#000" opacity="0.53"/><rect x="236.1" y="485.0" width="0.8" height="0.8" fill="#000" opacity="0.62"/><rect x="236.2" y="496.2" width="0.8" height="0.8" fill="#000" opacity="0.53"/><rect x="233.7" y="489.0" width="0.8" height="0.8" fill="#000" opacity="0.59"/><rect x="249.5" y="492.5" width="0.8" height="0.8" fill="#000" opacity="0.54"/><rect x="242.1" y="498.0" width="0.8" height="0.8" fill="#000" opacity="0.67"/><rect x="239.5" y="497.6" width="0.8" height="0.8" fill="#000" opacity="0.61"/><rect x="235.5" y="497.5" width="0.8" height="0.8" fill="#000" opacity="0.78"/><rect x="251.3" y="490.5" width="0.8" height="0.8" fill="#000" opacity="0.79"/><rect x="243.5" y="485.8" width="0.8" height="0.8" fill="#000" opacity="0.77"/><rect x="247.0" y="496.2" width="0.8" height="0.8" fill="#000" opacity="0.55"/><rect x="248.0" y="496.8" width="0.8" height="0.8" fill="#000" opacity="0.57"/><rect x="243.8" y="499.0" width="0.8" height="0.8" fill="#000" opacity="0.34"/><rect x="232.7" y="492.3" width="0.8" height="0.8" fill="#000" opacity="0.77"/><rect x="246.6" y="497.0" width="0.8" height="0.8" fill="#000" opacity="0.66"/><rect x="237.7" y="499.0" width="0.8" height="0.8" fill="#000" opacity="0.36"/><rect x="247.9" y="494.4" width="0.8" height="0.8" fill="#000" opacity="0.58"/><rect x="231.8" y="492.8" width="0.8" height="0.8" fill="#000" opacity="0.54"/><rect x="247.1" y="487.7" width="0.8" height="0.8" fill="#000" opacity="0.37"/><rect x="241.3" y="499.5" width="0.8" height="0.8" fill="#000" opacity="0.71"/><rect x="246.9" y="495.4" width="0.8" height="0.8" fill="#000" opacity="0.79"/><rect x="249.5" y="490.7" width="0.8" height="0.8" fill="#000" opacity="0.57"/><rect x="250.1" y="493.9" width="0.8" height="0.8" fill="#000" opacity="0.39"/><rect x="237.8" y="486.6" width="0.8" height="0.8" fill="#000" opacity="0.58"/><rect x="236.8" y="497.8" width="0.8" height="0.8" fill="#000" opacity="0.78"/><rect x="239.6" y="486.0" width="0.8" height="0.8" fill="#000" opacity="0.43"/><rect x="245.4" y="485.1" width="0.8" height="0.8" fill="#000" opacity="0.37"/><rect x="244.3" y="486.1" width="0.8" height="0.8" fill="#000" opacity="0.58"/><rect x="249.5" y="487.0" width="0.8" height="0.8" fill="#000" opacity="0.39"/><rect x="246.4" y="496.7" width="0.8" height="0.8" fill="#000" opacity="0.60"/><rect x="250.8" y="490.4" width="0.8" height="0.8" fill="#000" opacity="0.68"/><rect x="245.2" y="485.9" width="0.8" height="0.8" fill="#000" opacity="0.49"/><rect x="244.0" y="485.2" width="0.8" height="0.8" fill="#000" opacity="0.74"/><rect x="250.3" y="491.8" width="0.8" height="0.8" fill="#000" opacity="0.47"/><rect x="247.8" y="496.9" width="0.8" height="0.8" fill="#000" opacity="0.46"/><rect x="237.4" y="498.1" width="0.8" height="0.8" fill="#000" opacity="0.66"/><rect x="237.3" y="485.9" width="0.8" height="0.8" fill="#000" opacity="0.63"/><rect x="233.7" y="486.3" width="0.8" height="0.8" fill="#000" opacity="0.64"/><rect x="246.0" y="487.0" width="0.8" height="0.8" fill="#000" opacity="0.73"/><rect x="251.5" y="492.2" width="0.8" height="0.8" fill="#000" opacity="0.31"/><rect x="234.6" y="488.0" width="0.8" height="0.8" fill="#000" opacity="0.38"/><rect x="240.8" y="486.1" width="0.8" height="0.8" fill="#000" opacity="0.64"/><rect x="248.3" y="494.9" width="0.8" height="0.8" fill="#000" opacity="0.50"/><rect x="232.3" y="488.8" width="0.8" height="0.8" fill="#000" opacity="0.48"/><rect x="246.2" y="487.8" width="0.8" height="0.8" fill="#000" opacity="0.40"/><rect x="233.6" y="496.3" width="0.8" height="0.8" fill="#000" opacity="0.63"/><rect x="247.8" y="487.8" width="0.8" height="0.8" fill="#000" opacity="0.62"/><rect x="238.2" y="486.5" width="0.8" height="0.8" fill="#000" opacity="0.48"/><rect x="232.1" y="494.3" width="0.8" height="0.8" fill="#000" opacity="0.56"/><rect x="246.5" y="496.5" width="0.8" height="0.8" fill="#000" opacity="0.46"/><rect x="249.9" y="495.8" width="0.8" height="0.8" fill="#000" opacity="0.75"/><rect x="240.3" y="485.9" width="0.8" height="0.8" fill="#000" opacity="0.59"/><rect x="249.3" y="493.1" width="0.8" height="0.8" fill="#000" opacity="0.43"/><rect x="233.3" y="487.9" width="0.8" height="0.8" fill="#000" opacity="0.57"/><rect x="246.1" y="497.6" width="0.8" height="0.8" fill="#000" opacity="0.67"/><rect x="247.3" y="487.3" width="0.8" height="0.8" fill="#000" opacity="0.52"/><rect x="246.4" y="487.9" width="0.8" height="0.8" fill="#000" opacity="0.60"/><rect x="249.5" y="496.4" width="0.8" height="0.8" fill="#000" opacity="0.64"/></g><path d="M233.5,488.0 C234.8,486.8 237.8,486.4 240.0,486.0 C242.2,485.6 245.3,485.0 247.0,485.5 C248.7,486.0 249.7,487.2 250.0,489.0 C250.3,490.8 250.3,494.4 249.0,496.0 C247.7,497.6 244.5,497.9 242.0,498.3 C239.5,498.7 235.6,499.1 234.0,498.2 C232.4,497.3 232.4,494.7 232.3,493.0 C232.2,491.3 232.2,489.2 233.5,488.0 Z" fill="#000" fill-opacity="0.9" filter="url(#bl)"/><g><rect x="235.1" y="487.2" width="0.9" height="0.9" fill="#fff" opacity="0.29"/><rect x="238.4" y="492.7" width="0.9" height="0.9" fill="#fff" opacity="0.20"/><rect x="239.5" y="487.8" width="0.9" height="0.9" fill="#fff" opacity="0.23"/><rect x="238.8" y="491.2" width="0.9" height="0.9" fill="#fff" opacity="0.25"/><rect x="247.4" y="489.7" width="0.9" height="0.9" fill="#fff" opacity="0.13"/><rect x="245.0" y="491.4" width="0.9" height="0.9" fill="#fff" opacity="0.27"/><rect x="239.4" y="487.3" width="0.9" height="0.9" fill="#fff" opacity="0.12"/><rect x="246.8" y="492.7" width="0.9" height="0.9" fill="#fff" opacity="0.29"/><rect x="245.7" y="493.7" width="0.9" height="0.9" fill="#fff" opacity="0.09"/><rect x="240.0" y="487.0" width="0.9" height="0.9" fill="#fff" opacity="0.13"/><rect x="237.2" y="496.4" width="0.9" height="0.9" fill="#fff" opacity="0.09"/><rect x="239.0" y="487.0" width="0.9" height="0.9" fill="#fff" opacity="0.09"/><rect x="243.9" y="490.9" width="0.9" height="0.9" fill="#fff" opacity="0.18"/><rect x="245.7" y="493.9" width="0.9" height="0.9" fill="#fff" opacity="0.10"/><rect x="244.6" y="493.8" width="0.9" height="0.9" fill="#fff" opacity="0.20"/><rect x="241.2" y="496.2" width="0.9" height="0.9" fill="#fff" opacity="0.20"/><rect x="234.9" y="495.4" width="0.9" height="0.9" fill="#fff" opacity="0.21"/><rect x="237.8" y="494.7" width="0.9" height="0.9" fill="#fff" opacity="0.28"/><rect x="244.5" y="491.7" width="0.9" height="0.9" fill="#fff" opacity="0.26"/><rect x="235.2" y="487.3" width="0.9" height="0.9" fill="#fff" opacity="0.15"/><rect x="241.4" y="493.4" width="0.9" height="0.9" fill="#fff" opacity="0.21"/><rect x="241.4" y="490.6" width="0.9" height="0.9" fill="#fff" opacity="0.23"/><rect x="242.0" y="488.9" width="0.9" height="0.9" fill="#fff" opacity="0.19"/><rect x="240.6" y="494.9" width="0.9" height="0.9" fill="#fff" opacity="0.23"/><rect x="248.0" y="494.6" width="0.9" height="0.9" fill="#fff" opacity="0.18"/><rect x="243.6" y="489.8" width="0.9" height="0.9" fill="#fff" opacity="0.19"/><rect x="248.1" y="488.0" width="0.9" height="0.9" fill="#fff" opacity="0.16"/><rect x="240.2" y="494.1" width="0.9" height="0.9" fill="#fff" opacity="0.10"/><rect x="243.7" y="487.9" width="0.9" height="0.9" fill="#fff" opacity="0.29"/><rect x="235.2" y="493.4" width="0.9" height="0.9" fill="#fff" opacity="0.24"/><rect x="241.9" y="489.5" width="0.9" height="0.9" fill="#fff" opacity="0.14"/><rect x="246.7" y="491.5" width="0.9" height="0.9" fill="#fff" opacity="0.19"/><rect x="247.6" y="491.7" width="0.9" height="0.9" fill="#fff" opacity="0.25"/><rect x="242.6" y="495.3" width="0.9" height="0.9" fill="#fff" opacity="0.21"/><rect x="236.0" y="489.1" width="0.9" height="0.9" fill="#fff" opacity="0.12"/><rect x="237.2" y="492.8" width="0.9" height="0.9" fill="#fff" opacity="0.15"/><rect x="239.2" y="487.0" width="0.9" height="0.9" fill="#fff" opacity="0.30"/><rect x="240.9" y="488.9" width="0.9" height="0.9" fill="#fff" opacity="0.22"/><rect x="235.4" y="488.3" width="0.9" height="0.9" fill="#fff" opacity="0.29"/><rect x="243.5" y="490.5" width="0.9" height="0.9" fill="#fff" opacity="0.08"/><rect x="244.4" y="489.3" width="0.9" height="0.9" fill="#fff" opacity="0.13"/><rect x="238.0" y="493.2" width="0.9" height="0.9" fill="#fff" opacity="0.11"/><rect x="234.8" y="495.5" width="0.9" height="0.9" fill="#fff" opacity="0.18"/><rect x="235.9" y="487.4" width="0.9" height="0.9" fill="#fff" opacity="0.28"/><rect x="241.3" y="492.4" width="0.9" height="0.9" fill="#fff" opacity="0.28"/><rect x="234.4" y="487.9" width="0.9" height="0.9" fill="#fff" opacity="0.10"/><rect x="244.0" y="487.9" width="0.9" height="0.9" fill="#fff" opacity="0.19"/><rect x="245.3" y="490.9" width="0.9" height="0.9" fill="#fff" opacity="0.22"/><rect x="234.7" y="491.7" width="0.9" height="0.9" fill="#fff" opacity="0.14"/><rect x="243.6" y="490.8" width="0.9" height="0.9" fill="#fff" opacity="0.22"/><rect x="246.8" y="496.3" width="0.9" height="0.9" fill="#fff" opacity="0.25"/><rect x="244.1" y="496.6" width="0.9" height="0.9" fill="#fff" opacity="0.16"/><rect x="234.4" y="495.0" width="0.9" height="0.9" fill="#fff" opacity="0.14"/><rect x="238.8" y="496.5" width="0.9" height="0.9" fill="#fff" opacity="0.15"/><rect x="236.0" y="496.1" width="0.9" height="0.9" fill="#fff" opacity="0.05"/><rect x="234.8" y="493.9" width="0.9" height="0.9" fill="#fff" opacity="0.09"/><rect x="244.3" y="486.8" width="0.9" height="0.9" fill="#fff" opacity="0.12"/><rect x="239.7" y="493.2" width="0.9" height="0.9" fill="#fff" opacity="0.24"/><rect x="243.7" y="488.8" width="0.9" height="0.9" fill="#fff" opacity="0.26"/><rect x="234.8" y="491.3" width="0.9" height="0.9" fill="#fff" opacity="0.06"/><rect x="245.0" y="491.6" width="0.9" height="0.9" fill="#fff" opacity="0.16"/><rect x="247.3" y="489.3" width="0.9" height="0.9" fill="#fff" opacity="0.21"/><rect x="243.9" y="487.5" width="0.9" height="0.9" fill="#fff" opacity="0.24"/><rect x="238.9" y="494.3" width="0.9" height="0.9" fill="#fff" opacity="0.24"/><rect x="238.8" y="490.8" width="0.9" height="0.9" fill="#fff" opacity="0.15"/><rect x="235.5" y="492.6" width="0.9" height="0.9" fill="#fff" opacity="0.23"/><rect x="247.7" y="491.3" width="0.9" height="0.9" fill="#fff" opacity="0.19"/><rect x="243.1" y="494.6" width="0.9" height="0.9" fill="#fff" opacity="0.22"/><rect x="247.6" y="495.4" width="0.9" height="0.9" fill="#fff" opacity="0.29"/><rect x="240.3" y="492.4" width="0.9" height="0.9" fill="#fff" opacity="0.09"/><rect x="241.3" y="492.0" width="0.9" height="0.9" fill="#fff" opacity="0.14"/><rect x="247.3" y="495.8" width="0.9" height="0.9" fill="#fff" opacity="0.26"/><rect x="238.3" y="492.7" width="0.9" height="0.9" fill="#fff" opacity="0.26"/><rect x="239.6" y="492.8" width="0.9" height="0.9" fill="#fff" opacity="0.10"/><rect x="247.4" y="492.6" width="0.9" height="0.9" fill="#fff" opacity="0.16"/><rect x="246.2" y="489.6" width="0.9" height="0.9" fill="#fff" opacity="0.18"/><rect x="239.9" y="496.0" width="0.9" height="0.9" fill="#fff" opacity="0.18"/><rect x="247.5" y="495.2" width="0.9" height="0.9" fill="#fff" opacity="0.08"/><rect x="242.4" y="491.8" width="0.9" height="0.9" fill="#fff" opacity="0.09"/><rect x="246.5" y="495.1" width="0.9" height="0.9" fill="#fff" opacity="0.29"/><rect x="241.0" y="488.3" width="0.9" height="0.9" fill="#fff" opacity="0.21"/><rect x="245.9" y="489.6" width="0.9" height="0.9" fill="#fff" opacity="0.24"/><rect x="240.9" y="490.7" width="0.9" height="0.9" fill="#fff" opacity="0.30"/><rect x="244.0" y="496.7" width="0.9" height="0.9" fill="#fff" opacity="0.24"/><rect x="245.8" y="489.0" width="0.9" height="0.9" fill="#fff" opacity="0.24"/><rect x="235.5" y="494.6" width="0.9" height="0.9" fill="#fff" opacity="0.22"/><rect x="239.7" y="492.7" width="0.9" height="0.9" fill="#fff" opacity="0.29"/><rect x="243.8" y="489.8" width="0.9" height="0.9" fill="#fff" opacity="0.29"/><rect x="245.1" y="489.9" width="0.9" height="0.9" fill="#fff" opacity="0.15"/><rect x="238.9" y="491.3" width="0.9" height="0.9" fill="#fff" opacity="0.26"/></g><text x="261.5" y="479.2" font-size="10" text-anchor="middle" font-weight="normal" fill="#111" stroke="#111" stroke-width="0.25">2.1</text><text x="296.6" y="452.2" font-size="3.4" text-anchor="end" fill="#777" font-weight="bold">1000</text><text x="296.6" y="462.12" font-size="3.4" text-anchor="end" fill="#777" font-weight="bold">800</text><text x="296.6" y="472.04" font-size="3.4" text-anchor="end" fill="#777" font-weight="bold">600</text><text x="296.6" y="481.96" font-size="3.4" text-anchor="end" fill="#777" font-weight="bold">400</text><text x="296.6" y="491.88" font-size="3.4" text-anchor="end" fill="#777" font-weight="bold">200</text><text x="296.6" y="501.8" font-size="3.4" text-anchor="end" fill="#777" font-weight="bold">0</text><text x="289.1" y="472.5" font-size="2.8" text-anchor="middle" fill="#aaa" transform="rotate(-90 289.1 472.5)">SSC-A :: SSC</text><text x="300.6" y="505.3" font-size="4" text-anchor="end" fill="#777" transform="rotate(-55 299.6 503.8)">10<tspan font-size="2.6" dy="-1.2">0</tspan></text><text x="313.20000000000005" y="505.3" font-size="4" text-anchor="end" fill="#777" transform="rotate(-55 312.20000000000005 503.8)">10<tspan font-size="2.6" dy="-1.2">1</tspan></text><text x="325.8" y="505.3" font-size="4" text-anchor="end" fill="#777" transform="rotate(-55 324.8 503.8)">10<tspan font-size="2.6" dy="-1.2">2</tspan></text><text x="338.40000000000003" y="505.3" font-size="4" text-anchor="end" fill="#777" transform="rotate(-55 337.40000000000003 503.8)">10<tspan font-size="2.6" dy="-1.2">3</tspan></text><rect x="298.6" y="450.2" width="51.19999999999999" height="50.60000000000002" fill="none" stroke="#aaa" stroke-width="0.9"/><rect x="314.2" y="481.2" width="25.600000000000023" height="19.0" fill="none" stroke="#999" stroke-width="1.1"/><defs><radialGradient id="dg14"><stop offset="0" stop-color="#000" stop-opacity="0.3"/><stop offset="1" stop-color="#000" stop-opacity="0"/></radialGradient></defs><ellipse cx="319.4" cy="491.3" rx="12.9" ry="10.220000000000015" fill="url(#dg14)"/><g><rect x="323.7" y="495.2" width="0.7" height="0.7" fill="#000" opacity="0.38"/><rect x="319.5" y="490.1" width="0.7" height="0.7" fill="#000" opacity="0.24"/><rect x="314.3" y="485.4" width="0.7" height="0.7" fill="#000" opacity="0.26"/><rect x="316.6" y="487.6" width="0.7" height="0.7" fill="#000" opacity="0.42"/><rect x="317.6" y="493.2" width="0.7" height="0.7" fill="#000" opacity="0.47"/><rect x="317.3" y="493.7" width="0.7" height="0.7" fill="#000" opacity="0.43"/><rect x="316.4" y="489.6" width="0.7" height="0.7" fill="#000" opacity="0.34"/><rect x="315.7" y="489.2" width="0.7" height="0.7" fill="#000" opacity="0.38"/><rect x="318.7" y="493.8" width="0.7" height="0.7" fill="#000" opacity="0.18"/><rect x="335.1" y="498.3" width="0.7" height="0.7" fill="#000" opacity="0.30"/><rect x="326.9" y="486.2" width="0.7" height="0.7" fill="#000" opacity="0.39"/><rect x="322.0" y="494.8" width="0.7" height="0.7" fill="#000" opacity="0.37"/><rect x="314.6" y="492.9" width="0.7" height="0.7" fill="#000" opacity="0.46"/><rect x="318.8" y="491.1" width="0.7" height="0.7" fill="#000" opacity="0.31"/><rect x="316.1" y="498.3" width="0.7" height="0.7" fill="#000" opacity="0.33"/><rect x="326.0" y="495.7" width="0.7" height="0.7" fill="#000" opacity="0.18"/><rect x="313.4" y="492.2" width="0.7" height="0.7" fill="#000" opacity="0.41"/><rect x="321.1" y="494.5" width="0.7" height="0.7" fill="#000" opacity="0.18"/><rect x="326.3" y="492.0" width="0.7" height="0.7" fill="#000" opacity="0.34"/><rect x="322.7" y="492.6" width="0.7" height="0.7" fill="#000" opacity="0.30"/><rect x="316.2" y="490.3" width="0.7" height="0.7" fill="#000" opacity="0.32"/><rect x="314.5" y="499.3" width="0.7" height="0.7" fill="#000" opacity="0.48"/><rect x="317.5" y="492.2" width="0.7" height="0.7" fill="#000" opacity="0.40"/><rect x="314.6" y="491.0" width="0.7" height="0.7" fill="#000" opacity="0.40"/><rect x="321.7" y="489.8" width="0.7" height="0.7" fill="#000" opacity="0.27"/><rect x="331.9" y="487.3" width="0.7" height="0.7" fill="#000" opacity="0.24"/><rect x="314.8" y="493.8" width="0.7" height="0.7" fill="#000" opacity="0.37"/><rect x="319.6" y="491.9" width="0.7" height="0.7" fill="#000" opacity="0.29"/><rect x="320.4" y="492.1" width="0.7" height="0.7" fill="#000" opacity="0.49"/><rect x="319.1" y="489.6" width="0.7" height="0.7" fill="#000" opacity="0.48"/><rect x="317.2" y="493.7" width="0.7" height="0.7" fill="#000" opacity="0.16"/><rect x="316.6" y="493.4" width="0.7" height="0.7" fill="#000" opacity="0.23"/><rect x="317.8" y="489.0" width="0.7" height="0.7" fill="#000" opacity="0.24"/><rect x="328.6" y="485.9" width="0.7" height="0.7" fill="#000" opacity="0.25"/><rect x="313.6" y="487.5" width="0.7" height="0.7" fill="#000" opacity="0.35"/><rect x="330.3" y="485.9" width="0.7" height="0.7" fill="#000" opacity="0.42"/><rect x="329.9" y="490.9" width="0.7" height="0.7" fill="#000" opacity="0.28"/><rect x="329.7" y="498.1" width="0.7" height="0.7" fill="#000" opacity="0.34"/><rect x="314.1" y="487.8" width="0.7" height="0.7" fill="#000" opacity="0.47"/><rect x="318.0" y="489.3" width="0.7" height="0.7" fill="#000" opacity="0.48"/><rect x="320.9" y="492.0" width="0.7" height="0.7" fill="#000" opacity="0.24"/><rect x="317.7" y="492.9" width="0.7" height="0.7" fill="#000" opacity="0.39"/><rect x="317.3" y="493.7" width="0.7" height="0.7" fill="#000" opacity="0.31"/><rect x="321.3" y="490.2" width="0.7" height="0.7" fill="#000" opacity="0.42"/><rect x="313.4" y="495.1" width="0.7" height="0.7" fill="#000" opacity="0.30"/><rect x="317.3" y="493.4" width="0.7" height="0.7" fill="#000" opacity="0.20"/><rect x="313.8" y="489.1" width="0.7" height="0.7" fill="#000" opacity="0.38"/><rect x="315.2" y="497.0" width="0.7" height="0.7" fill="#000" opacity="0.38"/><rect x="325.4" y="498.7" width="0.7" height="0.7" fill="#000" opacity="0.38"/><rect x="315.5" y="490.9" width="0.7" height="0.7" fill="#000" opacity="0.29"/><rect x="314.0" y="495.8" width="0.7" height="0.7" fill="#000" opacity="0.48"/><rect x="315.1" y="490.2" width="0.7" height="0.7" fill="#000" opacity="0.39"/><rect x="323.1" y="489.3" width="0.7" height="0.7" fill="#000" opacity="0.18"/><rect x="319.2" y="488.2" width="0.7" height="0.7" fill="#000" opacity="0.49"/><rect x="324.7" y="485.9" width="0.7" height="0.7" fill="#000" opacity="0.48"/><rect x="327.2" y="494.3" width="0.7" height="0.7" fill="#000" opacity="0.26"/><rect x="318.7" y="494.2" width="0.7" height="0.7" fill="#000" opacity="0.36"/><rect x="322.6" y="491.4" width="0.7" height="0.7" fill="#000" opacity="0.42"/><rect x="323.8" y="491.4" width="0.7" height="0.7" fill="#000" opacity="0.25"/><rect x="319.5" y="490.8" width="0.7" height="0.7" fill="#000" opacity="0.39"/><rect x="313.2" y="491.2" width="0.7" height="0.7" fill="#000" opacity="0.50"/><rect x="330.0" y="487.5" width="0.7" height="0.7" fill="#000" opacity="0.45"/><rect x="320.7" y="493.9" width="0.7" height="0.7" fill="#000" opacity="0.27"/><rect x="315.0" y="490.9" width="0.7" height="0.7" fill="#000" opacity="0.20"/><rect x="328.4" y="489.3" width="0.7" height="0.7" fill="#000" opacity="0.40"/><rect x="323.5" y="490.3" width="0.7" height="0.7" fill="#000" opacity="0.44"/><rect x="330.7" y="494.3" width="0.7" height="0.7" fill="#000" opacity="0.17"/><rect x="323.7" y="493.3" width="0.7" height="0.7" fill="#000" opacity="0.43"/><rect x="324.8" y="494.1" width="0.7" height="0.7" fill="#000" opacity="0.49"/><rect x="318.1" y="492.6" width="0.7" height="0.7" fill="#000" opacity="0.16"/><rect x="319.5" y="487.8" width="0.7" height="0.7" fill="#000" opacity="0.29"/><rect x="317.4" y="491.0" width="0.7" height="0.7" fill="#000" opacity="0.23"/><rect x="313.6" y="494.4" width="0.7" height="0.7" fill="#000" opacity="0.45"/><rect x="313.1" y="493.0" width="0.7" height="0.7" fill="#000" opacity="0.45"/><rect x="315.0" y="491.0" width="0.7" height="0.7" fill="#000" opacity="0.39"/><rect x="318.0" y="485.9" width="0.7" height="0.7" fill="#000" opacity="0.42"/><rect x="318.6" y="492.6" width="0.7" height="0.7" fill="#000" opacity="0.41"/><rect x="322.7" y="486.9" width="0.7" height="0.7" fill="#000" opacity="0.21"/><rect x="322.4" y="495.7" width="0.7" height="0.7" fill="#000" opacity="0.28"/><rect x="321.0" y="488.6" width="0.7" height="0.7" fill="#000" opacity="0.41"/><rect x="319.0" y="495.1" width="0.7" height="0.7" fill="#000" opacity="0.44"/><rect x="315.0" y="493.6" width="0.7" height="0.7" fill="#000" opacity="0.37"/><rect x="324.6" y="497.2" width="0.7" height="0.7" fill="#000" opacity="0.25"/><rect x="322.0" y="488.5" width="0.7" height="0.7" fill="#000" opacity="0.20"/><rect x="326.2" y="490.5" width="0.7" height="0.7" fill="#000" opacity="0.32"/><rect x="318.6" y="488.4" width="0.7" height="0.7" fill="#000" opacity="0.49"/><rect x="320.2" y="497.7" width="0.7" height="0.7" fill="#000" opacity="0.16"/><rect x="316.3" y="491.2" width="0.7" height="0.7" fill="#000" opacity="0.20"/><rect x="329.2" y="486.7" width="0.7" height="0.7" fill="#000" opacity="0.26"/><rect x="321.2" y="493.9" width="0.7" height="0.7" fill="#000" opacity="0.36"/><rect x="317.8" y="494.3" width="0.7" height="0.7" fill="#000" opacity="0.45"/><rect x="320.7" y="490.0" width="0.7" height="0.7" fill="#000" opacity="0.44"/><rect x="322.4" y="491.3" width="0.7" height="0.7" fill="#000" opacity="0.16"/><rect x="319.4" y="499.4" width="0.7" height="0.7" fill="#000" opacity="0.21"/><rect x="317.9" y="498.1" width="0.7" height="0.7" fill="#000" opacity="0.19"/><rect x="316.7" y="489.0" width="0.7" height="0.7" fill="#000" opacity="0.29"/><rect x="316.6" y="490.2" width="0.7" height="0.7" fill="#000" opacity="0.42"/><rect x="327.0" y="493.9" width="0.7" height="0.7" fill="#000" opacity="0.42"/><rect x="327.5" y="494.8" width="0.7" height="0.7" fill="#000" opacity="0.44"/><rect x="313.6" y="496.7" width="0.7" height="0.7" fill="#000" opacity="0.22"/><rect x="327.3" y="489.7" width="0.7" height="0.7" fill="#000" opacity="0.28"/><rect x="317.6" y="490.9" width="0.7" height="0.7" fill="#000" opacity="0.45"/><rect x="324.6" y="485.9" width="0.7" height="0.7" fill="#000" opacity="0.18"/><rect x="313.1" y="489.6" width="0.7" height="0.7" fill="#000" opacity="0.34"/><rect x="320.8" y="494.1" width="0.7" height="0.7" fill="#000" opacity="0.31"/><rect x="315.4" y="492.3" width="0.7" height="0.7" fill="#000" opacity="0.38"/><rect x="321.2" y="490.6" width="0.7" height="0.7" fill="#000" opacity="0.46"/><rect x="316.7" y="494.0" width="0.7" height="0.7" fill="#000" opacity="0.31"/><rect x="328.1" y="490.1" width="0.7" height="0.7" fill="#000" opacity="0.37"/><rect x="322.3" y="492.4" width="0.7" height="0.7" fill="#000" opacity="0.16"/><rect x="320.9" y="492.8" width="0.7" height="0.7" fill="#000" opacity="0.24"/><rect x="321.4" y="494.2" width="0.7" height="0.7" fill="#000" opacity="0.42"/><rect x="330.5" y="487.3" width="0.7" height="0.7" fill="#000" opacity="0.30"/><rect x="320.1" y="493.0" width="0.7" height="0.7" fill="#000" opacity="0.44"/><rect x="333.3" y="487.8" width="0.7" height="0.7" fill="#000" opacity="0.40"/><rect x="317.8" y="490.5" width="0.7" height="0.7" fill="#000" opacity="0.48"/><rect x="326.1" y="489.7" width="0.7" height="0.7" fill="#000" opacity="0.26"/><rect x="313.3" y="494.7" width="0.7" height="0.7" fill="#000" opacity="0.21"/><rect x="317.3" y="490.8" width="0.7" height="0.7" fill="#000" opacity="0.23"/><rect x="317.0" y="489.3" width="0.7" height="0.7" fill="#000" opacity="0.22"/><rect x="313.1" y="494.2" width="0.7" height="0.7" fill="#000" opacity="0.15"/><rect x="313.8" y="485.4" width="0.7" height="0.7" fill="#000" opacity="0.26"/><rect x="322.1" y="488.3" width="0.7" height="0.7" fill="#000" opacity="0.23"/><rect x="319.2" y="490.7" width="0.7" height="0.7" fill="#000" opacity="0.43"/><rect x="313.3" y="491.0" width="0.7" height="0.7" fill="#000" opacity="0.45"/><rect x="322.1" y="493.6" width="0.7" height="0.7" fill="#000" opacity="0.48"/><rect x="319.2" y="492.2" width="0.7" height="0.7" fill="#000" opacity="0.17"/><rect x="320.3" y="488.4" width="0.7" height="0.7" fill="#000" opacity="0.40"/><rect x="328.6" y="482.6" width="0.7" height="0.7" fill="#000" opacity="0.48"/><rect x="322.6" y="489.4" width="0.7" height="0.7" fill="#000" opacity="0.47"/><rect x="314.6" y="493.2" width="0.7" height="0.7" fill="#000" opacity="0.37"/><rect x="336.2" y="493.2" width="0.7" height="0.7" fill="#000" opacity="0.26"/><rect x="319.5" y="492.8" width="0.7" height="0.7" fill="#000" opacity="0.26"/><rect x="328.4" y="489.6" width="0.7" height="0.7" fill="#000" opacity="0.16"/><rect x="316.7" y="493.8" width="0.7" height="0.7" fill="#000" opacity="0.49"/><rect x="321.8" y="492.9" width="0.7" height="0.7" fill="#000" opacity="0.48"/><rect x="319.6" y="493.9" width="0.7" height="0.7" fill="#000" opacity="0.29"/><rect x="314.1" y="497.5" width="0.7" height="0.7" fill="#000" opacity="0.25"/><rect x="324.4" y="491.0" width="0.7" height="0.7" fill="#000" opacity="0.42"/><rect x="313.6" y="486.7" width="0.7" height="0.7" fill="#000" opacity="0.48"/><rect x="332.5" y="488.1" width="0.7" height="0.7" fill="#000" opacity="0.40"/><rect x="321.0" y="492.4" width="0.7" height="0.7" fill="#000" opacity="0.45"/><rect x="327.4" y="492.4" width="0.7" height="0.7" fill="#000" opacity="0.29"/><rect x="314.1" y="491.9" width="0.7" height="0.7" fill="#000" opacity="0.41"/><rect x="315.5" y="495.8" width="0.7" height="0.7" fill="#000" opacity="0.40"/><rect x="323.4" y="482.9" width="0.7" height="0.7" fill="#000" opacity="0.38"/><rect x="321.6" y="492.7" width="0.7" height="0.7" fill="#000" opacity="0.47"/><rect x="319.7" y="486.8" width="0.7" height="0.7" fill="#000" opacity="0.45"/><rect x="314.1" y="492.3" width="0.7" height="0.7" fill="#000" opacity="0.25"/><rect x="315.3" y="490.8" width="0.7" height="0.7" fill="#000" opacity="0.26"/><rect x="319.0" y="491.2" width="0.7" height="0.7" fill="#000" opacity="0.45"/><rect x="315.9" y="492.4" width="0.7" height="0.7" fill="#000" opacity="0.50"/><rect x="319.2" y="491.5" width="0.7" height="0.7" fill="#000" opacity="0.29"/><rect x="318.8" y="488.8" width="0.7" height="0.7" fill="#000" opacity="0.35"/><rect x="317.1" y="486.1" width="0.7" height="0.7" fill="#000" opacity="0.44"/><rect x="323.9" y="491.8" width="0.7" height="0.7" fill="#000" opacity="0.16"/><rect x="314.2" y="490.6" width="0.7" height="0.7" fill="#000" opacity="0.18"/><rect x="324.1" y="493.7" width="0.7" height="0.7" fill="#000" opacity="0.15"/><rect x="315.6" y="489.9" width="0.7" height="0.7" fill="#000" opacity="0.26"/><rect x="326.7" y="493.0" width="0.7" height="0.7" fill="#000" opacity="0.44"/><rect x="314.0" y="487.8" width="0.7" height="0.7" fill="#000" opacity="0.24"/><rect x="328.8" y="489.6" width="0.7" height="0.7" fill="#000" opacity="0.49"/><rect x="328.6" y="495.5" width="0.7" height="0.7" fill="#000" opacity="0.39"/><rect x="315.3" y="486.6" width="0.7" height="0.7" fill="#000" opacity="0.42"/><rect x="320.0" y="491.3" width="0.7" height="0.7" fill="#000" opacity="0.32"/><rect x="325.7" y="492.8" width="0.7" height="0.7" fill="#000" opacity="0.27"/><rect x="319.6" y="497.8" width="0.7" height="0.7" fill="#000" opacity="0.33"/><rect x="321.0" y="499.6" width="0.7" height="0.7" fill="#000" opacity="0.48"/><rect x="322.9" y="493.6" width="0.7" height="0.7" fill="#000" opacity="0.15"/><rect x="341.0" y="490.5" width="0.7" height="0.7" fill="#000" opacity="0.16"/><rect x="316.1" y="491.5" width="0.7" height="0.7" fill="#000" opacity="0.18"/><rect x="313.8" y="479.3" width="0.7" height="0.7" fill="#000" opacity="0.42"/><rect x="319.8" y="488.9" width="0.7" height="0.7" fill="#000" opacity="0.28"/><rect x="319.0" y="494.3" width="0.7" height="0.7" fill="#000" opacity="0.19"/><rect x="317.0" y="486.7" width="0.7" height="0.7" fill="#000" opacity="0.28"/><rect x="317.4" y="488.6" width="0.7" height="0.7" fill="#000" opacity="0.46"/><rect x="315.5" y="485.8" width="0.7" height="0.7" fill="#000" opacity="0.36"/><rect x="325.8" y="484.9" width="0.7" height="0.7" fill="#000" opacity="0.50"/><rect x="333.9" y="487.6" width="0.7" height="0.7" fill="#000" opacity="0.24"/><rect x="329.3" y="487.6" width="0.7" height="0.7" fill="#000" opacity="0.37"/><rect x="327.2" y="496.7" width="0.7" height="0.7" fill="#000" opacity="0.28"/><rect x="323.8" y="494.3" width="0.7" height="0.7" fill="#000" opacity="0.23"/><rect x="317.2" y="489.2" width="0.7" height="0.7" fill="#000" opacity="0.19"/><rect x="322.7" y="491.7" width="0.7" height="0.7" fill="#000" opacity="0.41"/><rect x="314.4" y="494.6" width="0.7" height="0.7" fill="#000" opacity="0.25"/><rect x="317.4" y="490.6" width="0.7" height="0.7" fill="#000" opacity="0.35"/><rect x="318.7" y="485.8" width="0.7" height="0.7" fill="#000" opacity="0.24"/><rect x="316.9" y="491.5" width="0.7" height="0.7" fill="#000" opacity="0.32"/><rect x="313.0" y="491.1" width="0.7" height="0.7" fill="#000" opacity="0.38"/><rect x="319.3" y="489.8" width="0.7" height="0.7" fill="#000" opacity="0.26"/><rect x="315.1" y="489.2" width="0.7" height="0.7" fill="#000" opacity="0.24"/><rect x="320.9" y="488.0" width="0.7" height="0.7" fill="#000" opacity="0.21"/><rect x="316.3" y="495.7" width="0.7" height="0.7" fill="#000" opacity="0.45"/><rect x="317.1" y="497.1" width="0.7" height="0.7" fill="#000" opacity="0.34"/><rect x="314.6" y="495.4" width="0.7" height="0.7" fill="#000" opacity="0.44"/><rect x="321.9" y="494.3" width="0.7" height="0.7" fill="#000" opacity="0.32"/><rect x="320.0" y="494.0" width="0.7" height="0.7" fill="#000" opacity="0.21"/><rect x="314.8" y="491.9" width="0.7" height="0.7" fill="#000" opacity="0.35"/><rect x="319.0" y="483.6" width="0.7" height="0.7" fill="#000" opacity="0.48"/><rect x="313.2" y="498.5" width="0.7" height="0.7" fill="#000" opacity="0.28"/><rect x="315.2" y="486.9" width="0.7" height="0.7" fill="#000" opacity="0.41"/><rect x="331.0" y="497.3" width="0.7" height="0.7" fill="#000" opacity="0.31"/><rect x="314.7" y="488.9" width="0.7" height="0.7" fill="#000" opacity="0.40"/><rect x="315.2" y="495.3" width="0.7" height="0.7" fill="#000" opacity="0.28"/><rect x="318.8" y="486.8" width="0.7" height="0.7" fill="#000" opacity="0.25"/><rect x="315.3" y="490.8" width="0.7" height="0.7" fill="#000" opacity="0.32"/><rect x="315.9" y="492.7" width="0.7" height="0.7" fill="#000" opacity="0.23"/><rect x="314.7" y="491.0" width="0.7" height="0.7" fill="#000" opacity="0.40"/><rect x="327.8" y="487.7" width="0.7" height="0.7" fill="#000" opacity="0.45"/><rect x="327.3" y="497.6" width="0.7" height="0.7" fill="#000" opacity="0.20"/><rect x="317.7" y="493.3" width="0.7" height="0.7" fill="#000" opacity="0.39"/><rect x="325.0" y="488.5" width="0.7" height="0.7" fill="#000" opacity="0.23"/><rect x="320.7" y="491.9" width="0.7" height="0.7" fill="#000" opacity="0.49"/><rect x="300.2" y="493.4" width="0.8" height="0.8" fill="#000" opacity="0.35"/><rect x="308.4" y="499.6" width="0.8" height="0.8" fill="#000" opacity="0.40"/><rect x="299.2" y="492.2" width="0.8" height="0.8" fill="#000" opacity="0.37"/><rect x="301.3" y="496.9" width="0.8" height="0.8" fill="#000" opacity="0.76"/><rect x="308.5" y="484.0" width="0.8" height="0.8" fill="#000" opacity="0.45"/><rect x="307.6" y="498.5" width="0.8" height="0.8" fill="#000" opacity="0.57"/><rect x="313.9" y="490.1" width="0.8" height="0.8" fill="#000" opacity="0.40"/><rect x="300.1" y="496.1" width="0.8" height="0.8" fill="#000" opacity="0.33"/><rect x="315.5" y="492.3" width="0.8" height="0.8" fill="#000" opacity="0.31"/><rect x="311.0" y="484.0" width="0.8" height="0.8" fill="#000" opacity="0.53"/><rect x="315.3" y="491.2" width="0.8" height="0.8" fill="#000" opacity="0.77"/><rect x="308.4" y="497.6" width="0.8" height="0.8" fill="#000" opacity="0.51"/><rect x="313.4" y="497.2" width="0.8" height="0.8" fill="#000" opacity="0.45"/><rect x="315.8" y="488.4" width="0.8" height="0.8" fill="#000" opacity="0.69"/><rect x="313.7" y="493.1" width="0.8" height="0.8" fill="#000" opacity="0.32"/><rect x="300.5" y="493.5" width="0.8" height="0.8" fill="#000" opacity="0.37"/><rect x="316.3" y="494.5" width="0.8" height="0.8" fill="#000" opacity="0.53"/><rect x="306.5" y="497.9" width="0.8" height="0.8" fill="#000" opacity="0.44"/><rect x="314.3" y="496.6" width="0.8" height="0.8" fill="#000" opacity="0.76"/><rect x="309.8" y="485.4" width="0.8" height="0.8" fill="#000" opacity="0.60"/><rect x="311.9" y="485.5" width="0.8" height="0.8" fill="#000" opacity="0.69"/><rect x="315.4" y="491.9" width="0.8" height="0.8" fill="#000" opacity="0.67"/><rect x="300.6" y="494.1" width="0.8" height="0.8" fill="#000" opacity="0.79"/><rect x="309.9" y="484.8" width="0.8" height="0.8" fill="#000" opacity="0.66"/><rect x="311.3" y="498.3" width="0.8" height="0.8" fill="#000" opacity="0.66"/><rect x="300.3" y="486.9" width="0.8" height="0.8" fill="#000" opacity="0.71"/><rect x="301.0" y="494.7" width="0.8" height="0.8" fill="#000" opacity="0.38"/><rect x="312.5" y="498.2" width="0.8" height="0.8" fill="#000" opacity="0.33"/><rect x="315.4" y="489.6" width="0.8" height="0.8" fill="#000" opacity="0.34"/><rect x="316.4" y="488.2" width="0.8" height="0.8" fill="#000" opacity="0.42"/><rect x="300.0" y="488.7" width="0.8" height="0.8" fill="#000" opacity="0.37"/><rect x="315.6" y="495.3" width="0.8" height="0.8" fill="#000" opacity="0.41"/><rect x="309.1" y="497.7" width="0.8" height="0.8" fill="#000" opacity="0.44"/><rect x="314.0" y="489.0" width="0.8" height="0.8" fill="#000" opacity="0.39"/><rect x="315.5" y="494.2" width="0.8" height="0.8" fill="#000" opacity="0.35"/><rect x="311.1" y="483.2" width="0.8" height="0.8" fill="#000" opacity="0.44"/><rect x="299.2" y="491.8" width="0.8" height="0.8" fill="#000" opacity="0.76"/><rect x="314.6" y="491.3" width="0.8" height="0.8" fill="#000" opacity="0.72"/><rect x="316.2" y="493.3" width="0.8" height="0.8" fill="#000" opacity="0.47"/><rect x="313.9" y="490.8" width="0.8" height="0.8" fill="#000" opacity="0.40"/><rect x="300.1" y="495.6" width="0.8" height="0.8" fill="#000" opacity="0.69"/><rect x="311.7" y="496.0" width="0.8" height="0.8" fill="#000" opacity="0.42"/><rect x="315.0" y="496.6" width="0.8" height="0.8" fill="#000" opacity="0.56"/><rect x="309.3" y="498.1" width="0.8" height="0.8" fill="#000" opacity="0.43"/><rect x="299.5" y="493.4" width="0.8" height="0.8" fill="#000" opacity="0.61"/><rect x="308.9" y="499.3" width="0.8" height="0.8" fill="#000" opacity="0.76"/><rect x="307.2" y="484.9" width="0.8" height="0.8" fill="#000" opacity="0.54"/><rect x="310.0" y="485.5" width="0.8" height="0.8" fill="#000" opacity="0.77"/><rect x="312.5" y="495.5" width="0.8" height="0.8" fill="#000" opacity="0.30"/><rect x="311.4" y="486.4" width="0.8" height="0.8" fill="#000" opacity="0.54"/><rect x="299.9" y="487.2" width="0.8" height="0.8" fill="#000" opacity="0.80"/><rect x="301.4" y="487.7" width="0.8" height="0.8" fill="#000" opacity="0.50"/><rect x="312.3" y="498.7" width="0.8" height="0.8" fill="#000" opacity="0.41"/><rect x="302.7" y="484.9" width="0.8" height="0.8" fill="#000" opacity="0.52"/><rect x="299.6" y="489.7" width="0.8" height="0.8" fill="#000" opacity="0.62"/><rect x="299.4" y="486.3" width="0.8" height="0.8" fill="#000" opacity="0.71"/><rect x="314.7" y="496.3" width="0.8" height="0.8" fill="#000" opacity="0.46"/><rect x="315.5" y="490.0" width="0.8" height="0.8" fill="#000" opacity="0.40"/><rect x="299.7" y="487.3" width="0.8" height="0.8" fill="#000" opacity="0.70"/><rect x="302.4" y="497.6" width="0.8" height="0.8" fill="#000" opacity="0.31"/><rect x="306.8" y="484.9" width="0.8" height="0.8" fill="#000" opacity="0.74"/><rect x="300.5" y="496.4" width="0.8" height="0.8" fill="#000" opacity="0.35"/><rect x="311.7" y="497.8" width="0.8" height="0.8" fill="#000" opacity="0.45"/><rect x="315.8" y="490.2" width="0.8" height="0.8" fill="#000" opacity="0.31"/><rect x="302.9" y="485.2" width="0.8" height="0.8" fill="#000" opacity="0.39"/><rect x="300.6" y="497.9" width="0.8" height="0.8" fill="#000" opacity="0.70"/><rect x="299.8" y="490.6" width="0.8" height="0.8" fill="#000" opacity="0.65"/><rect x="312.9" y="485.1" width="0.8" height="0.8" fill="#000" opacity="0.45"/><rect x="299.9" y="492.3" width="0.8" height="0.8" fill="#000" opacity="0.42"/><rect x="316.1" y="494.9" width="0.8" height="0.8" fill="#000" opacity="0.66"/><rect x="304.2" y="484.2" width="0.8" height="0.8" fill="#000" opacity="0.43"/><rect x="301.5" y="496.0" width="0.8" height="0.8" fill="#000" opacity="0.59"/><rect x="302.6" y="485.7" width="0.8" height="0.8" fill="#000" opacity="0.36"/><rect x="307.3" y="482.2" width="0.8" height="0.8" fill="#000" opacity="0.66"/><rect x="311.0" y="483.8" width="0.8" height="0.8" fill="#000" opacity="0.49"/><rect x="299.8" y="487.6" width="0.8" height="0.8" fill="#000" opacity="0.79"/><rect x="314.7" y="497.2" width="0.8" height="0.8" fill="#000" opacity="0.36"/><rect x="304.1" y="498.7" width="0.8" height="0.8" fill="#000" opacity="0.77"/><rect x="313.7" y="485.5" width="0.8" height="0.8" fill="#000" opacity="0.62"/><rect x="307.2" y="484.2" width="0.8" height="0.8" fill="#000" opacity="0.32"/><rect x="300.7" y="487.7" width="0.8" height="0.8" fill="#000" opacity="0.53"/><rect x="308.1" y="482.3" width="0.8" height="0.8" fill="#000" opacity="0.36"/><rect x="313.7" y="488.1" width="0.8" height="0.8" fill="#000" opacity="0.56"/><rect x="309.8" y="483.5" width="0.8" height="0.8" fill="#000" opacity="0.49"/><rect x="312.8" y="487.1" width="0.8" height="0.8" fill="#000" opacity="0.71"/><rect x="316.5" y="490.6" width="0.8" height="0.8" fill="#000" opacity="0.36"/><rect x="301.6" y="495.5" width="0.8" height="0.8" fill="#000" opacity="0.47"/><rect x="301.1" y="495.2" width="0.8" height="0.8" fill="#000" opacity="0.53"/><rect x="311.5" y="484.3" width="0.8" height="0.8" fill="#000" opacity="0.45"/><rect x="312.2" y="495.8" width="0.8" height="0.8" fill="#000" opacity="0.71"/><rect x="306.5" y="499.1" width="0.8" height="0.8" fill="#000" opacity="0.40"/><rect x="304.8" y="485.2" width="0.8" height="0.8" fill="#000" opacity="0.54"/><rect x="299.2" y="494.2" width="0.8" height="0.8" fill="#000" opacity="0.40"/><rect x="303.0" y="483.1" width="0.8" height="0.8" fill="#000" opacity="0.41"/><rect x="313.9" y="494.4" width="0.8" height="0.8" fill="#000" opacity="0.47"/><rect x="311.5" y="486.6" width="0.8" height="0.8" fill="#000" opacity="0.32"/><rect x="309.1" y="499.3" width="0.8" height="0.8" fill="#000" opacity="0.50"/><rect x="314.3" y="489.9" width="0.8" height="0.8" fill="#000" opacity="0.56"/><rect x="312.0" y="496.0" width="0.8" height="0.8" fill="#000" opacity="0.78"/><rect x="313.9" y="485.8" width="0.8" height="0.8" fill="#000" opacity="0.55"/><rect x="303.4" y="485.3" width="0.8" height="0.8" fill="#000" opacity="0.39"/><rect x="308.5" y="498.1" width="0.8" height="0.8" fill="#000" opacity="0.50"/><rect x="299.3" y="491.2" width="0.8" height="0.8" fill="#000" opacity="0.48"/><rect x="309.9" y="483.2" width="0.8" height="0.8" fill="#000" opacity="0.43"/><rect x="300.4" y="488.8" width="0.8" height="0.8" fill="#000" opacity="0.61"/><rect x="301.7" y="486.7" width="0.8" height="0.8" fill="#000" opacity="0.72"/><rect x="299.4" y="485.5" width="0.8" height="0.8" fill="#000" opacity="0.43"/><rect x="312.3" y="498.2" width="0.8" height="0.8" fill="#000" opacity="0.68"/><rect x="308.0" y="498.7" width="0.8" height="0.8" fill="#000" opacity="0.39"/><rect x="306.3" y="498.5" width="0.8" height="0.8" fill="#000" opacity="0.73"/><rect x="315.4" y="490.7" width="0.8" height="0.8" fill="#000" opacity="0.58"/><rect x="315.2" y="486.6" width="0.8" height="0.8" fill="#000" opacity="0.58"/><rect x="302.5" y="483.2" width="0.8" height="0.8" fill="#000" opacity="0.35"/><rect x="306.2" y="482.8" width="0.8" height="0.8" fill="#000" opacity="0.48"/><rect x="314.9" y="491.7" width="0.8" height="0.8" fill="#000" opacity="0.79"/><rect x="307.5" y="484.1" width="0.8" height="0.8" fill="#000" opacity="0.73"/><rect x="314.9" y="495.6" width="0.8" height="0.8" fill="#000" opacity="0.58"/><rect x="314.7" y="490.7" width="0.8" height="0.8" fill="#000" opacity="0.47"/><rect x="302.1" y="497.3" width="0.8" height="0.8" fill="#000" opacity="0.53"/><rect x="309.9" y="498.3" width="0.8" height="0.8" fill="#000" opacity="0.33"/><rect x="300.3" y="485.2" width="0.8" height="0.8" fill="#000" opacity="0.46"/><rect x="311.7" y="484.3" width="0.8" height="0.8" fill="#000" opacity="0.59"/><rect x="315.1" y="489.7" width="0.8" height="0.8" fill="#000" opacity="0.61"/><rect x="312.9" y="486.5" width="0.8" height="0.8" fill="#000" opacity="0.51"/><rect x="302.2" y="484.3" width="0.8" height="0.8" fill="#000" opacity="0.65"/><rect x="300.6" y="495.2" width="0.8" height="0.8" fill="#000" opacity="0.68"/><rect x="305.5" y="483.7" width="0.8" height="0.8" fill="#000" opacity="0.43"/><rect x="314.6" y="494.6" width="0.8" height="0.8" fill="#000" opacity="0.75"/><rect x="313.2" y="485.1" width="0.8" height="0.8" fill="#000" opacity="0.51"/><rect x="313.5" y="484.8" width="0.8" height="0.8" fill="#000" opacity="0.45"/><rect x="299.2" y="489.7" width="0.8" height="0.8" fill="#000" opacity="0.40"/><rect x="299.5" y="491.7" width="0.8" height="0.8" fill="#000" opacity="0.77"/><rect x="314.6" y="490.3" width="0.8" height="0.8" fill="#000" opacity="0.38"/><rect x="310.1" y="499.7" width="0.8" height="0.8" fill="#000" opacity="0.46"/><rect x="311.5" y="483.2" width="0.8" height="0.8" fill="#000" opacity="0.47"/><rect x="311.0" y="485.9" width="0.8" height="0.8" fill="#000" opacity="0.32"/><rect x="303.4" y="485.0" width="0.8" height="0.8" fill="#000" opacity="0.42"/><rect x="307.4" y="484.8" width="0.8" height="0.8" fill="#000" opacity="0.55"/><rect x="314.2" y="492.9" width="0.8" height="0.8" fill="#000" opacity="0.36"/><rect x="311.2" y="499.3" width="0.8" height="0.8" fill="#000" opacity="0.31"/><rect x="300.0" y="491.9" width="0.8" height="0.8" fill="#000" opacity="0.31"/><rect x="314.5" y="487.9" width="0.8" height="0.8" fill="#000" opacity="0.73"/><rect x="301.1" y="485.6" width="0.8" height="0.8" fill="#000" opacity="0.68"/><rect x="314.5" y="491.5" width="0.8" height="0.8" fill="#000" opacity="0.64"/><rect x="314.4" y="491.0" width="0.8" height="0.8" fill="#000" opacity="0.50"/><rect x="303.3" y="484.2" width="0.8" height="0.8" fill="#000" opacity="0.67"/><rect x="314.3" y="493.3" width="0.8" height="0.8" fill="#000" opacity="0.64"/><rect x="306.6" y="483.2" width="0.8" height="0.8" fill="#000" opacity="0.70"/><rect x="309.2" y="485.4" width="0.8" height="0.8" fill="#000" opacity="0.45"/><rect x="313.5" y="494.2" width="0.8" height="0.8" fill="#000" opacity="0.66"/><rect x="299.7" y="497.0" width="0.8" height="0.8" fill="#000" opacity="0.31"/><rect x="301.0" y="497.4" width="0.8" height="0.8" fill="#000" opacity="0.73"/><rect x="309.6" y="484.6" width="0.8" height="0.8" fill="#000" opacity="0.52"/><rect x="308.1" y="483.6" width="0.8" height="0.8" fill="#000" opacity="0.51"/><rect x="314.2" y="489.0" width="0.8" height="0.8" fill="#000" opacity="0.65"/><rect x="301.6" y="497.7" width="0.8" height="0.8" fill="#000" opacity="0.68"/><rect x="314.2" y="485.8" width="0.8" height="0.8" fill="#000" opacity="0.55"/><rect x="299.1" y="487.3" width="0.8" height="0.8" fill="#000" opacity="0.68"/><rect x="313.1" y="488.4" width="0.8" height="0.8" fill="#000" opacity="0.31"/><rect x="315.6" y="489.3" width="0.8" height="0.8" fill="#000" opacity="0.35"/><rect x="304.7" y="497.6" width="0.8" height="0.8" fill="#000" opacity="0.46"/><rect x="312.8" y="497.7" width="0.8" height="0.8" fill="#000" opacity="0.38"/><rect x="300.3" y="493.1" width="0.8" height="0.8" fill="#000" opacity="0.50"/><rect x="306.5" y="499.1" width="0.8" height="0.8" fill="#000" opacity="0.43"/><rect x="308.7" y="498.4" width="0.8" height="0.8" fill="#000" opacity="0.77"/><rect x="314.3" y="490.9" width="0.8" height="0.8" fill="#000" opacity="0.67"/><rect x="314.3" y="493.8" width="0.8" height="0.8" fill="#000" opacity="0.69"/><rect x="305.7" y="483.1" width="0.8" height="0.8" fill="#000" opacity="0.55"/><rect x="300.5" y="493.5" width="0.8" height="0.8" fill="#000" opacity="0.63"/><rect x="301.9" y="485.7" width="0.8" height="0.8" fill="#000" opacity="0.37"/><rect x="306.5" y="499.8" width="0.8" height="0.8" fill="#000" opacity="0.34"/><rect x="299.5" y="486.4" width="0.8" height="0.8" fill="#000" opacity="0.67"/><rect x="300.8" y="497.2" width="0.8" height="0.8" fill="#000" opacity="0.41"/><rect x="305.8" y="499.3" width="0.8" height="0.8" fill="#000" opacity="0.36"/><rect x="313.7" y="492.8" width="0.8" height="0.8" fill="#000" opacity="0.71"/><rect x="309.8" y="482.6" width="0.8" height="0.8" fill="#000" opacity="0.36"/><rect x="311.7" y="484.7" width="0.8" height="0.8" fill="#000" opacity="0.58"/><rect x="310.4" y="497.9" width="0.8" height="0.8" fill="#000" opacity="0.39"/><rect x="316.0" y="492.3" width="0.8" height="0.8" fill="#000" opacity="0.35"/><rect x="314.9" y="495.7" width="0.8" height="0.8" fill="#000" opacity="0.71"/><rect x="313.6" y="495.8" width="0.8" height="0.8" fill="#000" opacity="0.38"/><rect x="302.5" y="497.6" width="0.8" height="0.8" fill="#000" opacity="0.44"/><rect x="302.5" y="497.6" width="0.8" height="0.8" fill="#000" opacity="0.66"/><rect x="309.2" y="497.7" width="0.8" height="0.8" fill="#000" opacity="0.53"/><rect x="304.9" y="497.9" width="0.8" height="0.8" fill="#000" opacity="0.38"/><rect x="310.8" y="483.5" width="0.8" height="0.8" fill="#000" opacity="0.36"/><rect x="302.3" y="485.1" width="0.8" height="0.8" fill="#000" opacity="0.33"/><rect x="315.9" y="495.5" width="0.8" height="0.8" fill="#000" opacity="0.35"/><rect x="307.0" y="483.0" width="0.8" height="0.8" fill="#000" opacity="0.34"/><rect x="301.8" y="495.7" width="0.8" height="0.8" fill="#000" opacity="0.66"/><rect x="309.0" y="484.7" width="0.8" height="0.8" fill="#000" opacity="0.59"/><rect x="307.1" y="498.6" width="0.8" height="0.8" fill="#000" opacity="0.39"/><rect x="303.6" y="497.2" width="0.8" height="0.8" fill="#000" opacity="0.31"/><rect x="299.5" y="496.6" width="0.8" height="0.8" fill="#000" opacity="0.61"/><rect x="302.6" y="484.9" width="0.8" height="0.8" fill="#000" opacity="0.38"/><rect x="306.7" y="497.8" width="0.8" height="0.8" fill="#000" opacity="0.60"/><rect x="311.7" y="498.2" width="0.8" height="0.8" fill="#000" opacity="0.31"/><rect x="306.0" y="484.4" width="0.8" height="0.8" fill="#000" opacity="0.38"/><rect x="299.8" y="493.1" width="0.8" height="0.8" fill="#000" opacity="0.69"/><rect x="302.4" y="485.0" width="0.8" height="0.8" fill="#000" opacity="0.57"/><rect x="307.9" y="483.2" width="0.8" height="0.8" fill="#000" opacity="0.51"/><rect x="299.3" y="488.7" width="0.8" height="0.8" fill="#000" opacity="0.62"/><rect x="310.3" y="483.4" width="0.8" height="0.8" fill="#000" opacity="0.78"/><rect x="313.9" y="492.2" width="0.8" height="0.8" fill="#000" opacity="0.36"/><rect x="314.6" y="489.0" width="0.8" height="0.8" fill="#000" opacity="0.55"/><rect x="299.1" y="493.7" width="0.8" height="0.8" fill="#000" opacity="0.64"/><rect x="301.7" y="486.5" width="0.8" height="0.8" fill="#000" opacity="0.54"/><rect x="311.8" y="485.2" width="0.8" height="0.8" fill="#000" opacity="0.53"/><rect x="305.0" y="498.5" width="0.8" height="0.8" fill="#000" opacity="0.49"/><rect x="310.3" y="498.7" width="0.8" height="0.8" fill="#000" opacity="0.33"/><rect x="307.2" y="497.6" width="0.8" height="0.8" fill="#000" opacity="0.70"/><rect x="299.8" y="494.5" width="0.8" height="0.8" fill="#000" opacity="0.73"/><rect x="307.1" y="484.4" width="0.8" height="0.8" fill="#000" opacity="0.62"/><rect x="305.8" y="498.5" width="0.8" height="0.8" fill="#000" opacity="0.35"/><rect x="306.7" y="498.5" width="0.8" height="0.8" fill="#000" opacity="0.42"/><rect x="303.0" y="483.2" width="0.8" height="0.8" fill="#000" opacity="0.73"/><rect x="307.7" y="482.8" width="0.8" height="0.8" fill="#000" opacity="0.50"/><rect x="303.5" y="499.5" width="0.8" height="0.8" fill="#000" opacity="0.79"/><rect x="305.5" y="484.5" width="0.8" height="0.8" fill="#000" opacity="0.33"/><rect x="302.5" y="486.4" width="0.8" height="0.8" fill="#000" opacity="0.73"/><rect x="310.3" y="497.7" width="0.8" height="0.8" fill="#000" opacity="0.35"/><rect x="308.3" y="484.7" width="0.8" height="0.8" fill="#000" opacity="0.38"/><rect x="302.5" y="496.4" width="0.8" height="0.8" fill="#000" opacity="0.34"/><rect x="314.0" y="487.6" width="0.8" height="0.8" fill="#000" opacity="0.42"/><rect x="311.2" y="498.7" width="0.8" height="0.8" fill="#000" opacity="0.32"/><rect x="299.3" y="489.6" width="0.8" height="0.8" fill="#000" opacity="0.76"/><rect x="315.7" y="494.1" width="0.8" height="0.8" fill="#000" opacity="0.38"/><rect x="313.7" y="493.5" width="0.8" height="0.8" fill="#000" opacity="0.44"/></g><path d="M303.0,487.0 C304.5,485.5 306.3,484.5 308.0,484.0 C309.7,483.5 311.8,483.3 313.0,484.0 C314.2,484.7 314.9,486.2 315.0,488.0 C315.1,489.8 314.7,493.2 313.5,495.0 C312.3,496.8 310.2,498.0 308.0,498.6 C305.8,499.2 302.0,499.5 300.5,498.6 C299.0,497.7 298.6,494.9 299.0,493.0 C299.4,491.1 301.5,488.5 303.0,487.0 Z" fill="#000" fill-opacity="0.9" filter="url(#bl)"/><g><rect x="306.8" y="488.2" width="0.9" height="0.9" fill="#fff" opacity="0.09"/><rect x="302.3" y="494.9" width="0.9" height="0.9" fill="#fff" opacity="0.27"/><rect x="304.3" y="494.4" width="0.9" height="0.9" fill="#fff" opacity="0.22"/><rect x="311.5" y="496.2" width="0.9" height="0.9" fill="#fff" opacity="0.19"/><rect x="303.6" y="490.2" width="0.9" height="0.9" fill="#fff" opacity="0.18"/><rect x="301.4" y="488.9" width="0.9" height="0.9" fill="#fff" opacity="0.08"/><rect x="309.8" y="488.2" width="0.9" height="0.9" fill="#fff" opacity="0.09"/><rect x="304.2" y="492.7" width="0.9" height="0.9" fill="#fff" opacity="0.22"/><rect x="305.3" y="489.9" width="0.9" height="0.9" fill="#fff" opacity="0.06"/><rect x="306.7" y="492.8" width="0.9" height="0.9" fill="#fff" opacity="0.19"/><rect x="308.7" y="491.9" width="0.9" height="0.9" fill="#fff" opacity="0.26"/><rect x="311.7" y="491.3" width="0.9" height="0.9" fill="#fff" opacity="0.26"/><rect x="302.7" y="487.6" width="0.9" height="0.9" fill="#fff" opacity="0.27"/><rect x="304.8" y="489.8" width="0.9" height="0.9" fill="#fff" opacity="0.08"/><rect x="308.0" y="493.9" width="0.9" height="0.9" fill="#fff" opacity="0.07"/><rect x="304.3" y="486.0" width="0.9" height="0.9" fill="#fff" opacity="0.16"/><rect x="303.6" y="492.3" width="0.9" height="0.9" fill="#fff" opacity="0.22"/><rect x="306.0" y="491.2" width="0.9" height="0.9" fill="#fff" opacity="0.29"/><rect x="309.2" y="486.6" width="0.9" height="0.9" fill="#fff" opacity="0.24"/><rect x="306.5" y="495.8" width="0.9" height="0.9" fill="#fff" opacity="0.09"/><rect x="306.7" y="496.9" width="0.9" height="0.9" fill="#fff" opacity="0.25"/><rect x="311.3" y="496.1" width="0.9" height="0.9" fill="#fff" opacity="0.27"/><rect x="309.2" y="486.1" width="0.9" height="0.9" fill="#fff" opacity="0.23"/><rect x="306.9" y="486.4" width="0.9" height="0.9" fill="#fff" opacity="0.08"/><rect x="312.5" y="485.5" width="0.9" height="0.9" fill="#fff" opacity="0.11"/><rect x="310.9" y="496.7" width="0.9" height="0.9" fill="#fff" opacity="0.11"/><rect x="313.0" y="492.6" width="0.9" height="0.9" fill="#fff" opacity="0.16"/><rect x="306.9" y="490.8" width="0.9" height="0.9" fill="#fff" opacity="0.19"/><rect x="302.2" y="495.1" width="0.9" height="0.9" fill="#fff" opacity="0.15"/><rect x="305.3" y="487.7" width="0.9" height="0.9" fill="#fff" opacity="0.10"/><rect x="308.1" y="496.2" width="0.9" height="0.9" fill="#fff" opacity="0.09"/><rect x="310.2" y="495.6" width="0.9" height="0.9" fill="#fff" opacity="0.19"/><rect x="311.9" y="496.0" width="0.9" height="0.9" fill="#fff" opacity="0.21"/><rect x="310.5" y="490.7" width="0.9" height="0.9" fill="#fff" opacity="0.08"/><rect x="306.0" y="490.8" width="0.9" height="0.9" fill="#fff" opacity="0.11"/><rect x="303.3" y="490.4" width="0.9" height="0.9" fill="#fff" opacity="0.29"/><rect x="313.3" y="487.4" width="0.9" height="0.9" fill="#fff" opacity="0.26"/><rect x="304.4" y="490.2" width="0.9" height="0.9" fill="#fff" opacity="0.27"/><rect x="309.3" y="495.6" width="0.9" height="0.9" fill="#fff" opacity="0.08"/><rect x="306.8" y="488.0" width="0.9" height="0.9" fill="#fff" opacity="0.23"/><rect x="301.0" y="490.5" width="0.9" height="0.9" fill="#fff" opacity="0.23"/><rect x="309.0" y="492.2" width="0.9" height="0.9" fill="#fff" opacity="0.30"/><rect x="302.9" y="491.8" width="0.9" height="0.9" fill="#fff" opacity="0.10"/><rect x="304.2" y="492.9" width="0.9" height="0.9" fill="#fff" opacity="0.20"/><rect x="306.1" y="486.5" width="0.9" height="0.9" fill="#fff" opacity="0.17"/><rect x="307.7" y="493.0" width="0.9" height="0.9" fill="#fff" opacity="0.21"/><rect x="304.1" y="492.2" width="0.9" height="0.9" fill="#fff" opacity="0.22"/><rect x="304.4" y="495.3" width="0.9" height="0.9" fill="#fff" opacity="0.09"/><rect x="313.3" y="496.7" width="0.9" height="0.9" fill="#fff" opacity="0.30"/><rect x="300.7" y="490.2" width="0.9" height="0.9" fill="#fff" opacity="0.07"/><rect x="309.8" y="492.3" width="0.9" height="0.9" fill="#fff" opacity="0.23"/><rect x="309.8" y="485.6" width="0.9" height="0.9" fill="#fff" opacity="0.26"/><rect x="312.8" y="492.6" width="0.9" height="0.9" fill="#fff" opacity="0.12"/><rect x="312.8" y="491.8" width="0.9" height="0.9" fill="#fff" opacity="0.28"/><rect x="308.5" y="496.9" width="0.9" height="0.9" fill="#fff" opacity="0.18"/><rect x="303.8" y="485.6" width="0.9" height="0.9" fill="#fff" opacity="0.08"/><rect x="303.8" y="489.0" width="0.9" height="0.9" fill="#fff" opacity="0.28"/><rect x="302.3" y="488.7" width="0.9" height="0.9" fill="#fff" opacity="0.19"/><rect x="306.6" y="490.7" width="0.9" height="0.9" fill="#fff" opacity="0.06"/><rect x="302.3" y="488.9" width="0.9" height="0.9" fill="#fff" opacity="0.26"/><rect x="308.7" y="494.6" width="0.9" height="0.9" fill="#fff" opacity="0.09"/><rect x="313.0" y="495.2" width="0.9" height="0.9" fill="#fff" opacity="0.16"/><rect x="312.9" y="491.0" width="0.9" height="0.9" fill="#fff" opacity="0.13"/><rect x="309.9" y="487.3" width="0.9" height="0.9" fill="#fff" opacity="0.23"/><rect x="302.9" y="496.3" width="0.9" height="0.9" fill="#fff" opacity="0.21"/><rect x="311.7" y="495.9" width="0.9" height="0.9" fill="#fff" opacity="0.22"/><rect x="308.1" y="488.1" width="0.9" height="0.9" fill="#fff" opacity="0.24"/><rect x="311.0" y="490.7" width="0.9" height="0.9" fill="#fff" opacity="0.06"/><rect x="304.2" y="492.4" width="0.9" height="0.9" fill="#fff" opacity="0.21"/><rect x="311.5" y="485.6" width="0.9" height="0.9" fill="#fff" opacity="0.21"/><rect x="304.1" y="488.9" width="0.9" height="0.9" fill="#fff" opacity="0.24"/><rect x="306.0" y="490.8" width="0.9" height="0.9" fill="#fff" opacity="0.21"/><rect x="311.4" y="496.8" width="0.9" height="0.9" fill="#fff" opacity="0.13"/><rect x="306.6" y="487.0" width="0.9" height="0.9" fill="#fff" opacity="0.12"/><rect x="308.2" y="490.9" width="0.9" height="0.9" fill="#fff" opacity="0.13"/><rect x="308.9" y="495.4" width="0.9" height="0.9" fill="#fff" opacity="0.13"/><rect x="305.8" y="492.1" width="0.9" height="0.9" fill="#fff" opacity="0.29"/><rect x="308.5" y="487.7" width="0.9" height="0.9" fill="#fff" opacity="0.15"/><rect x="304.0" y="490.0" width="0.9" height="0.9" fill="#fff" opacity="0.19"/><rect x="305.8" y="488.9" width="0.9" height="0.9" fill="#fff" opacity="0.10"/><rect x="303.4" y="491.3" width="0.9" height="0.9" fill="#fff" opacity="0.08"/><rect x="303.5" y="495.5" width="0.9" height="0.9" fill="#fff" opacity="0.09"/><rect x="311.6" y="492.0" width="0.9" height="0.9" fill="#fff" opacity="0.13"/><rect x="305.5" y="487.1" width="0.9" height="0.9" fill="#fff" opacity="0.25"/><rect x="304.0" y="491.5" width="0.9" height="0.9" fill="#fff" opacity="0.26"/><rect x="308.2" y="489.9" width="0.9" height="0.9" fill="#fff" opacity="0.22"/><rect x="311.6" y="491.4" width="0.9" height="0.9" fill="#fff" opacity="0.16"/><rect x="307.9" y="487.2" width="0.9" height="0.9" fill="#fff" opacity="0.25"/><rect x="308.2" y="487.3" width="0.9" height="0.9" fill="#fff" opacity="0.09"/><rect x="310.9" y="496.4" width="0.9" height="0.9" fill="#fff" opacity="0.15"/></g><text x="326.4" y="479.2" font-size="10" text-anchor="middle" font-weight="normal" fill="#111" stroke="#111" stroke-width="0.25">5.5</text><text x="96.0" y="522.4" font-size="4" text-anchor="end" fill="#777" transform="rotate(-55 95.5 521.4)">10<tspan font-size="2.6" dy="-1.2">4</tspan></text><text x="96.0" y="535.3333333333334" font-size="4" text-anchor="end" fill="#777" transform="rotate(-55 95.5 534.3333333333334)">10<tspan font-size="2.6" dy="-1.2">3</tspan></text><text x="96.0" y="548.2666666666667" font-size="4" text-anchor="end" fill="#777" transform="rotate(-55 95.5 547.2666666666667)">10<tspan font-size="2.6" dy="-1.2">2</tspan></text><text x="96.0" y="561.2" font-size="4" text-anchor="end" fill="#777" transform="rotate(-55 95.5 560.2)">10<tspan font-size="2.6" dy="-1.2">1</tspan></text><text x="88.0" y="534.8" font-size="2.8" text-anchor="middle" fill="#aaa" transform="rotate(-90 88.0 534.8)">YFP-A :: CD69</text><text x="100.5" y="564.7" font-size="4" text-anchor="end" fill="#777" transform="rotate(-55 99.5 563.2)">10<tspan font-size="2.6" dy="-1.2">0</tspan></text><text x="113.1" y="564.7" font-size="4" text-anchor="end" fill="#777" transform="rotate(-55 112.1 563.2)">10<tspan font-size="2.6" dy="-1.2">1</tspan></text><text x="125.7" y="564.7" font-size="4" text-anchor="end" fill="#777" transform="rotate(-55 124.7 563.2)">10<tspan font-size="2.6" dy="-1.2">2</tspan></text><text x="138.3" y="564.7" font-size="4" text-anchor="end" fill="#777" transform="rotate(-55 137.3 563.2)">10<tspan font-size="2.6" dy="-1.2">3</tspan></text><text x="122.0" y="570.2" font-size="2.8" text-anchor="middle" fill="#999">Alexa YFP-A</text><rect x="98.5" y="509.4" width="51.099999999999994" height="50.80000000000007" fill="none" stroke="#aaa" stroke-width="0.9"/><rect x="99.5" y="511.7" width="49.099999999999994" height="22.7" fill="none" stroke="#999" stroke-width="0.9"/><path d="M114.2,519.6 C115.6,517.7 118.9,518.3 121.1,518.8 C123.4,519.2 125.4,520.7 127.8,522.2 C130.1,523.8 134.2,525.4 135.0,528.0 C135.9,530.6 134.6,534.6 133.0,537.8 C131.4,540.9 127.9,544.5 125.6,546.9 C123.3,549.3 120.9,552.5 119.1,552.0 C117.3,551.4 115.8,547.5 114.7,543.8 C113.7,540.1 112.9,533.7 112.8,529.6 C112.7,525.6 112.8,521.4 114.2,519.6 Z" fill="#000" fill-opacity="0.04" stroke="#666" stroke-width="0.45" stroke-opacity="0.8"/><path d="M115.1,521.6 C116.3,520.0 118.7,520.7 120.4,521.0 C122.2,521.3 123.8,522.2 125.6,523.4 C127.5,524.6 130.9,526.0 131.7,528.3 C132.5,530.5 131.8,534.1 130.5,536.8 C129.3,539.6 126.1,542.6 124.1,544.7 C122.0,546.8 119.7,549.7 118.2,549.2 C116.6,548.8 115.5,545.2 114.7,542.0 C113.9,538.8 113.3,533.6 113.3,530.2 C113.4,526.8 113.9,523.1 115.1,521.6 Z" fill="#000" fill-opacity="0.06" stroke="#666" stroke-width="0.45" stroke-opacity="0.8"/><path d="M114.7,523.0 C115.6,521.7 118.0,522.4 119.6,522.8 C121.2,523.1 122.7,523.8 124.2,524.9 C125.8,526.0 128.4,527.6 128.9,529.5 C129.5,531.3 128.6,534.0 127.6,536.1 C126.5,538.2 124.4,540.5 122.7,542.1 C121.1,543.7 118.9,545.9 117.6,545.5 C116.4,545.1 115.8,542.1 115.2,539.7 C114.6,537.2 114.3,533.6 114.3,530.8 C114.2,528.0 113.8,524.3 114.7,523.0 Z" fill="#000" fill-opacity="0.08" stroke="#666" stroke-width="0.45" stroke-opacity="0.8"/><path d="M115.1,525.2 C115.7,524.3 117.2,524.7 118.4,525.0 C119.6,525.2 121.3,525.8 122.4,526.6 C123.5,527.3 124.7,528.0 125.1,529.4 C125.5,530.8 125.4,533.5 124.7,535.2 C124.0,536.9 122.2,538.2 121.0,539.4 C119.8,540.5 118.5,542.5 117.5,542.3 C116.5,542.0 115.4,539.8 114.9,537.9 C114.4,536.0 114.4,533.0 114.4,530.8 C114.4,528.7 114.4,526.2 115.1,525.2 Z" fill="#000" fill-opacity="0.10" stroke="#666" stroke-width="0.45" stroke-opacity="0.8"/><path d="M115.1,527.1 C115.5,526.4 116.7,527.3 117.5,527.5 C118.3,527.7 119.1,527.9 119.9,528.3 C120.7,528.7 121.9,529.0 122.2,530.0 C122.4,530.9 121.8,532.9 121.4,534.0 C120.9,535.1 120.3,535.9 119.5,536.7 C118.8,537.5 117.7,538.9 117.0,538.8 C116.4,538.7 116.1,537.4 115.7,536.2 C115.3,534.9 114.9,532.9 114.8,531.4 C114.7,529.9 114.6,527.7 115.1,527.1 Z" fill="#000" fill-opacity="0.12" stroke="#666" stroke-width="0.45" stroke-opacity="0.8"/><defs><radialGradient id="cg21"><stop offset="0" stop-color="#000" stop-opacity="0.75"/><stop offset="0.6" stop-color="#222" stop-opacity="0.5"/><stop offset="1" stop-color="#555" stop-opacity="0"/></radialGradient></defs><ellipse cx="115.8" cy="531.5" rx="3.3600000000000003" ry="10.799999999999999" fill="url(#cg21)"/><ellipse cx="138.2" cy="557.5" rx="3.4" ry="2" fill="#999" opacity="0.6"/><line x1="98.5" y1="534.4" x2="149.6" y2="534.4" stroke="#777" stroke-width="1"/><text x="148.3" y="519.6" font-size="10.5" text-anchor="end" font-weight="normal" fill="#111" stroke="#111" stroke-width="0.2">66.2</text><text x="162.9" y="522.4" font-size="4" text-anchor="end" fill="#777" transform="rotate(-55 162.4 521.4)">10<tspan font-size="2.6" dy="-1.2">4</tspan></text><text x="162.9" y="535.3333333333334" font-size="4" text-anchor="end" fill="#777" transform="rotate(-55 162.4 534.3333333333334)">10<tspan font-size="2.6" dy="-1.2">3</tspan></text><text x="162.9" y="548.2666666666667" font-size="4" text-anchor="end" fill="#777" transform="rotate(-55 162.4 547.2666666666667)">10<tspan font-size="2.6" dy="-1.2">2</tspan></text><text x="162.9" y="561.2" font-size="4" text-anchor="end" fill="#777" transform="rotate(-55 162.4 560.2)">10<tspan font-size="2.6" dy="-1.2">1</tspan></text><text x="154.9" y="534.8" font-size="2.8" text-anchor="middle" fill="#aaa" transform="rotate(-90 154.9 534.8)">YFP-A :: CD69</text><text x="167.4" y="564.7" font-size="4" text-anchor="end" fill="#777" transform="rotate(-55 166.4 563.2)">10<tspan font-size="2.6" dy="-1.2">0</tspan></text><text x="180.0" y="564.7" font-size="4" text-anchor="end" fill="#777" transform="rotate(-55 179.0 563.2)">10<tspan font-size="2.6" dy="-1.2">1</tspan></text><text x="192.6" y="564.7" font-size="4" text-anchor="end" fill="#777" transform="rotate(-55 191.6 563.2)">10<tspan font-size="2.6" dy="-1.2">2</tspan></text><text x="205.2" y="564.7" font-size="4" text-anchor="end" fill="#777" transform="rotate(-55 204.2 563.2)">10<tspan font-size="2.6" dy="-1.2">3</tspan></text><text x="188.9" y="570.2" font-size="2.8" text-anchor="middle" fill="#999">Alexa YFP-A</text><rect x="165.4" y="509.4" width="49.79999999999998" height="50.80000000000007" fill="none" stroke="#aaa" stroke-width="0.9"/><rect x="166.4" y="511.7" width="47.79999999999998" height="22.7" fill="none" stroke="#999" stroke-width="0.9"/><path d="M182.4,517.7 C183.7,516.1 186.4,517.4 188.6,517.9 C190.8,518.4 193.9,519.0 195.7,520.7 C197.6,522.4 199.3,525.2 199.6,527.9 C200.0,530.6 199.2,534.0 197.8,536.8 C196.4,539.6 193.5,542.9 191.4,544.9 C189.2,546.8 186.7,549.2 185.1,548.6 C183.5,548.1 182.4,544.8 181.6,541.3 C180.9,537.8 180.5,531.6 180.7,527.6 C180.8,523.7 181.0,519.3 182.4,517.7 Z" fill="#000" fill-opacity="0.04" stroke="#666" stroke-width="0.45" stroke-opacity="0.8"/><path d="M182.7,519.5 C183.8,517.9 186.2,518.3 188.1,518.7 C190.1,519.1 192.8,520.4 194.4,522.0 C195.9,523.5 197.2,525.7 197.4,528.0 C197.6,530.2 197.0,533.0 195.7,535.3 C194.5,537.7 191.9,540.4 190.1,542.1 C188.3,543.7 186.1,545.6 184.7,545.1 C183.3,544.6 182.4,541.7 181.8,538.8 C181.3,536.0 181.4,531.1 181.5,527.9 C181.7,524.6 181.6,521.0 182.7,519.5 Z" fill="#000" fill-opacity="0.06" stroke="#666" stroke-width="0.45" stroke-opacity="0.8"/><path d="M182.5,521.0 C183.5,519.8 186.1,519.9 187.7,520.2 C189.2,520.5 190.8,521.6 191.9,522.8 C193.0,524.1 194.0,526.1 194.2,527.8 C194.4,529.6 194.1,531.7 193.2,533.6 C192.3,535.4 190.1,537.8 188.8,539.1 C187.5,540.3 186.2,541.5 185.2,541.0 C184.1,540.5 183.0,538.5 182.4,536.3 C181.8,534.1 181.6,530.1 181.6,527.6 C181.7,525.0 181.5,522.3 182.5,521.0 Z" fill="#000" fill-opacity="0.08" stroke="#666" stroke-width="0.45" stroke-opacity="0.8"/><path d="M183.3,522.1 C184.0,521.3 185.8,521.6 186.9,522.0 C188.0,522.3 189.2,523.2 190.0,524.1 C190.9,525.0 191.8,525.9 192.0,527.2 C192.2,528.6 191.7,530.7 191.0,532.2 C190.4,533.6 189.2,535.1 188.2,535.9 C187.1,536.8 185.5,537.6 184.7,537.3 C183.9,536.9 183.7,535.3 183.3,533.6 C182.9,531.9 182.5,529.1 182.5,527.1 C182.5,525.2 182.5,523.0 183.3,522.1 Z" fill="#000" fill-opacity="0.10" stroke="#666" stroke-width="0.45" stroke-opacity="0.8"/><path d="M183.5,523.5 C183.9,522.8 185.0,522.8 185.8,523.0 C186.6,523.3 187.8,524.2 188.5,524.8 C189.1,525.5 189.7,526.0 189.8,526.8 C189.9,527.6 189.6,528.7 189.1,529.8 C188.6,530.8 187.4,532.4 186.7,533.1 C186.0,533.8 185.5,534.2 185.0,534.0 C184.5,533.7 184.1,532.6 183.7,531.5 C183.4,530.3 183.2,528.4 183.1,527.1 C183.1,525.7 183.1,524.1 183.5,523.5 Z" fill="#000" fill-opacity="0.12" stroke="#666" stroke-width="0.45" stroke-opacity="0.8"/><defs><radialGradient id="cg22"><stop offset="0" stop-color="#000" stop-opacity="0.75"/><stop offset="0.6" stop-color="#222" stop-opacity="0.5"/><stop offset="1" stop-color="#555" stop-opacity="0"/></radialGradient></defs><ellipse cx="184.5" cy="526.5" rx="4.800000000000001" ry="7.8" fill="url(#cg22)"/><ellipse cx="185.7" cy="527.5" rx="1.1" ry="1.3" fill="#fff" opacity="0.85" filter="url(#bl)"/><line x1="165.4" y1="534.4" x2="215.2" y2="534.4" stroke="#777" stroke-width="1"/><text x="214.4" y="519.6" font-size="10.5" text-anchor="end" font-weight="normal" fill="#111" stroke="#111" stroke-width="0.2">85.4</text><text x="228.8" y="522.6" font-size="4" text-anchor="end" fill="#777" transform="rotate(-55 228.3 521.6)">10<tspan font-size="2.6" dy="-1.2">4</tspan></text><text x="228.8" y="535.2333333333333" font-size="4" text-anchor="end" fill="#777" transform="rotate(-55 228.3 534.2333333333333)">10<tspan font-size="2.6" dy="-1.2">3</tspan></text><text x="228.8" y="547.8666666666667" font-size="4" text-anchor="end" fill="#777" transform="rotate(-55 228.3 546.8666666666667)">10<tspan font-size="2.6" dy="-1.2">2</tspan></text><text x="228.8" y="560.5" font-size="4" text-anchor="end" fill="#777" transform="rotate(-55 228.3 559.5)">10<tspan font-size="2.6" dy="-1.2">1</tspan></text><text x="220.8" y="534.55" font-size="2.8" text-anchor="middle" fill="#aaa" transform="rotate(-90 220.8 534.55)">YFP-A :: CD69</text><text x="233.3" y="564.0" font-size="4" text-anchor="end" fill="#777" transform="rotate(-55 232.3 562.5)">10<tspan font-size="2.6" dy="-1.2">0</tspan></text><text x="245.9" y="564.0" font-size="4" text-anchor="end" fill="#777" transform="rotate(-55 244.9 562.5)">10<tspan font-size="2.6" dy="-1.2">1</tspan></text><text x="258.5" y="564.0" font-size="4" text-anchor="end" fill="#777" transform="rotate(-55 257.5 562.5)">10<tspan font-size="2.6" dy="-1.2">2</tspan></text><text x="271.1" y="564.0" font-size="4" text-anchor="end" fill="#777" transform="rotate(-55 270.1 562.5)">10<tspan font-size="2.6" dy="-1.2">3</tspan></text><text x="254.8" y="569.5" font-size="2.8" text-anchor="middle" fill="#999">Alexa YFP-A</text><rect x="231.3" y="509.6" width="51.19999999999999" height="49.89999999999998" fill="none" stroke="#aaa" stroke-width="0.9"/><rect x="232.3" y="511.90000000000003" width="49.19999999999999" height="22.300000000000022" fill="none" stroke="#999" stroke-width="0.9"/><path d="M246.3,519.8 C247.7,517.8 250.4,518.1 252.3,518.7 C254.2,519.2 256.1,520.6 257.6,522.9 C259.0,525.3 260.7,529.2 260.9,532.7 C261.1,536.2 260.0,540.7 258.8,544.0 C257.5,547.2 255.1,550.4 253.3,552.0 C251.4,553.5 249.1,554.3 247.6,553.2 C246.2,552.0 245.2,548.8 244.7,544.9 C244.1,541.1 243.9,534.4 244.2,530.2 C244.5,526.0 245.0,521.7 246.3,519.8 Z" fill="#000" fill-opacity="0.04" stroke="#666" stroke-width="0.45" stroke-opacity="0.8"/><path d="M246.1,521.4 C247.2,519.8 249.8,520.9 251.5,521.4 C253.1,522.0 254.7,522.9 256.0,524.8 C257.3,526.7 258.9,530.1 259.1,533.0 C259.3,535.9 258.4,539.5 257.3,542.2 C256.2,544.9 254.2,547.8 252.6,549.1 C251.0,550.4 249.0,550.9 247.8,549.9 C246.5,548.9 245.5,546.5 245.0,543.3 C244.5,540.1 244.6,534.2 244.8,530.5 C245.0,526.9 245.0,522.9 246.1,521.4 Z" fill="#000" fill-opacity="0.06" stroke="#666" stroke-width="0.45" stroke-opacity="0.8"/><path d="M246.6,523.8 C247.4,522.5 249.0,523.2 250.3,523.6 C251.6,524.0 253.5,524.7 254.5,526.2 C255.5,527.7 256.1,530.5 256.2,532.8 C256.3,535.2 255.6,538.2 254.9,540.4 C254.1,542.6 252.8,545.1 251.6,546.2 C250.4,547.3 248.7,547.7 247.7,546.8 C246.7,546.0 245.7,543.7 245.3,541.1 C244.9,538.5 245.3,534.1 245.5,531.2 C245.7,528.3 245.8,525.0 246.6,523.8 Z" fill="#000" fill-opacity="0.08" stroke="#666" stroke-width="0.45" stroke-opacity="0.8"/><path d="M246.5,526.0 C247.2,525.1 249.0,526.0 250.0,526.3 C251.1,526.6 252.1,526.7 252.8,528.0 C253.6,529.2 254.2,531.7 254.3,533.6 C254.4,535.5 254.1,537.6 253.4,539.2 C252.7,540.8 251.3,542.5 250.3,543.3 C249.3,544.0 248.2,544.2 247.4,543.6 C246.6,543.0 245.8,541.5 245.6,539.6 C245.4,537.7 245.8,534.4 246.0,532.1 C246.1,529.8 245.9,527.0 246.5,526.0 Z" fill="#000" fill-opacity="0.10" stroke="#666" stroke-width="0.45" stroke-opacity="0.8"/><path d="M247.2,529.0 C247.7,528.5 248.4,528.8 249.1,528.9 C249.7,529.0 250.6,529.0 251.1,529.8 C251.7,530.5 252.5,532.1 252.5,533.2 C252.5,534.4 251.7,535.7 251.2,536.8 C250.7,537.8 250.1,539.0 249.5,539.6 C249.0,540.3 248.6,541.2 248.0,540.7 C247.5,540.3 246.5,538.6 246.2,537.1 C246.0,535.7 246.2,533.4 246.4,532.0 C246.6,530.7 246.8,529.5 247.2,529.0 Z" fill="#000" fill-opacity="0.12" stroke="#666" stroke-width="0.45" stroke-opacity="0.8"/><defs><radialGradient id="cg23"><stop offset="0" stop-color="#000" stop-opacity="0.75"/><stop offset="0.6" stop-color="#222" stop-opacity="0.5"/><stop offset="1" stop-color="#555" stop-opacity="0"/></radialGradient></defs><ellipse cx="247.5" cy="533.5" rx="3.5200000000000005" ry="12.0" fill="url(#cg23)"/><ellipse cx="250" cy="535.6" rx="1.1" ry="1.3" fill="#fff" opacity="0.85" filter="url(#bl)"/><ellipse cx="247.5" cy="556.5" rx="3.4" ry="2" fill="#999" opacity="0.6"/><line x1="231.3" y1="534.2" x2="282.5" y2="534.2" stroke="#777" stroke-width="1"/><text x="280.6" y="519.8" font-size="10.5" text-anchor="end" font-weight="normal" fill="#111" stroke="#111" stroke-width="0.2">41.7</text><text x="295.6" y="522.6" font-size="4" text-anchor="end" fill="#777" transform="rotate(-55 295.1 521.6)">10<tspan font-size="2.6" dy="-1.2">4</tspan></text><text x="295.6" y="535.2333333333333" font-size="4" text-anchor="end" fill="#777" transform="rotate(-55 295.1 534.2333333333333)">10<tspan font-size="2.6" dy="-1.2">3</tspan></text><text x="295.6" y="547.8666666666667" font-size="4" text-anchor="end" fill="#777" transform="rotate(-55 295.1 546.8666666666667)">10<tspan font-size="2.6" dy="-1.2">2</tspan></text><text x="295.6" y="560.5" font-size="4" text-anchor="end" fill="#777" transform="rotate(-55 295.1 559.5)">10<tspan font-size="2.6" dy="-1.2">1</tspan></text><text x="287.6" y="534.55" font-size="2.8" text-anchor="middle" fill="#aaa" transform="rotate(-90 287.6 534.55)">YFP-A :: CD69</text><text x="300.1" y="564.0" font-size="4" text-anchor="end" fill="#777" transform="rotate(-55 299.1 562.5)">10<tspan font-size="2.6" dy="-1.2">0</tspan></text><text x="312.70000000000005" y="564.0" font-size="4" text-anchor="end" fill="#777" transform="rotate(-55 311.70000000000005 562.5)">10<tspan font-size="2.6" dy="-1.2">1</tspan></text><text x="325.3" y="564.0" font-size="4" text-anchor="end" fill="#777" transform="rotate(-55 324.3 562.5)">10<tspan font-size="2.6" dy="-1.2">2</tspan></text><text x="337.90000000000003" y="564.0" font-size="4" text-anchor="end" fill="#777" transform="rotate(-55 336.90000000000003 562.5)">10<tspan font-size="2.6" dy="-1.2">3</tspan></text><text x="321.6" y="569.5" font-size="2.8" text-anchor="middle" fill="#999">Alexa YFP-A</text><rect x="298.1" y="509.6" width="51.099999999999966" height="49.89999999999998" fill="none" stroke="#aaa" stroke-width="0.9"/><rect x="299.1" y="511.90000000000003" width="49.099999999999966" height="22.300000000000022" fill="none" stroke="#999" stroke-width="0.9"/><path d="M313.2,518.6 C314.4,517.0 316.8,518.1 318.7,518.9 C320.7,519.7 323.1,520.8 324.8,523.1 C326.4,525.5 328.3,530.0 328.7,533.2 C329.0,536.4 328.0,539.3 326.7,542.2 C325.5,545.0 323.1,548.5 321.2,550.2 C319.2,552.0 316.5,553.8 315.0,552.6 C313.4,551.3 312.5,546.7 311.9,542.7 C311.3,538.7 311.0,532.4 311.2,528.4 C311.4,524.3 311.9,520.1 313.2,518.6 Z" fill="#000" fill-opacity="0.04" stroke="#666" stroke-width="0.45" stroke-opacity="0.8"/><path d="M313.4,519.8 C314.5,518.6 316.4,519.7 318.0,520.4 C319.6,521.1 321.4,522.1 322.9,524.0 C324.3,525.9 326.5,529.3 326.8,531.9 C327.1,534.5 325.9,537.2 324.7,539.5 C323.6,541.9 321.5,544.8 319.9,546.3 C318.3,547.8 316.5,549.6 315.2,548.7 C313.8,547.7 312.4,544.4 311.8,540.9 C311.1,537.4 311.0,531.2 311.3,527.7 C311.6,524.2 312.2,521.1 313.4,519.8 Z" fill="#000" fill-opacity="0.06" stroke="#666" stroke-width="0.45" stroke-opacity="0.8"/><path d="M313.5,521.7 C314.4,520.7 316.2,521.6 317.6,522.0 C319.0,522.5 320.6,522.8 321.7,524.5 C322.8,526.1 324.2,529.5 324.3,531.7 C324.4,533.9 323.4,535.6 322.4,537.4 C321.4,539.2 319.7,541.3 318.4,542.5 C317.1,543.7 315.6,545.3 314.7,544.5 C313.7,543.7 313.1,540.5 312.7,537.8 C312.3,535.1 312.0,531.1 312.1,528.4 C312.2,525.7 312.5,522.8 313.5,521.7 Z" fill="#000" fill-opacity="0.08" stroke="#666" stroke-width="0.45" stroke-opacity="0.8"/><path d="M313.7,523.1 C314.3,522.3 315.4,522.9 316.3,523.3 C317.3,523.7 318.5,524.4 319.4,525.6 C320.3,526.8 321.5,528.9 321.7,530.5 C322.0,532.0 321.5,533.5 320.8,535.0 C320.1,536.5 318.6,538.6 317.5,539.4 C316.4,540.3 315.1,540.7 314.3,540.1 C313.5,539.4 313.0,537.6 312.8,535.6 C312.6,533.5 312.7,529.9 312.9,527.8 C313.0,525.7 313.1,523.9 313.7,523.1 Z" fill="#000" fill-opacity="0.10" stroke="#666" stroke-width="0.45" stroke-opacity="0.8"/><path d="M313.6,524.3 C314.0,523.8 315.0,524.2 315.7,524.6 C316.4,524.9 317.2,525.6 317.7,526.5 C318.3,527.4 318.6,529.0 318.8,530.1 C318.9,531.2 319.0,532.1 318.6,533.1 C318.2,534.0 317.2,535.1 316.4,535.6 C315.7,536.2 314.9,536.7 314.3,536.3 C313.7,535.8 313.1,534.4 312.9,533.0 C312.7,531.6 312.8,529.3 312.9,527.9 C313.0,526.4 313.1,524.9 313.6,524.3 Z" fill="#000" fill-opacity="0.12" stroke="#666" stroke-width="0.45" stroke-opacity="0.8"/><defs><radialGradient id="cg24"><stop offset="0" stop-color="#000" stop-opacity="0.75"/><stop offset="0.6" stop-color="#222" stop-opacity="0.5"/><stop offset="1" stop-color="#555" stop-opacity="0"/></radialGradient></defs><ellipse cx="314" cy="528" rx="3.84" ry="12.0" fill="url(#cg24)"/><ellipse cx="316.3" cy="526.3" rx="1.1" ry="1.3" fill="#fff" opacity="0.85" filter="url(#bl)"/><ellipse cx="315.8" cy="545.4" rx="1.1" ry="1.3" fill="#fff" opacity="0.85" filter="url(#bl)"/><line x1="298.1" y1="534.2" x2="349.2" y2="534.2" stroke="#777" stroke-width="1"/><text x="348.7" y="519.8" font-size="10.5" text-anchor="end" font-weight="normal" fill="#111" stroke="#111" stroke-width="0.2">66.1</text><line x1="51.7" y1="482" x2="51.7" y2="503.5" stroke="#000" stroke-width="2"/><line x1="50.7" y1="502.8" x2="78" y2="502.8" stroke="#000" stroke-width="2"/><path d="M51.7,470 L57.900000000000006,486 L51.7,482.8 L45.5,486 Z" fill="#000"/><path d="M89.9,502.8 L73.9,496.8 L77.10000000000001,502.8 L73.9,508.8 Z" fill="#000"/><text x="43.5" y="490.5" font-size="12.5" text-anchor="middle" font-weight="normal" fill="#000" transform="rotate(-90 43.5 490.5)">SSC</text><text x="66.3" y="520.4" font-size="12.5" text-anchor="middle" font-weight="normal" fill="#000">YFP</text><line x1="50.5" y1="542" x2="50.5" y2="562.4" stroke="#000" stroke-width="2"/><line x1="49.5" y1="561.4" x2="72" y2="561.4" stroke="#000" stroke-width="2"/><path d="M50.5,529.8 L56.7,545.8 L50.5,542.5999999999999 L44.3,545.8 Z" fill="#000"/><path d="M83.3,561.4 L68.3,555.4 L71.3,561.4 L68.3,567.4 Z" fill="#000"/><text x="43.5" y="548" font-size="12.5" text-anchor="middle" font-weight="normal" fill="#000" transform="rotate(-90 43.5 548)">CD69</text><text x="62.5" y="579" font-size="12.5" text-anchor="middle" font-weight="normal" fill="#000">YFP</text><line x1="404.6" y1="453" x2="404.6" y2="525.8" stroke="#000" stroke-width="1"/><line x1="404" y1="525.3" x2="512" y2="525.3" stroke="#000" stroke-width="1"/><line x1="401.5" y1="454.19999999999993" x2="404.6" y2="454.19999999999993" stroke="#000" stroke-width="1"/><text x="400" y="457.5999999999999" font-size="10" text-anchor="end" font-weight="normal" fill="#000">400</text><line x1="401.5" y1="471.97499999999997" x2="404.6" y2="471.97499999999997" stroke="#000" stroke-width="1"/><text x="400" y="475.37499999999994" font-size="10" text-anchor="end" font-weight="normal" fill="#000">300</text><line x1="401.5" y1="489.74999999999994" x2="404.6" y2="489.74999999999994" stroke="#000" stroke-width="1"/><text x="400" y="493.1499999999999" font-size="10" text-anchor="end" font-weight="normal" fill="#000">200</text><line x1="401.5" y1="507.525" x2="404.6" y2="507.525" stroke="#000" stroke-width="1"/><text x="400" y="510.92499999999995" font-size="10" text-anchor="end" font-weight="normal" fill="#000">100</text><line x1="401.5" y1="525.3" x2="404.6" y2="525.3" stroke="#000" stroke-width="1"/><text x="395" y="528.6999999999999" font-size="10" text-anchor="end" font-weight="normal" fill="#000">0</text><line x1="418" y1="525.3" x2="418" y2="528" stroke="#000" stroke-width="1"/><line x1="445" y1="525.3" x2="445" y2="528" stroke="#000" stroke-width="1"/><line x1="472" y1="525.3" x2="472" y2="528" stroke="#000" stroke-width="1"/><line x1="498.8" y1="525.3" x2="498.8" y2="528" stroke="#000" stroke-width="1"/><text x="379.4" y="487.7" font-size="11.6" text-anchor="middle" font-weight="normal" fill="#000" transform="rotate(-90 379.4 487.7)">CD69 (NMFI)</text><line x1="408.8" y1="495.1" x2="427.2" y2="495.1" stroke="#000" stroke-width="1.2"/><line x1="418" y1="490.7" x2="418" y2="499.2" stroke="#000" stroke-width="1.1"/><line x1="412.8" y1="490.7" x2="423.2" y2="490.7" stroke="#000" stroke-width="1.1"/><line x1="412.8" y1="499.2" x2="423.2" y2="499.2" stroke="#000" stroke-width="1.1"/><circle cx="418" cy="483.1" r="1.6" fill="#000"/><circle cx="413.8" cy="495.8" r="1.6" fill="#000"/><path d="M418,494.9 L419.9,498.29999999999995 L416.1,498.29999999999995 Z" fill="#000"/><circle cx="418" cy="503.4" r="1.6" fill="#000"/><line x1="436.1" y1="466.5" x2="454.5" y2="466.5" stroke="#000" stroke-width="1.2"/><line x1="445.3" y1="464.5" x2="445.3" y2="468.3" stroke="#000" stroke-width="1.1"/><line x1="440.1" y1="464.5" x2="450.5" y2="464.5" stroke="#000" stroke-width="1.1"/><line x1="440.1" y1="468.3" x2="450.5" y2="468.3" stroke="#000" stroke-width="1.1"/><circle cx="445" cy="461.2" r="1.6" fill="#000"/><circle cx="440.4" cy="466.9" r="1.6" fill="#000"/><circle cx="444.3" cy="468.5" r="1.6" fill="#000"/><circle cx="448.9" cy="468.5" r="1.6" fill="#000"/><line x1="462.8" y1="506.2" x2="481.2" y2="506.2" stroke="#000" stroke-width="1.2"/><line x1="472" y1="501.5" x2="472" y2="509.6" stroke="#000" stroke-width="1.1"/><line x1="466.8" y1="501.5" x2="477.2" y2="501.5" stroke="#000" stroke-width="1.1"/><line x1="466.8" y1="509.6" x2="477.2" y2="509.6" stroke="#000" stroke-width="1.1"/><path d="M476.2,496.1 L478.09999999999997,499.5 L474.3,499.5 Z" fill="#000"/><circle cx="472" cy="501.1" r="1.6" fill="#000"/><circle cx="472" cy="515.4" r="1.6" fill="#000"/><line x1="490.0" y1="477.3" x2="508.4" y2="477.3" stroke="#000" stroke-width="1.2"/><line x1="499.2" y1="476.2" x2="499.2" y2="478.8" stroke="#000" stroke-width="1.1"/><line x1="494.0" y1="476.2" x2="504.4" y2="476.2" stroke="#000" stroke-width="1.1"/><line x1="494.0" y1="478.8" x2="504.4" y2="478.8" stroke="#000" stroke-width="1.1"/><path d="M496.9,474.6 L498.79999999999995,478.0 L495.0,478.0 Z" fill="#000"/><path d="M502.7,473 L504.59999999999997,476.4 L500.8,476.4 Z" fill="#000"/><path d="M499.2,479.9 L501.09999999999997,483.29999999999995 L497.3,483.29999999999995 Z" fill="#000"/><polyline points="416.20,466.90 416.20,450.10 473.80,450.10 473.80,479.60" fill="none" stroke="#777" stroke-width="0.9" stroke-linejoin="round"/><polyline points="444.30,439.20 444.30,430.00 499.90,430.00 499.90,445.00" fill="none" stroke="#777" stroke-width="0.9" stroke-linejoin="round"/><text x="436.6" y="451.6" font-size="16.5" text-anchor="middle" font-weight="normal" fill="#000">*</text><text x="474.4" y="429.7" font-size="16" text-anchor="middle" font-weight="normal" fill="#000">**</text><text x="367.7" y="545.2" font-size="12.2" text-anchor="start" font-weight="normal" fill="#000">anti-Ig:</text><line x1="414.8" y1="542.2" x2="421.5" y2="542.2" stroke="#999" stroke-width="1"/><line x1="469.2" y1="542.2" x2="476.3" y2="542.2" stroke="#999" stroke-width="1"/><text x="445.1" y="545" font-size="11" text-anchor="middle" font-weight="normal" fill="#000">+</text><text x="499.2" y="545" font-size="11" text-anchor="middle" font-weight="normal" fill="#000">+</text><line x1="406.2" y1="551.5" x2="451.7" y2="551.5" stroke="#333" stroke-width="1"/><line x1="462.5" y1="551.5" x2="509.2" y2="551.5" stroke="#333" stroke-width="1"/><text x="411.7" y="569.2" font-size="12" text-anchor="start" fill="#000">FcRL4<tspan dy="-3.9" font-size="12.5">-</tspan></text><text x="464.6" y="569.2" font-size="12" text-anchor="start" fill="#000">FcRL4<tspan dy="-1.9" font-size="15">+</tspan></text>
</svg>
</body></html>
